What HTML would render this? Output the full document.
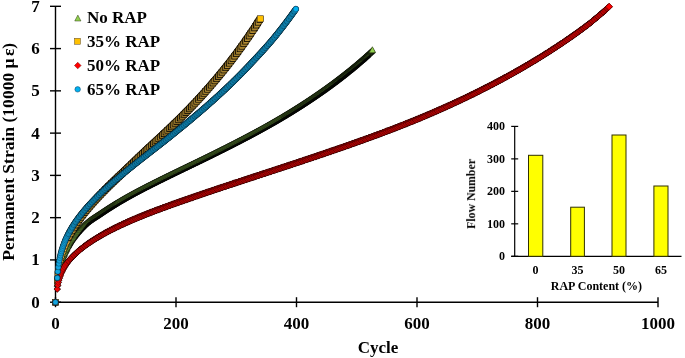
<!DOCTYPE html>
<html><head><meta charset="utf-8"><title>chart</title><style>
html,body{margin:0;padding:0;background:#fff;}
#c{position:relative;width:685px;height:358px;overflow:hidden;background:#fff;font-family:"Liberation Serif",serif;font-weight:bold;color:#000;}
.t{position:absolute;white-space:nowrap;line-height:1;}
#tx{position:absolute;left:0;top:0;width:685px;height:358px;will-change:opacity;opacity:0.999;}
.a{font-size:17px;}
.b{font-size:12px;}
</style></head><body><div id="c">
<svg width="685" height="358" viewBox="0 0 685 358" style="position:absolute;left:0;top:0">
<defs>
<polygon id="mt" points="-2.8,2.85 2.8,2.85 0,-2.0" fill="#92d050" stroke="#000" stroke-width="0.5"/>
<rect id="ms" x="-2.65" y="-2.65" width="5.3" height="5.3" fill="#e6b440" stroke="#000" stroke-width="0.22"/>
<polygon id="md" points="-3.1,0 0,-3.1 3.1,0 0,3.1" fill="#f00808" stroke="#000" stroke-width="0.3"/>
<circle id="mc" r="2.62" fill="#14a4de" stroke="#000" stroke-width="0.26"/>
<rect id="hs" x="-2.65" y="-2.65" width="5.3" height="5.3" fill="#e6b440" stroke="#000" stroke-width="0.85"/>
<polygon id="hd" points="-3.1,0 0,-3.1 3.1,0 0,3.1" fill="#f00808" stroke="#000" stroke-width="0.55"/>
<circle id="hc" r="2.62" fill="#14a4de" stroke="#000" stroke-width="0.45"/>
<polygon id="ht" points="-2.8,2.85 2.8,2.85 0,-2.0" fill="#92d050" stroke="#000" stroke-width="0.6"/>
<polygon id="ht2" points="-2.8,2.85 2.8,2.85 0,-2.0" fill="#92d050" stroke="#000" stroke-width="0.7"/>
<polygon id="ot" points="-3.0,3.0 3.0,3.0 0,-2.3" fill="#0c1404" stroke="#0c1404" stroke-width="0.5"/>
<rect id="os" x="-2.85" y="-2.85" width="5.7" height="5.7" fill="#2a1c00" stroke="#2a1c00" stroke-width="0.5"/>
<polygon id="od" points="-3.35,0 0,-3.35 3.35,0 0,3.35" fill="#3a0000" stroke="#3a0000" stroke-width="0.5"/>
<circle id="oc" r="2.85" fill="#04202e" stroke="#04202e" stroke-width="0.5"/>
<polygon id="et" points="-3.1,3.0 3.1,3.0 0,-2.9" fill="#92d050" stroke="#2c3c10" stroke-width="0.5"/>
<rect id="es" x="-3.0" y="-3.0" width="6.0" height="6.0" fill="#ffc000" stroke="#5a4a30" stroke-width="0.5"/>
<polygon id="ed" points="-3.3,0 0,-3.3 3.3,0 0,3.3" fill="#ff0000" stroke="#700000" stroke-width="0.5"/>
<circle id="ec" r="2.75" fill="#00b0f0" stroke="#104060" stroke-width="0.5"/>
</defs>
<g stroke="#000" stroke-width="1.4" fill="none">
<line x1="55.5" y1="6.3" x2="55.5" y2="302.2"/>
<line x1="55.5" y1="302.2" x2="658" y2="302.2"/>
<line x1="50" y1="302.20" x2="61" y2="302.20"/>
<line x1="50" y1="259.93" x2="61" y2="259.93"/>
<line x1="50" y1="217.66" x2="61" y2="217.66"/>
<line x1="50" y1="175.39" x2="61" y2="175.39"/>
<line x1="50" y1="133.12" x2="61" y2="133.12"/>
<line x1="50" y1="90.85" x2="61" y2="90.85"/>
<line x1="50" y1="48.58" x2="61" y2="48.58"/>
<line x1="50" y1="6.31" x2="61" y2="6.31"/>
<line x1="55.50" y1="297.2" x2="55.50" y2="307.2"/>
<line x1="176.00" y1="297.2" x2="176.00" y2="307.2"/>
<line x1="296.50" y1="297.2" x2="296.50" y2="307.2"/>
<line x1="417.00" y1="297.2" x2="417.00" y2="307.2"/>
<line x1="537.50" y1="297.2" x2="537.50" y2="307.2"/>
<line x1="658.00" y1="297.2" x2="658.00" y2="307.2"/>
</g>
<g stroke="#000" stroke-width="1.2" fill="none">
<line x1="514.7" y1="126.4" x2="514.7" y2="256.3"/>
<line x1="511.2" y1="256.3" x2="681.5" y2="256.3"/>
<line x1="511.2" y1="256.30" x2="518.2" y2="256.30"/>
<line x1="511.2" y1="223.83" x2="518.2" y2="223.83"/>
<line x1="511.2" y1="191.35" x2="518.2" y2="191.35"/>
<line x1="511.2" y1="158.88" x2="518.2" y2="158.88"/>
<line x1="511.2" y1="126.40" x2="518.2" y2="126.40"/>
</g>
<rect x="528.5" y="155.3" width="14.30" height="101.00" fill="#ffff00" stroke="#303000" stroke-width="1"/>
<rect x="570.7" y="207.2" width="13.70" height="49.10" fill="#ffff00" stroke="#303000" stroke-width="1"/>
<rect x="612.0" y="135.0" width="14.00" height="121.30" fill="#ffff00" stroke="#303000" stroke-width="1"/>
<rect x="653.9" y="186.0" width="14.10" height="70.30" fill="#ffff00" stroke="#303000" stroke-width="1"/>
<g id="s-green">
<use href="#ot" x="55.50" y="302.20"/>
<use href="#ot" x="57.28" y="283.51"/>
<use href="#ot" x="57.77" y="278.31"/>
<use href="#ot" x="58.27" y="274.59"/>
<use href="#ot" x="58.78" y="271.58"/>
<use href="#ot" x="59.30" y="269.01"/>
<use href="#ot" x="59.83" y="266.73"/>
<use href="#ot" x="60.36" y="264.66"/>
<use href="#ot" x="60.90" y="262.77"/>
<use href="#ot" x="61.45" y="261.01"/>
<use href="#ot" x="62.00" y="259.35"/>
<use href="#ot" x="62.56" y="257.79"/>
<use href="#ot" x="63.12" y="256.31"/>
<use href="#ot" x="63.69" y="254.89"/>
<use href="#ot" x="64.26" y="253.53"/>
<use href="#ot" x="64.83" y="252.20"/>
<use href="#ot" x="65.40" y="250.91"/>
<use href="#ot" x="65.98" y="249.65"/>
<use href="#ot" x="66.56" y="248.42"/>
<use href="#ot" x="67.14" y="247.22"/>
<use href="#ot" x="67.73" y="246.05"/>
<use href="#ot" x="68.31" y="244.92"/>
<use href="#ot" x="68.90" y="243.81"/>
<use href="#ot" x="69.49" y="242.74"/>
<use href="#ot" x="70.08" y="241.71"/>
<use href="#ot" x="70.67" y="240.71"/>
<use href="#ot" x="71.26" y="239.75"/>
<use href="#ot" x="71.85" y="238.84"/>
<use href="#ot" x="72.45" y="237.98"/>
<use href="#ot" x="73.04" y="237.14"/>
<use href="#ot" x="73.64" y="236.33"/>
<use href="#ot" x="74.24" y="235.54"/>
<use href="#ot" x="74.83" y="234.75"/>
<use href="#ot" x="75.43" y="233.99"/>
<use href="#ot" x="76.03" y="233.24"/>
<use href="#ot" x="76.63" y="232.50"/>
<use href="#ot" x="77.23" y="231.78"/>
<use href="#ot" x="77.82" y="231.08"/>
<use href="#ot" x="78.42" y="230.38"/>
<use href="#ot" x="79.02" y="229.70"/>
<use href="#ot" x="79.62" y="229.03"/>
<use href="#ot" x="80.22" y="228.37"/>
<use href="#ot" x="80.82" y="227.72"/>
<use href="#ot" x="81.43" y="227.09"/>
<use href="#ot" x="82.03" y="226.47"/>
<use href="#ot" x="82.63" y="225.86"/>
<use href="#ot" x="83.23" y="225.26"/>
<use href="#ot" x="83.83" y="224.67"/>
<use href="#ot" x="84.43" y="224.09"/>
<use href="#ot" x="85.03" y="223.52"/>
<use href="#ot" x="85.63" y="222.97"/>
<use href="#ot" x="86.24" y="222.44"/>
<use href="#ot" x="86.84" y="221.93"/>
<use href="#ot" x="87.44" y="221.44"/>
<use href="#ot" x="88.04" y="220.95"/>
<use href="#ot" x="88.64" y="220.49"/>
<use href="#ot" x="89.24" y="220.03"/>
<use href="#ot" x="89.85" y="219.59"/>
<use href="#ot" x="90.45" y="219.16"/>
<use href="#ot" x="91.05" y="218.73"/>
<use href="#ot" x="91.65" y="218.32"/>
<use href="#ot" x="92.26" y="217.91"/>
<use href="#ot" x="92.86" y="217.51"/>
<use href="#ot" x="93.46" y="217.11"/>
<use href="#ot" x="94.06" y="216.72"/>
<use href="#ot" x="94.66" y="216.33"/>
<use href="#ot" x="95.27" y="215.94"/>
<use href="#ot" x="95.87" y="215.55"/>
<use href="#ot" x="96.47" y="215.17"/>
<use href="#ot" x="97.07" y="214.78"/>
<use href="#ot" x="97.68" y="214.39"/>
<use href="#ot" x="98.28" y="214.00"/>
<use href="#ot" x="98.88" y="213.60"/>
<use href="#ot" x="99.48" y="213.20"/>
<use href="#ot" x="100.09" y="212.79"/>
<use href="#ot" x="100.69" y="212.38"/>
<use href="#ot" x="101.29" y="211.97"/>
<use href="#ot" x="101.89" y="211.57"/>
<use href="#ot" x="102.50" y="211.16"/>
<use href="#ot" x="103.10" y="210.76"/>
<use href="#ot" x="103.70" y="210.36"/>
<use href="#ot" x="104.30" y="209.97"/>
<use href="#ot" x="104.91" y="209.57"/>
<use href="#ot" x="105.51" y="209.18"/>
<use href="#ot" x="106.11" y="208.79"/>
<use href="#ot" x="106.71" y="208.40"/>
<use href="#ot" x="107.32" y="208.01"/>
<use href="#ot" x="107.92" y="207.63"/>
<use href="#ot" x="108.52" y="207.24"/>
<use href="#ot" x="109.12" y="206.86"/>
<use href="#ot" x="109.73" y="206.48"/>
<use href="#ot" x="110.33" y="206.10"/>
<use href="#ot" x="110.93" y="205.72"/>
<use href="#ot" x="111.53" y="205.35"/>
<use href="#ot" x="112.14" y="204.97"/>
<use href="#ot" x="112.74" y="204.60"/>
<use href="#ot" x="113.34" y="204.23"/>
<use href="#ot" x="113.94" y="203.86"/>
<use href="#ot" x="114.55" y="203.49"/>
<use href="#ot" x="115.15" y="203.13"/>
<use href="#ot" x="115.75" y="202.76"/>
<use href="#ot" x="116.35" y="202.40"/>
<use href="#ot" x="116.96" y="202.04"/>
<use href="#ot" x="117.56" y="201.68"/>
<use href="#ot" x="118.16" y="201.32"/>
<use href="#ot" x="118.76" y="200.96"/>
<use href="#ot" x="119.37" y="200.60"/>
<use href="#ot" x="119.97" y="200.25"/>
<use href="#ot" x="120.57" y="199.90"/>
<use href="#ot" x="121.17" y="199.55"/>
<use href="#ot" x="121.78" y="199.20"/>
<use href="#ot" x="122.38" y="198.85"/>
<use href="#ot" x="122.98" y="198.50"/>
<use href="#ot" x="123.58" y="198.15"/>
<use href="#ot" x="124.19" y="197.81"/>
<use href="#ot" x="124.79" y="197.46"/>
<use href="#ot" x="125.39" y="197.12"/>
<use href="#ot" x="125.99" y="196.78"/>
<use href="#ot" x="126.60" y="196.44"/>
<use href="#ot" x="127.20" y="196.10"/>
<use href="#ot" x="127.80" y="195.77"/>
<use href="#ot" x="128.40" y="195.43"/>
<use href="#ot" x="129.01" y="195.10"/>
<use href="#ot" x="129.61" y="194.77"/>
<use href="#ot" x="130.21" y="194.44"/>
<use href="#ot" x="130.81" y="194.11"/>
<use href="#ot" x="131.42" y="193.78"/>
<use href="#ot" x="132.02" y="193.45"/>
<use href="#ot" x="132.62" y="193.12"/>
<use href="#ot" x="133.22" y="192.80"/>
<use href="#ot" x="133.83" y="192.47"/>
<use href="#ot" x="134.43" y="192.15"/>
<use href="#ot" x="135.03" y="191.82"/>
<use href="#ot" x="135.63" y="191.50"/>
<use href="#ot" x="136.24" y="191.18"/>
<use href="#ot" x="136.84" y="190.86"/>
<use href="#ot" x="137.44" y="190.54"/>
<use href="#ot" x="138.04" y="190.22"/>
<use href="#ot" x="138.65" y="189.91"/>
<use href="#ot" x="139.25" y="189.59"/>
<use href="#ot" x="139.85" y="189.27"/>
<use href="#ot" x="140.45" y="188.96"/>
<use href="#ot" x="141.06" y="188.64"/>
<use href="#ot" x="141.66" y="188.33"/>
<use href="#ot" x="142.26" y="188.02"/>
<use href="#ot" x="142.86" y="187.70"/>
<use href="#ot" x="143.47" y="187.39"/>
<use href="#ot" x="144.07" y="187.08"/>
<use href="#ot" x="144.67" y="186.77"/>
<use href="#ot" x="145.27" y="186.46"/>
<use href="#ot" x="145.88" y="186.15"/>
<use href="#ot" x="146.48" y="185.85"/>
<use href="#ot" x="147.08" y="185.54"/>
<use href="#ot" x="147.68" y="185.23"/>
<use href="#ot" x="148.29" y="184.92"/>
<use href="#ot" x="148.89" y="184.62"/>
<use href="#ot" x="149.49" y="184.31"/>
<use href="#ot" x="150.09" y="184.01"/>
<use href="#ot" x="150.70" y="183.70"/>
<use href="#ot" x="151.30" y="183.40"/>
<use href="#ot" x="151.90" y="183.10"/>
<use href="#ot" x="152.50" y="182.79"/>
<use href="#ot" x="153.11" y="182.49"/>
<use href="#ot" x="153.71" y="182.19"/>
<use href="#ot" x="154.31" y="181.89"/>
<use href="#ot" x="154.91" y="181.58"/>
<use href="#ot" x="155.52" y="181.28"/>
<use href="#ot" x="156.12" y="180.98"/>
<use href="#ot" x="156.72" y="180.68"/>
<use href="#ot" x="157.32" y="180.38"/>
<use href="#ot" x="157.93" y="180.08"/>
<use href="#ot" x="158.53" y="179.79"/>
<use href="#ot" x="159.13" y="179.49"/>
<use href="#ot" x="159.73" y="179.19"/>
<use href="#ot" x="160.34" y="178.89"/>
<use href="#ot" x="160.94" y="178.59"/>
<use href="#ot" x="161.54" y="178.29"/>
<use href="#ot" x="162.14" y="178.00"/>
<use href="#ot" x="162.75" y="177.70"/>
<use href="#ot" x="163.35" y="177.40"/>
<use href="#ot" x="163.95" y="177.11"/>
<use href="#ot" x="164.55" y="176.81"/>
<use href="#ot" x="165.16" y="176.52"/>
<use href="#ot" x="165.76" y="176.22"/>
<use href="#ot" x="166.36" y="175.92"/>
<use href="#ot" x="166.96" y="175.63"/>
<use href="#ot" x="167.57" y="175.33"/>
<use href="#ot" x="168.17" y="175.04"/>
<use href="#ot" x="168.77" y="174.74"/>
<use href="#ot" x="169.37" y="174.45"/>
<use href="#ot" x="169.98" y="174.15"/>
<use href="#ot" x="170.58" y="173.86"/>
<use href="#ot" x="171.18" y="173.57"/>
<use href="#ot" x="171.78" y="173.27"/>
<use href="#ot" x="172.39" y="172.98"/>
<use href="#ot" x="172.99" y="172.68"/>
<use href="#ot" x="173.59" y="172.39"/>
<use href="#ot" x="174.19" y="172.10"/>
<use href="#ot" x="174.80" y="171.81"/>
<use href="#ot" x="175.40" y="171.51"/>
<use href="#ot" x="176.00" y="171.22"/>
<use href="#ot" x="176.60" y="170.93"/>
<use href="#ot" x="177.21" y="170.64"/>
<use href="#ot" x="177.81" y="170.35"/>
<use href="#ot" x="178.41" y="170.05"/>
<use href="#ot" x="179.01" y="169.76"/>
<use href="#ot" x="179.62" y="169.47"/>
<use href="#ot" x="180.22" y="169.18"/>
<use href="#ot" x="180.82" y="168.89"/>
<use href="#ot" x="181.42" y="168.60"/>
<use href="#ot" x="182.03" y="168.31"/>
<use href="#ot" x="182.63" y="168.02"/>
<use href="#ot" x="183.23" y="167.73"/>
<use href="#ot" x="183.83" y="167.44"/>
<use href="#ot" x="184.44" y="167.15"/>
<use href="#ot" x="185.04" y="166.86"/>
<use href="#ot" x="185.64" y="166.56"/>
<use href="#ot" x="186.24" y="166.27"/>
<use href="#ot" x="186.85" y="165.98"/>
<use href="#ot" x="187.45" y="165.69"/>
<use href="#ot" x="188.05" y="165.40"/>
<use href="#ot" x="188.65" y="165.11"/>
<use href="#ot" x="189.26" y="164.82"/>
<use href="#ot" x="189.86" y="164.53"/>
<use href="#ot" x="190.46" y="164.24"/>
<use href="#ot" x="191.06" y="163.95"/>
<use href="#ot" x="191.67" y="163.66"/>
<use href="#ot" x="192.27" y="163.37"/>
<use href="#ot" x="192.87" y="163.08"/>
<use href="#ot" x="193.47" y="162.79"/>
<use href="#ot" x="194.08" y="162.49"/>
<use href="#ot" x="194.68" y="162.20"/>
<use href="#ot" x="195.28" y="161.91"/>
<use href="#ot" x="195.88" y="161.62"/>
<use href="#ot" x="196.49" y="161.33"/>
<use href="#ot" x="197.09" y="161.04"/>
<use href="#ot" x="197.69" y="160.74"/>
<use href="#ot" x="198.29" y="160.45"/>
<use href="#ot" x="198.90" y="160.16"/>
<use href="#ot" x="199.50" y="159.87"/>
<use href="#ot" x="200.10" y="159.57"/>
<use href="#ot" x="200.70" y="159.28"/>
<use href="#ot" x="201.31" y="158.99"/>
<use href="#ot" x="201.91" y="158.69"/>
<use href="#ot" x="202.51" y="158.40"/>
<use href="#ot" x="203.11" y="158.10"/>
<use href="#ot" x="203.72" y="157.81"/>
<use href="#ot" x="204.32" y="157.51"/>
<use href="#ot" x="204.92" y="157.22"/>
<use href="#ot" x="205.52" y="156.92"/>
<use href="#ot" x="206.13" y="156.63"/>
<use href="#ot" x="206.73" y="156.33"/>
<use href="#ot" x="207.33" y="156.04"/>
<use href="#ot" x="207.93" y="155.74"/>
<use href="#ot" x="208.54" y="155.44"/>
<use href="#ot" x="209.14" y="155.14"/>
<use href="#ot" x="209.74" y="154.85"/>
<use href="#ot" x="210.34" y="154.55"/>
<use href="#ot" x="210.95" y="154.25"/>
<use href="#ot" x="211.55" y="153.95"/>
<use href="#ot" x="212.15" y="153.65"/>
<use href="#ot" x="212.75" y="153.35"/>
<use href="#ot" x="213.36" y="153.05"/>
<use href="#ot" x="213.96" y="152.75"/>
<use href="#ot" x="214.56" y="152.45"/>
<use href="#ot" x="215.16" y="152.16"/>
<use href="#ot" x="215.77" y="151.86"/>
<use href="#ot" x="216.37" y="151.56"/>
<use href="#ot" x="216.97" y="151.25"/>
<use href="#ot" x="217.57" y="150.95"/>
<use href="#ot" x="218.18" y="150.65"/>
<use href="#ot" x="218.78" y="150.35"/>
<use href="#ot" x="219.38" y="150.05"/>
<use href="#ot" x="219.98" y="149.75"/>
<use href="#ot" x="220.59" y="149.45"/>
<use href="#ot" x="221.19" y="149.15"/>
<use href="#ot" x="221.79" y="148.84"/>
<use href="#ot" x="222.39" y="148.54"/>
<use href="#ot" x="223.00" y="148.24"/>
<use href="#ot" x="223.60" y="147.94"/>
<use href="#ot" x="224.20" y="147.63"/>
<use href="#ot" x="224.80" y="147.33"/>
<use href="#ot" x="225.41" y="147.02"/>
<use href="#ot" x="226.01" y="146.72"/>
<use href="#ot" x="226.61" y="146.42"/>
<use href="#ot" x="227.21" y="146.11"/>
<use href="#ot" x="227.82" y="145.81"/>
<use href="#ot" x="228.42" y="145.50"/>
<use href="#ot" x="229.02" y="145.19"/>
<use href="#ot" x="229.62" y="144.89"/>
<use href="#ot" x="230.23" y="144.58"/>
<use href="#ot" x="230.83" y="144.28"/>
<use href="#ot" x="231.43" y="143.97"/>
<use href="#ot" x="232.03" y="143.66"/>
<use href="#ot" x="232.64" y="143.35"/>
<use href="#ot" x="233.24" y="143.04"/>
<use href="#ot" x="233.84" y="142.74"/>
<use href="#ot" x="234.44" y="142.43"/>
<use href="#ot" x="235.05" y="142.12"/>
<use href="#ot" x="235.65" y="141.81"/>
<use href="#ot" x="236.25" y="141.50"/>
<use href="#ot" x="236.85" y="141.19"/>
<use href="#ot" x="237.46" y="140.87"/>
<use href="#ot" x="238.06" y="140.56"/>
<use href="#ot" x="238.66" y="140.25"/>
<use href="#ot" x="239.26" y="139.94"/>
<use href="#ot" x="239.87" y="139.63"/>
<use href="#ot" x="240.47" y="139.31"/>
<use href="#ot" x="241.07" y="139.00"/>
<use href="#ot" x="241.67" y="138.68"/>
<use href="#ot" x="242.28" y="138.37"/>
<use href="#ot" x="242.88" y="138.05"/>
<use href="#ot" x="243.48" y="137.74"/>
<use href="#ot" x="244.08" y="137.42"/>
<use href="#ot" x="244.69" y="137.11"/>
<use href="#ot" x="245.29" y="136.79"/>
<use href="#ot" x="245.89" y="136.47"/>
<use href="#ot" x="246.49" y="136.15"/>
<use href="#ot" x="247.10" y="135.84"/>
<use href="#ot" x="247.70" y="135.52"/>
<use href="#ot" x="248.30" y="135.20"/>
<use href="#ot" x="248.90" y="134.88"/>
<use href="#ot" x="249.51" y="134.56"/>
<use href="#ot" x="250.11" y="134.23"/>
<use href="#ot" x="250.71" y="133.91"/>
<use href="#ot" x="251.31" y="133.59"/>
<use href="#ot" x="251.92" y="133.27"/>
<use href="#ot" x="252.52" y="132.94"/>
<use href="#ot" x="253.12" y="132.62"/>
<use href="#ot" x="253.72" y="132.30"/>
<use href="#ot" x="254.33" y="131.97"/>
<use href="#ot" x="254.93" y="131.64"/>
<use href="#ot" x="255.53" y="131.32"/>
<use href="#ot" x="256.13" y="130.99"/>
<use href="#ot" x="256.74" y="130.66"/>
<use href="#ot" x="257.34" y="130.34"/>
<use href="#ot" x="257.94" y="130.01"/>
<use href="#ot" x="258.54" y="129.68"/>
<use href="#ot" x="259.14" y="129.35"/>
<use href="#ot" x="259.75" y="129.02"/>
<use href="#ot" x="260.35" y="128.69"/>
<use href="#ot" x="260.95" y="128.35"/>
<use href="#ot" x="261.56" y="128.02"/>
<use href="#ot" x="262.16" y="127.69"/>
<use href="#ot" x="262.76" y="127.35"/>
<use href="#ot" x="263.36" y="127.02"/>
<use href="#ot" x="263.97" y="126.69"/>
<use href="#ot" x="264.57" y="126.35"/>
<use href="#ot" x="265.17" y="126.01"/>
<use href="#ot" x="265.77" y="125.68"/>
<use href="#ot" x="266.38" y="125.34"/>
<use href="#ot" x="266.98" y="125.00"/>
<use href="#ot" x="267.58" y="124.66"/>
<use href="#ot" x="268.18" y="124.32"/>
<use href="#ot" x="268.79" y="123.98"/>
<use href="#ot" x="269.39" y="123.64"/>
<use href="#ot" x="269.99" y="123.29"/>
<use href="#ot" x="270.59" y="122.95"/>
<use href="#ot" x="271.20" y="122.61"/>
<use href="#ot" x="271.80" y="122.26"/>
<use href="#ot" x="272.40" y="121.92"/>
<use href="#ot" x="273.00" y="121.57"/>
<use href="#ot" x="273.61" y="121.22"/>
<use href="#ot" x="274.21" y="120.88"/>
<use href="#ot" x="274.81" y="120.53"/>
<use href="#ot" x="275.41" y="120.18"/>
<use href="#ot" x="276.01" y="119.83"/>
<use href="#ot" x="276.62" y="119.48"/>
<use href="#ot" x="277.22" y="119.12"/>
<use href="#ot" x="277.82" y="118.77"/>
<use href="#ot" x="278.43" y="118.42"/>
<use href="#ot" x="279.03" y="118.06"/>
<use href="#ot" x="279.63" y="117.71"/>
<use href="#ot" x="280.23" y="117.35"/>
<use href="#ot" x="280.84" y="116.99"/>
<use href="#ot" x="281.44" y="116.64"/>
<use href="#ot" x="282.04" y="116.28"/>
<use href="#ot" x="282.64" y="115.92"/>
<use href="#ot" x="283.25" y="115.56"/>
<use href="#ot" x="283.85" y="115.19"/>
<use href="#ot" x="284.45" y="114.83"/>
<use href="#ot" x="285.05" y="114.47"/>
<use href="#ot" x="285.65" y="114.10"/>
<use href="#ot" x="286.26" y="113.74"/>
<use href="#ot" x="286.86" y="113.37"/>
<use href="#ot" x="287.46" y="113.01"/>
<use href="#ot" x="288.07" y="112.64"/>
<use href="#ot" x="288.67" y="112.27"/>
<use href="#ot" x="289.27" y="111.90"/>
<use href="#ot" x="289.87" y="111.53"/>
<use href="#ot" x="290.48" y="111.16"/>
<use href="#ot" x="291.08" y="110.79"/>
<use href="#ot" x="291.68" y="110.41"/>
<use href="#ot" x="292.28" y="110.04"/>
<use href="#ot" x="292.88" y="109.66"/>
<use href="#ot" x="293.49" y="109.29"/>
<use href="#ot" x="294.09" y="108.91"/>
<use href="#ot" x="294.69" y="108.53"/>
<use href="#ot" x="295.30" y="108.15"/>
<use href="#ot" x="295.90" y="107.77"/>
<use href="#ot" x="296.50" y="107.39"/>
<use href="#ot" x="297.10" y="107.01"/>
<use href="#ot" x="297.71" y="106.63"/>
<use href="#ot" x="298.31" y="106.24"/>
<use href="#ot" x="298.91" y="105.86"/>
<use href="#ot" x="299.51" y="105.47"/>
<use href="#ot" x="300.12" y="105.09"/>
<use href="#ot" x="300.72" y="104.70"/>
<use href="#ot" x="301.32" y="104.31"/>
<use href="#ot" x="301.92" y="103.92"/>
<use href="#ot" x="302.52" y="103.53"/>
<use href="#ot" x="303.13" y="103.14"/>
<use href="#ot" x="303.73" y="102.75"/>
<use href="#ot" x="304.33" y="102.35"/>
<use href="#ot" x="304.94" y="101.96"/>
<use href="#ot" x="305.54" y="101.56"/>
<use href="#ot" x="306.14" y="101.17"/>
<use href="#ot" x="306.74" y="100.77"/>
<use href="#ot" x="307.35" y="100.37"/>
<use href="#ot" x="307.95" y="99.97"/>
<use href="#ot" x="308.55" y="99.57"/>
<use href="#ot" x="309.15" y="99.17"/>
<use href="#ot" x="309.75" y="98.77"/>
<use href="#ot" x="310.36" y="98.36"/>
<use href="#ot" x="310.96" y="97.96"/>
<use href="#ot" x="311.56" y="97.55"/>
<use href="#ot" x="312.17" y="97.14"/>
<use href="#ot" x="312.77" y="96.74"/>
<use href="#ot" x="313.37" y="96.33"/>
<use href="#ot" x="313.97" y="95.92"/>
<use href="#ot" x="314.57" y="95.51"/>
<use href="#ot" x="315.18" y="95.09"/>
<use href="#ot" x="315.78" y="94.68"/>
<use href="#ot" x="316.38" y="94.27"/>
<use href="#ot" x="316.99" y="93.85"/>
<use href="#ot" x="317.59" y="93.43"/>
<use href="#ot" x="318.19" y="93.02"/>
<use href="#ot" x="318.79" y="92.60"/>
<use href="#ot" x="319.40" y="92.18"/>
<use href="#ot" x="320.00" y="91.76"/>
<use href="#ot" x="320.60" y="91.33"/>
<use href="#ot" x="321.20" y="90.91"/>
<use href="#ot" x="321.81" y="90.49"/>
<use href="#ot" x="322.41" y="90.06"/>
<use href="#ot" x="323.01" y="89.63"/>
<use href="#ot" x="323.61" y="89.20"/>
<use href="#ot" x="324.22" y="88.78"/>
<use href="#ot" x="324.82" y="88.34"/>
<use href="#ot" x="325.42" y="87.91"/>
<use href="#ot" x="326.02" y="87.48"/>
<use href="#ot" x="326.62" y="87.04"/>
<use href="#ot" x="327.23" y="86.61"/>
<use href="#ot" x="327.83" y="86.17"/>
<use href="#ot" x="328.43" y="85.73"/>
<use href="#ot" x="329.04" y="85.29"/>
<use href="#ot" x="329.64" y="84.85"/>
<use href="#ot" x="330.24" y="84.41"/>
<use href="#ot" x="330.84" y="83.97"/>
<use href="#ot" x="331.44" y="83.52"/>
<use href="#ot" x="332.05" y="83.07"/>
<use href="#ot" x="332.65" y="82.63"/>
<use href="#ot" x="333.25" y="82.18"/>
<use href="#ot" x="333.86" y="81.73"/>
<use href="#ot" x="334.46" y="81.28"/>
<use href="#ot" x="335.06" y="80.82"/>
<use href="#ot" x="335.66" y="80.37"/>
<use href="#ot" x="336.27" y="79.91"/>
<use href="#ot" x="336.87" y="79.45"/>
<use href="#ot" x="337.47" y="78.99"/>
<use href="#ot" x="338.07" y="78.53"/>
<use href="#ot" x="338.68" y="78.07"/>
<use href="#ot" x="339.28" y="77.61"/>
<use href="#ot" x="339.88" y="77.14"/>
<use href="#ot" x="340.48" y="76.68"/>
<use href="#ot" x="341.09" y="76.21"/>
<use href="#ot" x="341.69" y="75.74"/>
<use href="#ot" x="342.29" y="75.27"/>
<use href="#ot" x="342.89" y="74.80"/>
<use href="#ot" x="343.50" y="74.33"/>
<use href="#ot" x="344.10" y="73.85"/>
<use href="#ot" x="344.70" y="73.37"/>
<use href="#ot" x="345.30" y="72.90"/>
<use href="#ot" x="345.91" y="72.42"/>
<use href="#ot" x="346.51" y="71.93"/>
<use href="#ot" x="347.11" y="71.45"/>
<use href="#ot" x="347.71" y="70.97"/>
<use href="#ot" x="348.31" y="70.48"/>
<use href="#ot" x="348.92" y="69.99"/>
<use href="#ot" x="349.52" y="69.51"/>
<use href="#ot" x="350.12" y="69.01"/>
<use href="#ot" x="350.73" y="68.52"/>
<use href="#ot" x="351.33" y="68.03"/>
<use href="#ot" x="351.93" y="67.53"/>
<use href="#ot" x="352.53" y="67.03"/>
<use href="#ot" x="353.13" y="66.53"/>
<use href="#ot" x="353.74" y="66.03"/>
<use href="#ot" x="354.34" y="65.53"/>
<use href="#ot" x="354.94" y="65.03"/>
<use href="#ot" x="355.55" y="64.52"/>
<use href="#ot" x="356.15" y="64.01"/>
<use href="#ot" x="356.75" y="63.50"/>
<use href="#ot" x="357.35" y="62.99"/>
<use href="#ot" x="357.96" y="62.48"/>
<use href="#ot" x="358.56" y="61.96"/>
<use href="#ot" x="359.16" y="61.44"/>
<use href="#ot" x="359.76" y="60.92"/>
<use href="#ot" x="360.37" y="60.40"/>
<use href="#ot" x="360.97" y="59.88"/>
<use href="#ot" x="361.57" y="59.36"/>
<use href="#ot" x="362.17" y="58.83"/>
<use href="#ot" x="362.78" y="58.30"/>
<use href="#ot" x="363.38" y="57.77"/>
<use href="#ot" x="363.98" y="57.24"/>
<use href="#ot" x="364.58" y="56.71"/>
<use href="#ot" x="365.19" y="56.17"/>
<use href="#ot" x="365.79" y="55.64"/>
<use href="#ot" x="366.39" y="55.10"/>
<use href="#ot" x="366.99" y="54.56"/>
<use href="#ot" x="367.60" y="54.01"/>
<use href="#ot" x="368.20" y="53.47"/>
<use href="#ot" x="368.80" y="52.92"/>
<use href="#ot" x="369.40" y="52.37"/>
<use href="#ot" x="370.00" y="51.82"/>
<use href="#ot" x="370.61" y="51.27"/>
<use href="#ot" x="371.21" y="50.72"/>
<use href="#ot" x="371.81" y="50.16"/>
<use href="#ot" x="372.42" y="49.60"/>
<use href="#mt" x="55.50" y="302.20"/>
<use href="#mt" x="57.28" y="283.51"/>
<use href="#mt" x="57.77" y="278.31"/>
<use href="#mt" x="58.27" y="274.59"/>
<use href="#mt" x="58.78" y="271.58"/>
<use href="#mt" x="59.30" y="269.01"/>
<use href="#mt" x="59.83" y="266.73"/>
<use href="#mt" x="60.36" y="264.66"/>
<use href="#mt" x="60.90" y="262.77"/>
<use href="#mt" x="61.45" y="261.01"/>
<use href="#mt" x="62.00" y="259.35"/>
<use href="#mt" x="62.56" y="257.79"/>
<use href="#mt" x="63.12" y="256.31"/>
<use href="#mt" x="63.69" y="254.89"/>
<use href="#mt" x="64.26" y="253.53"/>
<use href="#mt" x="64.83" y="252.20"/>
<use href="#mt" x="65.40" y="250.91"/>
<use href="#mt" x="65.98" y="249.65"/>
<use href="#mt" x="66.56" y="248.42"/>
<use href="#mt" x="67.14" y="247.22"/>
<use href="#mt" x="67.73" y="246.05"/>
<use href="#mt" x="68.31" y="244.92"/>
<use href="#mt" x="68.90" y="243.81"/>
<use href="#mt" x="69.49" y="242.74"/>
<use href="#mt" x="70.08" y="241.71"/>
<use href="#mt" x="70.67" y="240.71"/>
<use href="#mt" x="71.26" y="239.75"/>
<use href="#mt" x="71.85" y="238.84"/>
<use href="#mt" x="72.45" y="237.98"/>
<use href="#mt" x="73.04" y="237.14"/>
<use href="#mt" x="73.64" y="236.33"/>
<use href="#mt" x="74.24" y="235.54"/>
<use href="#mt" x="74.83" y="234.75"/>
<use href="#mt" x="75.43" y="233.99"/>
<use href="#mt" x="76.03" y="233.24"/>
<use href="#mt" x="76.63" y="232.50"/>
<use href="#mt" x="77.23" y="231.78"/>
<use href="#mt" x="77.82" y="231.08"/>
<use href="#mt" x="78.42" y="230.38"/>
<use href="#mt" x="79.02" y="229.70"/>
<use href="#mt" x="79.62" y="229.03"/>
<use href="#mt" x="80.22" y="228.37"/>
<use href="#mt" x="80.82" y="227.72"/>
<use href="#mt" x="81.43" y="227.09"/>
<use href="#mt" x="82.03" y="226.47"/>
<use href="#mt" x="82.63" y="225.86"/>
<use href="#mt" x="83.23" y="225.26"/>
<use href="#mt" x="83.83" y="224.67"/>
<use href="#mt" x="84.43" y="224.09"/>
<use href="#mt" x="85.03" y="223.52"/>
<use href="#mt" x="85.63" y="222.97"/>
<use href="#mt" x="86.24" y="222.44"/>
<use href="#mt" x="86.84" y="221.93"/>
<use href="#mt" x="87.44" y="221.44"/>
<use href="#mt" x="88.04" y="220.95"/>
<use href="#mt" x="88.64" y="220.49"/>
<use href="#mt" x="89.24" y="220.03"/>
<use href="#mt" x="89.85" y="219.59"/>
<use href="#mt" x="90.45" y="219.16"/>
<use href="#mt" x="91.05" y="218.73"/>
<use href="#mt" x="91.65" y="218.32"/>
<use href="#ht" x="92.26" y="217.91"/>
<use href="#ht" x="92.86" y="217.51"/>
<use href="#ht" x="93.46" y="217.11"/>
<use href="#ht" x="94.06" y="216.72"/>
<use href="#ht" x="94.66" y="216.33"/>
<use href="#ht" x="95.27" y="215.94"/>
<use href="#ht" x="95.87" y="215.55"/>
<use href="#ht" x="96.47" y="215.17"/>
<use href="#ht" x="97.07" y="214.78"/>
<use href="#ht" x="97.68" y="214.39"/>
<use href="#ht" x="98.28" y="214.00"/>
<use href="#ht" x="98.88" y="213.60"/>
<use href="#ht" x="99.48" y="213.20"/>
<use href="#ht" x="100.09" y="212.79"/>
<use href="#ht" x="100.69" y="212.38"/>
<use href="#ht" x="101.29" y="211.97"/>
<use href="#ht" x="101.89" y="211.57"/>
<use href="#ht" x="102.50" y="211.16"/>
<use href="#ht" x="103.10" y="210.76"/>
<use href="#ht" x="103.70" y="210.36"/>
<use href="#ht" x="104.30" y="209.97"/>
<use href="#ht" x="104.91" y="209.57"/>
<use href="#ht" x="105.51" y="209.18"/>
<use href="#ht" x="106.11" y="208.79"/>
<use href="#ht" x="106.71" y="208.40"/>
<use href="#ht" x="107.32" y="208.01"/>
<use href="#ht" x="107.92" y="207.63"/>
<use href="#ht" x="108.52" y="207.24"/>
<use href="#ht" x="109.12" y="206.86"/>
<use href="#ht" x="109.73" y="206.48"/>
<use href="#ht" x="110.33" y="206.10"/>
<use href="#ht" x="110.93" y="205.72"/>
<use href="#ht" x="111.53" y="205.35"/>
<use href="#ht" x="112.14" y="204.97"/>
<use href="#ht" x="112.74" y="204.60"/>
<use href="#ht" x="113.34" y="204.23"/>
<use href="#ht" x="113.94" y="203.86"/>
<use href="#ht" x="114.55" y="203.49"/>
<use href="#ht" x="115.15" y="203.13"/>
<use href="#ht" x="115.75" y="202.76"/>
<use href="#ht" x="116.35" y="202.40"/>
<use href="#mt" x="116.96" y="202.04"/>
<use href="#mt" x="117.56" y="201.68"/>
<use href="#mt" x="118.16" y="201.32"/>
<use href="#mt" x="118.76" y="200.96"/>
<use href="#mt" x="119.37" y="200.60"/>
<use href="#mt" x="119.97" y="200.25"/>
<use href="#mt" x="120.57" y="199.90"/>
<use href="#mt" x="121.17" y="199.55"/>
<use href="#mt" x="121.78" y="199.20"/>
<use href="#mt" x="122.38" y="198.85"/>
<use href="#mt" x="122.98" y="198.50"/>
<use href="#mt" x="123.58" y="198.15"/>
<use href="#mt" x="124.19" y="197.81"/>
<use href="#mt" x="124.79" y="197.46"/>
<use href="#mt" x="125.39" y="197.12"/>
<use href="#mt" x="125.99" y="196.78"/>
<use href="#mt" x="126.60" y="196.44"/>
<use href="#mt" x="127.20" y="196.10"/>
<use href="#mt" x="127.80" y="195.77"/>
<use href="#mt" x="128.40" y="195.43"/>
<use href="#mt" x="129.01" y="195.10"/>
<use href="#mt" x="129.61" y="194.77"/>
<use href="#mt" x="130.21" y="194.44"/>
<use href="#mt" x="130.81" y="194.11"/>
<use href="#mt" x="131.42" y="193.78"/>
<use href="#mt" x="132.02" y="193.45"/>
<use href="#mt" x="132.62" y="193.12"/>
<use href="#mt" x="133.22" y="192.80"/>
<use href="#mt" x="133.83" y="192.47"/>
<use href="#mt" x="134.43" y="192.15"/>
<use href="#mt" x="135.03" y="191.82"/>
<use href="#mt" x="135.63" y="191.50"/>
<use href="#mt" x="136.24" y="191.18"/>
<use href="#mt" x="136.84" y="190.86"/>
<use href="#mt" x="137.44" y="190.54"/>
<use href="#mt" x="138.04" y="190.22"/>
<use href="#mt" x="138.65" y="189.91"/>
<use href="#mt" x="139.25" y="189.59"/>
<use href="#mt" x="139.85" y="189.27"/>
<use href="#mt" x="140.45" y="188.96"/>
<use href="#mt" x="141.06" y="188.64"/>
<use href="#mt" x="141.66" y="188.33"/>
<use href="#mt" x="142.26" y="188.02"/>
<use href="#mt" x="142.86" y="187.70"/>
<use href="#mt" x="143.47" y="187.39"/>
<use href="#mt" x="144.07" y="187.08"/>
<use href="#mt" x="144.67" y="186.77"/>
<use href="#mt" x="145.27" y="186.46"/>
<use href="#mt" x="145.88" y="186.15"/>
<use href="#mt" x="146.48" y="185.85"/>
<use href="#mt" x="147.08" y="185.54"/>
<use href="#mt" x="147.68" y="185.23"/>
<use href="#mt" x="148.29" y="184.92"/>
<use href="#mt" x="148.89" y="184.62"/>
<use href="#mt" x="149.49" y="184.31"/>
<use href="#mt" x="150.09" y="184.01"/>
<use href="#mt" x="150.70" y="183.70"/>
<use href="#mt" x="151.30" y="183.40"/>
<use href="#mt" x="151.90" y="183.10"/>
<use href="#mt" x="152.50" y="182.79"/>
<use href="#mt" x="153.11" y="182.49"/>
<use href="#mt" x="153.71" y="182.19"/>
<use href="#mt" x="154.31" y="181.89"/>
<use href="#mt" x="154.91" y="181.58"/>
<use href="#mt" x="155.52" y="181.28"/>
<use href="#mt" x="156.12" y="180.98"/>
<use href="#mt" x="156.72" y="180.68"/>
<use href="#mt" x="157.32" y="180.38"/>
<use href="#mt" x="157.93" y="180.08"/>
<use href="#mt" x="158.53" y="179.79"/>
<use href="#mt" x="159.13" y="179.49"/>
<use href="#mt" x="159.73" y="179.19"/>
<use href="#mt" x="160.34" y="178.89"/>
<use href="#mt" x="160.94" y="178.59"/>
<use href="#mt" x="161.54" y="178.29"/>
<use href="#mt" x="162.14" y="178.00"/>
<use href="#mt" x="162.75" y="177.70"/>
<use href="#mt" x="163.35" y="177.40"/>
<use href="#mt" x="163.95" y="177.11"/>
<use href="#mt" x="164.55" y="176.81"/>
<use href="#mt" x="165.16" y="176.52"/>
<use href="#mt" x="165.76" y="176.22"/>
<use href="#mt" x="166.36" y="175.92"/>
<use href="#mt" x="166.96" y="175.63"/>
<use href="#mt" x="167.57" y="175.33"/>
<use href="#mt" x="168.17" y="175.04"/>
<use href="#mt" x="168.77" y="174.74"/>
<use href="#mt" x="169.37" y="174.45"/>
<use href="#mt" x="169.98" y="174.15"/>
<use href="#mt" x="170.58" y="173.86"/>
<use href="#mt" x="171.18" y="173.57"/>
<use href="#mt" x="171.78" y="173.27"/>
<use href="#mt" x="172.39" y="172.98"/>
<use href="#mt" x="172.99" y="172.68"/>
<use href="#mt" x="173.59" y="172.39"/>
<use href="#mt" x="174.19" y="172.10"/>
<use href="#mt" x="174.80" y="171.81"/>
<use href="#mt" x="175.40" y="171.51"/>
<use href="#mt" x="176.00" y="171.22"/>
<use href="#mt" x="176.60" y="170.93"/>
<use href="#mt" x="177.21" y="170.64"/>
<use href="#mt" x="177.81" y="170.35"/>
<use href="#mt" x="178.41" y="170.05"/>
<use href="#mt" x="179.01" y="169.76"/>
<use href="#mt" x="179.62" y="169.47"/>
<use href="#mt" x="180.22" y="169.18"/>
<use href="#mt" x="180.82" y="168.89"/>
<use href="#mt" x="181.42" y="168.60"/>
<use href="#mt" x="182.03" y="168.31"/>
<use href="#mt" x="182.63" y="168.02"/>
<use href="#mt" x="183.23" y="167.73"/>
<use href="#mt" x="183.83" y="167.44"/>
<use href="#mt" x="184.44" y="167.15"/>
<use href="#mt" x="185.04" y="166.86"/>
<use href="#mt" x="185.64" y="166.56"/>
<use href="#mt" x="186.24" y="166.27"/>
<use href="#mt" x="186.85" y="165.98"/>
<use href="#mt" x="187.45" y="165.69"/>
<use href="#mt" x="188.05" y="165.40"/>
<use href="#mt" x="188.65" y="165.11"/>
<use href="#mt" x="189.26" y="164.82"/>
<use href="#mt" x="189.86" y="164.53"/>
<use href="#mt" x="190.46" y="164.24"/>
<use href="#mt" x="191.06" y="163.95"/>
<use href="#mt" x="191.67" y="163.66"/>
<use href="#mt" x="192.27" y="163.37"/>
<use href="#mt" x="192.87" y="163.08"/>
<use href="#mt" x="193.47" y="162.79"/>
<use href="#mt" x="194.08" y="162.49"/>
<use href="#mt" x="194.68" y="162.20"/>
<use href="#mt" x="195.28" y="161.91"/>
<use href="#mt" x="195.88" y="161.62"/>
<use href="#mt" x="196.49" y="161.33"/>
<use href="#mt" x="197.09" y="161.04"/>
<use href="#mt" x="197.69" y="160.74"/>
<use href="#mt" x="198.29" y="160.45"/>
<use href="#mt" x="198.90" y="160.16"/>
<use href="#mt" x="199.50" y="159.87"/>
<use href="#mt" x="200.10" y="159.57"/>
<use href="#mt" x="200.70" y="159.28"/>
<use href="#mt" x="201.31" y="158.99"/>
<use href="#mt" x="201.91" y="158.69"/>
<use href="#mt" x="202.51" y="158.40"/>
<use href="#mt" x="203.11" y="158.10"/>
<use href="#mt" x="203.72" y="157.81"/>
<use href="#mt" x="204.32" y="157.51"/>
<use href="#mt" x="204.92" y="157.22"/>
<use href="#mt" x="205.52" y="156.92"/>
<use href="#mt" x="206.13" y="156.63"/>
<use href="#mt" x="206.73" y="156.33"/>
<use href="#mt" x="207.33" y="156.04"/>
<use href="#mt" x="207.93" y="155.74"/>
<use href="#mt" x="208.54" y="155.44"/>
<use href="#mt" x="209.14" y="155.14"/>
<use href="#mt" x="209.74" y="154.85"/>
<use href="#mt" x="210.34" y="154.55"/>
<use href="#mt" x="210.95" y="154.25"/>
<use href="#mt" x="211.55" y="153.95"/>
<use href="#mt" x="212.15" y="153.65"/>
<use href="#mt" x="212.75" y="153.35"/>
<use href="#mt" x="213.36" y="153.05"/>
<use href="#mt" x="213.96" y="152.75"/>
<use href="#mt" x="214.56" y="152.45"/>
<use href="#mt" x="215.16" y="152.16"/>
<use href="#mt" x="215.77" y="151.86"/>
<use href="#mt" x="216.37" y="151.56"/>
<use href="#mt" x="216.97" y="151.25"/>
<use href="#mt" x="217.57" y="150.95"/>
<use href="#mt" x="218.18" y="150.65"/>
<use href="#mt" x="218.78" y="150.35"/>
<use href="#mt" x="219.38" y="150.05"/>
<use href="#mt" x="219.98" y="149.75"/>
<use href="#mt" x="220.59" y="149.45"/>
<use href="#mt" x="221.19" y="149.15"/>
<use href="#mt" x="221.79" y="148.84"/>
<use href="#mt" x="222.39" y="148.54"/>
<use href="#mt" x="223.00" y="148.24"/>
<use href="#mt" x="223.60" y="147.94"/>
<use href="#mt" x="224.20" y="147.63"/>
<use href="#mt" x="224.80" y="147.33"/>
<use href="#mt" x="225.41" y="147.02"/>
<use href="#mt" x="226.01" y="146.72"/>
<use href="#mt" x="226.61" y="146.42"/>
<use href="#mt" x="227.21" y="146.11"/>
<use href="#mt" x="227.82" y="145.81"/>
<use href="#mt" x="228.42" y="145.50"/>
<use href="#mt" x="229.02" y="145.19"/>
<use href="#mt" x="229.62" y="144.89"/>
<use href="#mt" x="230.23" y="144.58"/>
<use href="#mt" x="230.83" y="144.28"/>
<use href="#mt" x="231.43" y="143.97"/>
<use href="#mt" x="232.03" y="143.66"/>
<use href="#mt" x="232.64" y="143.35"/>
<use href="#mt" x="233.24" y="143.04"/>
<use href="#mt" x="233.84" y="142.74"/>
<use href="#mt" x="234.44" y="142.43"/>
<use href="#mt" x="235.05" y="142.12"/>
<use href="#mt" x="235.65" y="141.81"/>
<use href="#mt" x="236.25" y="141.50"/>
<use href="#mt" x="236.85" y="141.19"/>
<use href="#mt" x="237.46" y="140.87"/>
<use href="#mt" x="238.06" y="140.56"/>
<use href="#mt" x="238.66" y="140.25"/>
<use href="#mt" x="239.26" y="139.94"/>
<use href="#mt" x="239.87" y="139.63"/>
<use href="#mt" x="240.47" y="139.31"/>
<use href="#mt" x="241.07" y="139.00"/>
<use href="#mt" x="241.67" y="138.68"/>
<use href="#mt" x="242.28" y="138.37"/>
<use href="#mt" x="242.88" y="138.05"/>
<use href="#mt" x="243.48" y="137.74"/>
<use href="#mt" x="244.08" y="137.42"/>
<use href="#mt" x="244.69" y="137.11"/>
<use href="#mt" x="245.29" y="136.79"/>
<use href="#mt" x="245.89" y="136.47"/>
<use href="#mt" x="246.49" y="136.15"/>
<use href="#mt" x="247.10" y="135.84"/>
<use href="#mt" x="247.70" y="135.52"/>
<use href="#mt" x="248.30" y="135.20"/>
<use href="#mt" x="248.90" y="134.88"/>
<use href="#mt" x="249.51" y="134.56"/>
<use href="#mt" x="250.11" y="134.23"/>
<use href="#mt" x="250.71" y="133.91"/>
<use href="#mt" x="251.31" y="133.59"/>
<use href="#mt" x="251.92" y="133.27"/>
<use href="#mt" x="252.52" y="132.94"/>
<use href="#mt" x="253.12" y="132.62"/>
<use href="#mt" x="253.72" y="132.30"/>
<use href="#mt" x="254.33" y="131.97"/>
<use href="#mt" x="254.93" y="131.64"/>
<use href="#mt" x="255.53" y="131.32"/>
<use href="#mt" x="256.13" y="130.99"/>
<use href="#mt" x="256.74" y="130.66"/>
<use href="#mt" x="257.34" y="130.34"/>
<use href="#mt" x="257.94" y="130.01"/>
<use href="#mt" x="258.54" y="129.68"/>
<use href="#mt" x="259.14" y="129.35"/>
<use href="#mt" x="259.75" y="129.02"/>
<use href="#mt" x="260.35" y="128.69"/>
<use href="#mt" x="260.95" y="128.35"/>
<use href="#mt" x="261.56" y="128.02"/>
<use href="#mt" x="262.16" y="127.69"/>
<use href="#mt" x="262.76" y="127.35"/>
<use href="#mt" x="263.36" y="127.02"/>
<use href="#mt" x="263.97" y="126.69"/>
<use href="#mt" x="264.57" y="126.35"/>
<use href="#mt" x="265.17" y="126.01"/>
<use href="#mt" x="265.77" y="125.68"/>
<use href="#mt" x="266.38" y="125.34"/>
<use href="#mt" x="266.98" y="125.00"/>
<use href="#mt" x="267.58" y="124.66"/>
<use href="#mt" x="268.18" y="124.32"/>
<use href="#mt" x="268.79" y="123.98"/>
<use href="#mt" x="269.39" y="123.64"/>
<use href="#mt" x="269.99" y="123.29"/>
<use href="#mt" x="270.59" y="122.95"/>
<use href="#mt" x="271.20" y="122.61"/>
<use href="#mt" x="271.80" y="122.26"/>
<use href="#mt" x="272.40" y="121.92"/>
<use href="#mt" x="273.00" y="121.57"/>
<use href="#mt" x="273.61" y="121.22"/>
<use href="#mt" x="274.21" y="120.88"/>
<use href="#mt" x="274.81" y="120.53"/>
<use href="#mt" x="275.41" y="120.18"/>
<use href="#mt" x="276.01" y="119.83"/>
<use href="#mt" x="276.62" y="119.48"/>
<use href="#mt" x="277.22" y="119.12"/>
<use href="#mt" x="277.82" y="118.77"/>
<use href="#mt" x="278.43" y="118.42"/>
<use href="#mt" x="279.03" y="118.06"/>
<use href="#mt" x="279.63" y="117.71"/>
<use href="#mt" x="280.23" y="117.35"/>
<use href="#mt" x="280.84" y="116.99"/>
<use href="#mt" x="281.44" y="116.64"/>
<use href="#mt" x="282.04" y="116.28"/>
<use href="#mt" x="282.64" y="115.92"/>
<use href="#mt" x="283.25" y="115.56"/>
<use href="#ht" x="283.85" y="115.19"/>
<use href="#ht" x="284.45" y="114.83"/>
<use href="#ht" x="285.05" y="114.47"/>
<use href="#ht" x="285.65" y="114.10"/>
<use href="#ht" x="286.26" y="113.74"/>
<use href="#ht" x="286.86" y="113.37"/>
<use href="#ht" x="287.46" y="113.01"/>
<use href="#ht" x="288.07" y="112.64"/>
<use href="#ht" x="288.67" y="112.27"/>
<use href="#ht" x="289.27" y="111.90"/>
<use href="#ht" x="289.87" y="111.53"/>
<use href="#ht" x="290.48" y="111.16"/>
<use href="#ht" x="291.08" y="110.79"/>
<use href="#ht" x="291.68" y="110.41"/>
<use href="#ht" x="292.28" y="110.04"/>
<use href="#ht" x="292.88" y="109.66"/>
<use href="#ht" x="293.49" y="109.29"/>
<use href="#ht" x="294.09" y="108.91"/>
<use href="#ht" x="294.69" y="108.53"/>
<use href="#ht" x="295.30" y="108.15"/>
<use href="#ht" x="295.90" y="107.77"/>
<use href="#ht" x="296.50" y="107.39"/>
<use href="#ht" x="297.10" y="107.01"/>
<use href="#ht" x="297.71" y="106.63"/>
<use href="#ht" x="298.31" y="106.24"/>
<use href="#ht" x="298.91" y="105.86"/>
<use href="#ht" x="299.51" y="105.47"/>
<use href="#ht" x="300.12" y="105.09"/>
<use href="#ht" x="300.72" y="104.70"/>
<use href="#ht" x="301.32" y="104.31"/>
<use href="#ht" x="301.92" y="103.92"/>
<use href="#ht" x="302.52" y="103.53"/>
<use href="#ht" x="303.13" y="103.14"/>
<use href="#ht" x="303.73" y="102.75"/>
<use href="#ht" x="304.33" y="102.35"/>
<use href="#ht" x="304.94" y="101.96"/>
<use href="#ht" x="305.54" y="101.56"/>
<use href="#ht" x="306.14" y="101.17"/>
<use href="#ht" x="306.74" y="100.77"/>
<use href="#ht" x="307.35" y="100.37"/>
<use href="#ht" x="307.95" y="99.97"/>
<use href="#ht" x="308.55" y="99.57"/>
<use href="#ht" x="309.15" y="99.17"/>
<use href="#ht" x="309.75" y="98.77"/>
<use href="#ht" x="310.36" y="98.36"/>
<use href="#ht" x="310.96" y="97.96"/>
<use href="#ht" x="311.56" y="97.55"/>
<use href="#ht" x="312.17" y="97.14"/>
<use href="#ht" x="312.77" y="96.74"/>
<use href="#ht" x="313.37" y="96.33"/>
<use href="#ht" x="313.97" y="95.92"/>
<use href="#ht" x="314.57" y="95.51"/>
<use href="#ht" x="315.18" y="95.09"/>
<use href="#ht" x="315.78" y="94.68"/>
<use href="#ht" x="316.38" y="94.27"/>
<use href="#ht" x="316.99" y="93.85"/>
<use href="#ht" x="317.59" y="93.43"/>
<use href="#ht" x="318.19" y="93.02"/>
<use href="#ht" x="318.79" y="92.60"/>
<use href="#ht" x="319.40" y="92.18"/>
<use href="#ht" x="320.00" y="91.76"/>
<use href="#ht" x="320.60" y="91.33"/>
<use href="#ht" x="321.20" y="90.91"/>
<use href="#ht" x="321.81" y="90.49"/>
<use href="#ht" x="322.41" y="90.06"/>
<use href="#ht" x="323.01" y="89.63"/>
<use href="#ht" x="323.61" y="89.20"/>
<use href="#ht" x="324.22" y="88.78"/>
<use href="#ht" x="324.82" y="88.34"/>
<use href="#ht" x="325.42" y="87.91"/>
<use href="#ht" x="326.02" y="87.48"/>
<use href="#ht" x="326.62" y="87.04"/>
<use href="#ht" x="327.23" y="86.61"/>
<use href="#ht" x="327.83" y="86.17"/>
<use href="#ht" x="328.43" y="85.73"/>
<use href="#ht" x="329.04" y="85.29"/>
<use href="#ht" x="329.64" y="84.85"/>
<use href="#ht" x="330.24" y="84.41"/>
<use href="#ht" x="330.84" y="83.97"/>
<use href="#ht" x="331.44" y="83.52"/>
<use href="#ht" x="332.05" y="83.07"/>
<use href="#ht" x="332.65" y="82.63"/>
<use href="#ht" x="333.25" y="82.18"/>
<use href="#ht" x="333.86" y="81.73"/>
<use href="#ht2" x="334.46" y="81.28"/>
<use href="#ht2" x="335.06" y="80.82"/>
<use href="#ht2" x="335.66" y="80.37"/>
<use href="#ht2" x="336.27" y="79.91"/>
<use href="#ht2" x="336.87" y="79.45"/>
<use href="#ht2" x="337.47" y="78.99"/>
<use href="#ht2" x="338.07" y="78.53"/>
<use href="#ht2" x="338.68" y="78.07"/>
<use href="#ht2" x="339.28" y="77.61"/>
<use href="#ht2" x="339.88" y="77.14"/>
<use href="#ht2" x="340.48" y="76.68"/>
<use href="#ht2" x="341.09" y="76.21"/>
<use href="#ht2" x="341.69" y="75.74"/>
<use href="#ht2" x="342.29" y="75.27"/>
<use href="#ht2" x="342.89" y="74.80"/>
<use href="#ht2" x="343.50" y="74.33"/>
<use href="#ht2" x="344.10" y="73.85"/>
<use href="#ht2" x="344.70" y="73.37"/>
<use href="#ht2" x="345.30" y="72.90"/>
<use href="#ht2" x="345.91" y="72.42"/>
<use href="#ht2" x="346.51" y="71.93"/>
<use href="#ht2" x="347.11" y="71.45"/>
<use href="#ht2" x="347.71" y="70.97"/>
<use href="#ht2" x="348.31" y="70.48"/>
<use href="#ht2" x="348.92" y="69.99"/>
<use href="#ht2" x="349.52" y="69.51"/>
<use href="#ht2" x="350.12" y="69.01"/>
<use href="#ht2" x="350.73" y="68.52"/>
<use href="#ht2" x="351.33" y="68.03"/>
<use href="#ht2" x="351.93" y="67.53"/>
<use href="#ht2" x="352.53" y="67.03"/>
<use href="#ht2" x="353.13" y="66.53"/>
<use href="#ht2" x="353.74" y="66.03"/>
<use href="#ht2" x="354.34" y="65.53"/>
<use href="#ht2" x="354.94" y="65.03"/>
<use href="#ht2" x="355.55" y="64.52"/>
<use href="#ht2" x="356.15" y="64.01"/>
<use href="#ht2" x="356.75" y="63.50"/>
<use href="#ht2" x="357.35" y="62.99"/>
<use href="#ht2" x="357.96" y="62.48"/>
<use href="#ht2" x="358.56" y="61.96"/>
<use href="#ht2" x="359.16" y="61.44"/>
<use href="#ht2" x="359.76" y="60.92"/>
<use href="#ht2" x="360.37" y="60.40"/>
<use href="#ht2" x="360.97" y="59.88"/>
<use href="#ht2" x="361.57" y="59.36"/>
<use href="#ht2" x="362.17" y="58.83"/>
<use href="#ht2" x="362.78" y="58.30"/>
<use href="#ht2" x="363.38" y="57.77"/>
<use href="#ht2" x="363.98" y="57.24"/>
<use href="#ht2" x="364.58" y="56.71"/>
<use href="#ht2" x="365.19" y="56.17"/>
<use href="#ht2" x="365.79" y="55.64"/>
<use href="#ht2" x="366.39" y="55.10"/>
<use href="#ht2" x="366.99" y="54.56"/>
<use href="#ht2" x="367.60" y="54.01"/>
<use href="#ht2" x="368.20" y="53.47"/>
<use href="#ht2" x="368.80" y="52.92"/>
<use href="#ht2" x="369.40" y="52.37"/>
<use href="#ht2" x="370.00" y="51.82"/>
<use href="#ht2" x="370.61" y="51.27"/>
<use href="#ht2" x="371.21" y="50.72"/>
<use href="#ht2" x="371.81" y="50.16"/>
<polygon points="70.67,249.19 71.26,247.99 71.85,246.83 72.45,245.74 73.04,244.76 73.64,243.85 74.24,242.96 74.83,242.09 75.43,241.24 76.03,240.41 76.63,239.60 77.23,238.80 77.82,238.02 78.42,237.26 79.02,236.50 79.62,235.77 80.22,235.04 80.82,234.33 81.43,233.64 82.03,232.95 82.63,232.28 83.23,231.62 83.83,230.98 84.43,230.33 85.03,229.68 85.63,229.04 86.24,228.41 86.84,227.81 87.44,227.23 88.04,226.68 88.64,226.14 89.24,225.62 89.85,225.12 90.45,224.63 91.05,224.16 91.65,223.70 92.26,223.26 92.86,222.83 93.46,222.41 94.06,222.00 94.66,221.59 95.27,221.20 95.87,220.81 96.47,220.42 97.07,220.04 97.68,219.67 98.28,219.29 98.88,218.92 99.48,218.55 100.09,218.16 100.69,217.75 101.29,217.33 101.89,216.91 102.50,216.50 103.10,216.09 103.70,215.68 104.30,215.27 104.91,214.86 105.51,214.46 106.11,214.06 106.71,213.66 107.32,213.26 107.92,212.87 108.52,212.48 109.12,212.08 109.73,211.69 110.33,211.31 110.93,210.92 111.53,210.54 112.14,210.16 112.74,209.77 113.34,209.40 113.94,209.02 114.55,208.64 115.15,208.27 115.75,207.90 116.35,207.52 116.96,207.15 117.56,206.79 118.16,206.42 118.76,206.06 119.37,205.69 119.97,205.33 120.57,204.97 121.17,204.61 121.78,204.25 122.38,203.90 122.98,203.54 123.58,203.19 124.19,202.84 124.79,202.48 125.39,202.14 125.99,201.79 126.60,201.44 127.20,201.10 127.80,200.75 128.40,200.41 129.01,200.07 129.61,199.73 130.21,199.39 130.81,199.06 131.42,198.72 132.02,198.39 132.62,198.06 133.22,197.72 133.83,197.39 134.43,197.07 135.03,196.74 135.63,196.41 136.24,196.08 136.84,195.76 137.44,195.44 138.04,195.11 138.65,194.79 139.25,194.47 139.85,194.15 140.45,193.83 141.06,193.51 141.66,193.19 142.26,192.88 142.86,192.56 143.47,192.25 144.07,191.93 144.67,191.62 145.27,191.31 145.88,190.99 146.48,190.68 147.08,190.37 147.68,190.06 148.29,189.75 148.89,189.44 149.49,189.13 150.09,188.83 150.70,188.52 151.30,188.21 151.90,187.91 152.50,187.60 153.11,187.30 153.71,186.99 154.31,186.69 154.91,186.38 155.52,186.08 156.12,185.78 156.72,185.48 157.32,185.17 157.93,184.87 158.53,184.57 159.13,184.27 159.73,183.97 160.34,183.67 160.94,183.37 161.54,183.07 162.14,182.78 162.75,182.48 163.35,182.18 163.95,181.88 164.55,181.58 165.16,181.29 165.76,180.99 166.36,180.69 166.96,180.40 167.57,180.10 168.17,179.81 168.77,179.51 169.37,179.21 169.98,178.92 170.58,178.62 171.18,178.33 171.78,178.03 172.39,177.74 172.99,177.44 173.59,177.15 174.19,176.85 174.80,176.56 175.40,176.27 176.00,175.97 176.60,175.68 177.21,175.39 177.81,175.09 178.41,174.80 179.01,174.51 179.62,174.22 180.22,173.93 180.82,173.64 181.42,173.34 182.03,173.05 182.63,172.76 183.23,172.47 183.83,172.18 184.44,171.89 185.04,171.60 185.64,171.31 186.24,171.02 186.85,170.73 187.45,170.44 188.05,170.15 188.65,169.86 189.26,169.57 189.86,169.27 190.46,168.98 191.06,168.69 191.67,168.40 192.27,168.11 192.87,167.82 193.47,167.53 194.08,167.24 194.68,166.95 195.28,166.66 195.88,166.37 196.49,166.08 197.09,165.79 197.69,165.50 198.29,165.20 198.90,164.91 199.50,164.62 200.10,164.33 200.70,164.04 201.31,163.75 201.91,163.45 202.51,163.16 203.11,162.87 203.72,162.57 204.32,162.28 204.92,161.99 205.52,161.69 206.13,161.40 206.73,161.11 207.33,160.81 207.93,160.52 208.54,160.22 209.14,159.93 209.74,159.63 210.34,159.33 210.95,159.03 211.55,158.74 212.15,158.44 212.75,158.14 213.36,157.84 213.96,157.54 214.56,157.25 215.16,156.95 215.77,156.65 216.37,156.35 216.97,156.05 217.57,155.75 218.18,155.45 218.78,155.15 219.38,154.85 219.98,154.55 220.59,154.25 221.19,153.95 221.79,153.65 222.39,153.35 223.00,153.05 223.60,152.75 224.20,152.44 224.80,152.14 225.41,151.84 226.01,151.54 226.61,151.23 227.21,150.93 227.82,150.63 228.42,150.32 229.02,150.02 229.62,149.72 230.23,149.41 230.83,149.11 231.43,148.80 232.03,148.49 232.64,148.19 233.24,147.88 233.84,147.58 234.44,147.27 235.05,146.96 235.65,146.65 236.25,146.35 236.85,146.04 237.46,145.73 238.06,145.42 238.66,145.11 239.26,144.80 239.87,144.49 240.47,144.18 241.07,143.87 241.67,143.55 242.28,143.24 242.88,142.93 243.48,142.62 244.08,142.30 244.69,141.99 245.29,141.67 245.89,141.36 246.49,141.04 247.10,140.73 247.70,140.41 248.30,140.10 248.90,139.78 249.51,139.46 250.11,139.14 250.71,138.82 251.31,138.50 251.92,138.18 252.52,137.86 253.12,137.54 253.72,137.22 254.33,136.90 254.93,136.58 255.53,136.25 256.13,135.93 256.74,135.61 257.34,135.28 257.94,134.96 258.54,134.63 259.14,134.30 259.75,133.98 260.35,133.65 260.95,133.32 261.56,132.99 262.16,132.66 262.76,132.33 263.36,132.00 263.97,131.67 264.57,131.33 265.17,131.00 265.77,130.67 266.38,130.33 266.98,130.00 267.58,129.66 268.18,129.33 268.79,128.99 269.39,128.65 269.99,128.31 270.59,127.98 271.20,127.64 271.80,127.30 272.40,126.95 273.00,126.61 273.61,126.27 274.21,125.93 274.81,125.58 275.41,125.24 276.01,124.89 276.62,124.54 277.22,124.20 277.82,123.85 278.43,123.50 279.03,123.15 279.63,122.80 280.23,122.45 280.84,122.09 281.44,121.74 282.04,121.39 282.64,121.03 283.25,120.67 283.85,120.32 284.45,119.96 285.05,119.60 285.65,119.24 286.26,118.88 286.86,118.52 287.46,118.16 288.07,117.79 288.67,117.43 289.27,117.07 289.87,116.70 290.48,116.33 291.08,115.97 291.68,115.60 292.28,115.23 292.88,114.86 293.49,114.49 294.09,114.11 294.69,113.74 295.30,113.37 295.90,112.99 296.50,112.62 297.10,112.24 297.71,111.86 298.31,111.48 298.91,111.10 299.51,110.72 300.12,110.34 300.72,109.96 301.32,109.58 301.92,109.19 302.52,108.81 303.13,108.42 303.73,108.03 304.33,107.65 304.94,107.26 305.54,106.87 306.14,106.48 306.74,106.08 307.35,105.69 307.95,105.30 308.55,104.90 309.15,104.50 309.75,104.11 310.36,103.71 310.96,103.31 311.56,102.91 312.17,102.51 312.77,102.11 313.37,101.70 313.97,101.30 314.57,100.89 315.18,100.49 315.78,100.08 316.38,99.67 316.99,99.26 317.59,98.85 318.19,98.44 318.79,98.02 319.40,97.61 320.00,97.20 320.60,96.78 321.20,96.36 321.81,95.94 322.41,95.52 323.01,95.10 323.61,94.68 324.22,94.26 324.82,93.84 325.42,93.41 326.02,92.98 326.62,92.56 327.23,92.13 327.83,91.70 328.43,91.27 329.04,90.83 329.64,90.40 330.24,89.96 330.84,89.53 331.44,89.09 332.05,88.65 332.65,88.21 333.25,87.77 333.86,87.32 334.46,86.88 335.06,86.43 335.66,85.99 336.27,85.54 336.87,85.09 337.47,84.64 338.07,84.18 338.68,83.73 339.28,83.27 339.88,82.82 340.48,82.36 341.09,81.90 341.69,81.44 342.29,80.97 342.89,80.51 343.50,80.05 344.10,79.58 344.70,79.11 345.30,78.64 345.91,78.17 346.51,77.70 347.11,77.22 347.71,76.74 348.31,76.27 348.92,75.79 349.52,75.31 350.12,74.83 350.73,74.34 351.33,73.86 351.93,73.37 352.53,72.88 353.13,72.39 353.74,71.90 354.34,71.41 354.94,70.91 355.55,70.41 356.15,69.92 356.75,69.41 357.35,68.91 357.96,68.41 358.56,67.90 359.16,67.40 359.76,66.89 360.37,66.37 360.97,65.86 361.57,65.35 362.17,64.83 362.78,64.31 363.38,63.79 363.98,63.27 364.58,62.75 365.19,62.22 365.79,61.69 366.39,61.16 366.99,60.63 367.60,60.10 368.20,59.57 368.80,59.03 369.40,58.49 370.00,57.95 370.61,57.41 370.61,54.08 370.00,54.61 369.40,55.13 368.80,55.65 368.20,56.17 367.60,56.69 366.99,57.20 366.39,57.71 365.79,58.23 365.19,58.74 364.58,59.24 363.98,59.75 363.38,60.25 362.78,60.76 362.17,61.26 361.57,61.76 360.97,62.25 360.37,62.75 359.76,63.24 359.16,63.74 358.56,64.23 357.96,64.72 357.35,65.20 356.75,65.69 356.15,66.17 355.55,66.65 354.94,67.13 354.34,67.61 353.74,68.09 353.13,68.57 352.53,69.04 351.93,69.51 351.33,69.98 350.73,70.45 350.12,70.92 349.52,71.38 348.92,71.85 348.31,72.31 347.71,72.77 347.11,73.24 346.51,73.70 345.91,74.17 345.30,74.64 344.70,75.11 344.10,75.58 343.50,76.05 342.89,76.51 342.29,76.97 341.69,77.44 341.09,77.92 340.48,78.39 339.88,78.86 339.28,79.33 338.68,79.80 338.07,80.27 337.47,80.73 336.87,81.19 336.27,81.66 335.66,82.12 335.06,82.58 334.46,83.03 333.86,83.49 333.25,83.94 332.65,84.40 332.05,84.85 331.44,85.30 330.84,85.75 330.24,86.20 329.64,86.64 329.04,87.09 328.43,87.53 327.83,87.98 327.23,88.42 326.62,88.86 326.02,89.30 325.42,89.73 324.82,90.17 324.22,90.60 323.61,91.04 323.01,91.47 322.41,91.90 321.81,92.33 321.20,92.76 320.60,93.19 320.00,93.61 319.40,94.04 318.79,94.46 318.19,94.88 317.59,95.30 316.99,95.72 316.38,96.14 315.78,96.56 315.18,96.98 314.57,97.39 313.97,97.81 313.37,98.22 312.77,98.63 312.17,99.05 311.56,99.46 310.96,99.87 310.36,100.27 309.75,100.68 309.15,101.09 308.55,101.49 307.95,101.90 307.35,102.30 306.74,102.70 306.14,103.10 305.54,103.50 304.94,103.90 304.33,104.30 303.73,104.69 303.13,105.09 302.52,105.48 301.92,105.88 301.32,106.27 300.72,106.66 300.12,107.05 299.51,107.44 298.91,107.83 298.31,108.22 297.71,108.61 297.10,108.99 296.50,109.38 295.90,109.76 295.30,110.14 294.69,110.53 294.09,110.91 293.49,111.29 292.88,111.67 292.28,112.04 291.68,112.42 291.08,112.80 290.48,113.17 289.87,113.55 289.27,113.92 288.67,114.29 288.07,114.66 287.46,115.04 286.86,115.41 286.26,115.77 285.65,116.14 285.05,116.51 284.45,116.88 283.85,117.24 283.25,117.61 282.64,117.97 282.04,118.33 281.44,118.69 280.84,119.05 280.23,119.41 279.63,119.77 279.03,120.13 278.43,120.49 277.82,120.85 277.22,121.20 276.62,121.56 276.01,121.91 275.41,122.26 274.81,122.61 274.21,122.97 273.61,123.32 273.00,123.67 272.40,124.02 271.80,124.36 271.20,124.71 270.59,125.06 269.99,125.40 269.39,125.75 268.79,126.09 268.18,126.43 267.58,126.78 266.98,127.12 266.38,127.46 265.77,127.80 265.17,128.14 264.57,128.48 263.97,128.82 263.36,129.15 262.76,129.49 262.16,129.83 261.56,130.16 260.95,130.50 260.35,130.83 259.75,131.16 259.14,131.50 258.54,131.83 257.94,132.16 257.34,132.49 256.74,132.82 256.13,133.15 255.53,133.48 254.93,133.81 254.33,134.13 253.72,134.46 253.12,134.79 252.52,135.11 251.92,135.44 251.31,135.76 250.71,136.09 250.11,136.41 249.51,136.73 248.90,137.06 248.30,137.38 247.70,137.70 247.10,138.02 246.49,138.34 245.89,138.66 245.29,138.98 244.69,139.30 244.08,139.62 243.48,139.93 242.88,140.25 242.28,140.57 241.67,140.88 241.07,141.20 240.47,141.51 239.87,141.83 239.26,142.14 238.66,142.46 238.06,142.77 237.46,143.08 236.85,143.39 236.25,143.71 235.65,144.02 235.05,144.33 234.44,144.64 233.84,144.95 233.24,145.26 232.64,145.57 232.03,145.88 231.43,146.19 230.83,146.50 230.23,146.80 229.62,147.11 229.02,147.42 228.42,147.73 227.82,148.03 227.21,148.34 226.61,148.65 226.01,148.95 225.41,149.26 224.80,149.56 224.20,149.87 223.60,150.17 223.00,150.47 222.39,150.78 221.79,151.08 221.19,151.38 220.59,151.69 219.98,151.99 219.38,152.29 218.78,152.59 218.18,152.89 217.57,153.20 216.97,153.50 216.37,153.80 215.77,154.10 215.16,154.40 214.56,154.70 213.96,155.00 213.36,155.30 212.75,155.60 212.15,155.90 211.55,156.20 210.95,156.50 210.34,156.80 209.74,157.10 209.14,157.39 208.54,157.69 207.93,157.99 207.33,158.29 206.73,158.59 206.13,158.88 205.52,159.18 204.92,159.48 204.32,159.77 203.72,160.07 203.11,160.37 202.51,160.66 201.91,160.96 201.31,161.25 200.70,161.54 200.10,161.84 199.50,162.13 198.90,162.43 198.29,162.72 197.69,163.01 197.09,163.30 196.49,163.60 195.88,163.89 195.28,164.18 194.68,164.47 194.08,164.77 193.47,165.06 192.87,165.35 192.27,165.64 191.67,165.93 191.06,166.22 190.46,166.51 189.86,166.80 189.26,167.10 188.65,167.39 188.05,167.68 187.45,167.97 186.85,168.26 186.24,168.55 185.64,168.84 185.04,169.13 184.44,169.42 183.83,169.71 183.23,170.00 182.63,170.29 182.03,170.58 181.42,170.87 180.82,171.16 180.22,171.45 179.62,171.74 179.01,172.03 178.41,172.33 177.81,172.62 177.21,172.91 176.60,173.20 176.00,173.49 175.40,173.78 174.80,174.07 174.19,174.37 173.59,174.66 172.99,174.95 172.39,175.24 171.78,175.54 171.18,175.83 170.58,176.12 169.98,176.42 169.37,176.71 168.77,177.00 168.17,177.30 167.57,177.59 166.96,177.89 166.36,178.18 165.76,178.48 165.16,178.77 164.55,179.07 163.95,179.36 163.35,179.66 162.75,179.95 162.14,180.25 161.54,180.55 160.94,180.84 160.34,181.14 159.73,181.44 159.13,181.74 158.53,182.03 157.93,182.33 157.32,182.63 156.72,182.93 156.12,183.23 155.52,183.53 154.91,183.83 154.31,184.13 153.71,184.43 153.11,184.73 152.50,185.03 151.90,185.33 151.30,185.63 150.70,185.93 150.09,186.24 149.49,186.54 148.89,186.84 148.29,187.15 147.68,187.45 147.08,187.76 146.48,188.06 145.88,188.37 145.27,188.68 144.67,188.98 144.07,189.29 143.47,189.60 142.86,189.91 142.26,190.22 141.66,190.53 141.06,190.84 140.45,191.16 139.85,191.47 139.25,191.78 138.65,192.10 138.04,192.41 137.44,192.73 136.84,193.04 136.24,193.36 135.63,193.68 135.03,194.00 134.43,194.32 133.83,194.64 133.22,194.96 132.62,195.28 132.02,195.61 131.42,195.93 130.81,196.26 130.21,196.58 129.61,196.91 129.01,197.24 128.40,197.57 127.80,197.90 127.20,198.23 126.60,198.56 125.99,198.90 125.39,199.23 124.79,199.57 124.19,199.91 123.58,200.25 122.98,200.59 122.38,200.94 121.78,201.28 121.17,201.63 120.57,201.97 119.97,202.32 119.37,202.67 118.76,203.02 118.16,203.38 117.56,203.73 116.96,204.09 116.35,204.44 115.75,204.80 115.15,205.16 114.55,205.52 113.94,205.89 113.34,206.25 112.74,206.62 112.14,206.98 111.53,207.35 110.93,207.72 110.33,208.10 109.73,208.47 109.12,208.84 108.52,209.22 107.92,209.60 107.32,209.98 106.71,210.36 106.11,210.74 105.51,211.13 104.91,211.52 104.30,211.90 103.70,212.30 103.10,212.69 102.50,213.08 101.89,213.48 101.29,213.88 100.69,214.28 100.09,214.68 99.48,215.10 98.88,215.52 98.28,215.94 97.68,216.34 97.07,216.74 96.47,217.13 95.87,217.52 95.27,217.91 94.66,218.29 94.06,218.67 93.46,219.05 92.86,219.43 92.26,219.82 91.65,220.20 91.05,220.59 90.45,220.99 89.85,221.39 89.24,221.80 88.64,222.22 88.04,222.68 87.44,223.30 86.84,224.03 86.24,224.78 85.63,225.57 85.03,226.40 84.43,227.20 83.83,227.96 83.23,228.71 82.63,229.47 82.03,230.25 81.43,231.05 80.82,231.85 80.22,232.68 79.62,233.52 79.02,234.37 78.42,235.25 77.82,236.14 77.23,237.05 76.63,237.98 76.03,238.94 75.43,239.91 74.83,240.89 74.24,241.76 73.64,242.65 73.04,243.56 72.45,244.54 71.85,245.63 71.26,246.79 70.67,247.99" fill="#000" opacity="0.9"/>
<use href="#et" x="372.42" y="49.60"/>
</g>
<g id="s-orange">
<use href="#os" x="55.50" y="302.20"/>
<use href="#os" x="57.28" y="281.26"/>
<use href="#os" x="57.77" y="275.27"/>
<use href="#os" x="58.27" y="270.97"/>
<use href="#os" x="58.78" y="267.50"/>
<use href="#os" x="59.30" y="264.53"/>
<use href="#os" x="59.83" y="261.92"/>
<use href="#os" x="60.36" y="259.55"/>
<use href="#os" x="60.90" y="257.39"/>
<use href="#os" x="61.45" y="255.38"/>
<use href="#os" x="62.00" y="253.50"/>
<use href="#os" x="62.56" y="251.73"/>
<use href="#os" x="63.12" y="250.06"/>
<use href="#os" x="63.69" y="248.47"/>
<use href="#os" x="64.26" y="246.95"/>
<use href="#os" x="64.83" y="245.49"/>
<use href="#os" x="65.40" y="244.08"/>
<use href="#os" x="65.98" y="242.73"/>
<use href="#os" x="66.56" y="241.42"/>
<use href="#os" x="67.14" y="240.15"/>
<use href="#os" x="67.73" y="238.93"/>
<use href="#os" x="68.31" y="237.73"/>
<use href="#os" x="68.90" y="236.57"/>
<use href="#os" x="69.49" y="235.44"/>
<use href="#os" x="70.08" y="234.33"/>
<use href="#os" x="70.67" y="233.25"/>
<use href="#os" x="71.26" y="232.19"/>
<use href="#os" x="71.85" y="231.16"/>
<use href="#os" x="72.45" y="230.14"/>
<use href="#os" x="73.04" y="229.15"/>
<use href="#os" x="73.64" y="228.17"/>
<use href="#os" x="74.24" y="227.21"/>
<use href="#os" x="74.83" y="226.27"/>
<use href="#os" x="75.43" y="225.35"/>
<use href="#os" x="76.03" y="224.43"/>
<use href="#os" x="76.63" y="223.54"/>
<use href="#os" x="77.23" y="222.65"/>
<use href="#os" x="77.82" y="221.78"/>
<use href="#os" x="78.42" y="220.92"/>
<use href="#os" x="79.02" y="220.07"/>
<use href="#os" x="79.62" y="219.24"/>
<use href="#os" x="80.22" y="218.41"/>
<use href="#os" x="80.82" y="217.59"/>
<use href="#os" x="81.43" y="216.79"/>
<use href="#os" x="82.03" y="215.99"/>
<use href="#os" x="82.63" y="215.20"/>
<use href="#os" x="83.23" y="214.42"/>
<use href="#os" x="83.83" y="213.65"/>
<use href="#os" x="84.43" y="212.88"/>
<use href="#os" x="85.03" y="212.13"/>
<use href="#os" x="85.63" y="211.38"/>
<use href="#os" x="86.24" y="210.63"/>
<use href="#os" x="86.84" y="209.90"/>
<use href="#os" x="87.44" y="209.17"/>
<use href="#os" x="88.04" y="208.45"/>
<use href="#os" x="88.64" y="207.73"/>
<use href="#os" x="89.24" y="207.02"/>
<use href="#os" x="89.85" y="206.31"/>
<use href="#os" x="90.45" y="205.61"/>
<use href="#os" x="91.05" y="204.92"/>
<use href="#os" x="91.65" y="204.23"/>
<use href="#os" x="92.26" y="203.54"/>
<use href="#os" x="92.86" y="202.87"/>
<use href="#os" x="93.46" y="202.19"/>
<use href="#os" x="94.06" y="201.52"/>
<use href="#os" x="94.66" y="200.85"/>
<use href="#os" x="95.27" y="200.19"/>
<use href="#os" x="95.87" y="199.53"/>
<use href="#os" x="96.47" y="198.88"/>
<use href="#os" x="97.07" y="198.23"/>
<use href="#os" x="97.68" y="197.58"/>
<use href="#os" x="98.28" y="196.94"/>
<use href="#os" x="98.88" y="196.30"/>
<use href="#os" x="99.48" y="195.66"/>
<use href="#os" x="100.09" y="195.03"/>
<use href="#os" x="100.69" y="194.40"/>
<use href="#os" x="101.29" y="193.77"/>
<use href="#os" x="101.89" y="193.15"/>
<use href="#os" x="102.50" y="192.53"/>
<use href="#os" x="103.10" y="191.91"/>
<use href="#os" x="103.70" y="191.30"/>
<use href="#os" x="104.30" y="190.68"/>
<use href="#os" x="104.91" y="190.07"/>
<use href="#os" x="105.51" y="189.46"/>
<use href="#os" x="106.11" y="188.86"/>
<use href="#os" x="106.71" y="188.26"/>
<use href="#os" x="107.32" y="187.66"/>
<use href="#os" x="107.92" y="187.06"/>
<use href="#os" x="108.52" y="186.46"/>
<use href="#os" x="109.12" y="185.87"/>
<use href="#os" x="109.73" y="185.27"/>
<use href="#os" x="110.33" y="184.68"/>
<use href="#os" x="110.93" y="184.10"/>
<use href="#os" x="111.53" y="183.51"/>
<use href="#os" x="112.14" y="182.92"/>
<use href="#os" x="112.74" y="182.34"/>
<use href="#os" x="113.34" y="181.76"/>
<use href="#os" x="113.94" y="181.18"/>
<use href="#os" x="114.55" y="180.60"/>
<use href="#os" x="115.15" y="180.03"/>
<use href="#os" x="115.75" y="179.45"/>
<use href="#os" x="116.35" y="178.88"/>
<use href="#os" x="116.96" y="178.30"/>
<use href="#os" x="117.56" y="177.73"/>
<use href="#os" x="118.16" y="177.16"/>
<use href="#os" x="118.76" y="176.59"/>
<use href="#os" x="119.37" y="176.03"/>
<use href="#os" x="119.97" y="175.46"/>
<use href="#os" x="120.57" y="174.89"/>
<use href="#os" x="121.17" y="174.32"/>
<use href="#os" x="121.78" y="173.76"/>
<use href="#os" x="122.38" y="173.19"/>
<use href="#os" x="122.98" y="172.61"/>
<use href="#os" x="123.58" y="172.04"/>
<use href="#os" x="124.19" y="171.47"/>
<use href="#os" x="124.79" y="170.89"/>
<use href="#os" x="125.39" y="170.32"/>
<use href="#os" x="125.99" y="169.74"/>
<use href="#os" x="126.60" y="169.17"/>
<use href="#os" x="127.20" y="168.59"/>
<use href="#os" x="127.80" y="168.01"/>
<use href="#os" x="128.40" y="167.43"/>
<use href="#os" x="129.01" y="166.85"/>
<use href="#os" x="129.61" y="166.27"/>
<use href="#os" x="130.21" y="165.69"/>
<use href="#os" x="130.81" y="165.11"/>
<use href="#os" x="131.42" y="164.53"/>
<use href="#os" x="132.02" y="163.95"/>
<use href="#os" x="132.62" y="163.37"/>
<use href="#os" x="133.22" y="162.79"/>
<use href="#os" x="133.83" y="162.21"/>
<use href="#os" x="134.43" y="161.63"/>
<use href="#os" x="135.03" y="161.05"/>
<use href="#os" x="135.63" y="160.47"/>
<use href="#os" x="136.24" y="159.89"/>
<use href="#os" x="136.84" y="159.31"/>
<use href="#os" x="137.44" y="158.73"/>
<use href="#os" x="138.04" y="158.15"/>
<use href="#os" x="138.65" y="157.58"/>
<use href="#os" x="139.25" y="157.00"/>
<use href="#os" x="139.85" y="156.42"/>
<use href="#os" x="140.45" y="155.85"/>
<use href="#os" x="141.06" y="155.27"/>
<use href="#os" x="141.66" y="154.70"/>
<use href="#os" x="142.26" y="154.13"/>
<use href="#os" x="142.86" y="153.55"/>
<use href="#os" x="143.47" y="152.98"/>
<use href="#os" x="144.07" y="152.41"/>
<use href="#os" x="144.67" y="151.85"/>
<use href="#os" x="145.27" y="151.28"/>
<use href="#os" x="145.88" y="150.72"/>
<use href="#os" x="146.48" y="150.15"/>
<use href="#os" x="147.08" y="149.59"/>
<use href="#os" x="147.68" y="149.03"/>
<use href="#os" x="148.29" y="148.47"/>
<use href="#os" x="148.89" y="147.91"/>
<use href="#os" x="149.49" y="147.36"/>
<use href="#os" x="150.09" y="146.81"/>
<use href="#os" x="150.70" y="146.26"/>
<use href="#os" x="151.30" y="145.70"/>
<use href="#os" x="151.90" y="145.15"/>
<use href="#os" x="152.50" y="144.60"/>
<use href="#os" x="153.11" y="144.04"/>
<use href="#os" x="153.71" y="143.49"/>
<use href="#os" x="154.31" y="142.93"/>
<use href="#os" x="154.91" y="142.38"/>
<use href="#os" x="155.52" y="141.82"/>
<use href="#os" x="156.12" y="141.26"/>
<use href="#os" x="156.72" y="140.71"/>
<use href="#os" x="157.32" y="140.15"/>
<use href="#os" x="157.93" y="139.59"/>
<use href="#os" x="158.53" y="139.03"/>
<use href="#os" x="159.13" y="138.47"/>
<use href="#os" x="159.73" y="137.91"/>
<use href="#os" x="160.34" y="137.35"/>
<use href="#os" x="160.94" y="136.79"/>
<use href="#os" x="161.54" y="136.23"/>
<use href="#os" x="162.14" y="135.66"/>
<use href="#os" x="162.75" y="135.10"/>
<use href="#os" x="163.35" y="134.53"/>
<use href="#os" x="163.95" y="133.96"/>
<use href="#os" x="164.55" y="133.40"/>
<use href="#os" x="165.16" y="132.83"/>
<use href="#os" x="165.76" y="132.26"/>
<use href="#os" x="166.36" y="131.69"/>
<use href="#os" x="166.96" y="131.12"/>
<use href="#os" x="167.57" y="130.55"/>
<use href="#os" x="168.17" y="129.97"/>
<use href="#os" x="168.77" y="129.40"/>
<use href="#os" x="169.37" y="128.82"/>
<use href="#os" x="169.98" y="128.25"/>
<use href="#os" x="170.58" y="127.67"/>
<use href="#os" x="171.18" y="127.09"/>
<use href="#os" x="171.78" y="126.51"/>
<use href="#os" x="172.39" y="125.93"/>
<use href="#os" x="172.99" y="125.34"/>
<use href="#os" x="173.59" y="124.76"/>
<use href="#os" x="174.19" y="124.18"/>
<use href="#os" x="174.80" y="123.59"/>
<use href="#os" x="175.40" y="123.00"/>
<use href="#os" x="176.00" y="122.41"/>
<use href="#os" x="176.60" y="121.82"/>
<use href="#os" x="177.21" y="121.23"/>
<use href="#os" x="177.81" y="120.64"/>
<use href="#os" x="178.41" y="120.05"/>
<use href="#os" x="179.01" y="119.45"/>
<use href="#os" x="179.62" y="118.85"/>
<use href="#os" x="180.22" y="118.25"/>
<use href="#os" x="180.82" y="117.65"/>
<use href="#os" x="181.42" y="117.05"/>
<use href="#os" x="182.03" y="116.45"/>
<use href="#os" x="182.63" y="115.85"/>
<use href="#os" x="183.23" y="115.24"/>
<use href="#os" x="183.83" y="114.63"/>
<use href="#os" x="184.44" y="114.02"/>
<use href="#os" x="185.04" y="113.41"/>
<use href="#os" x="185.64" y="112.80"/>
<use href="#os" x="186.24" y="112.19"/>
<use href="#os" x="186.85" y="111.57"/>
<use href="#os" x="187.45" y="110.96"/>
<use href="#os" x="188.05" y="110.34"/>
<use href="#os" x="188.65" y="109.72"/>
<use href="#os" x="189.26" y="109.09"/>
<use href="#os" x="189.86" y="108.47"/>
<use href="#os" x="190.46" y="107.85"/>
<use href="#os" x="191.06" y="107.22"/>
<use href="#os" x="191.67" y="106.59"/>
<use href="#os" x="192.27" y="105.96"/>
<use href="#os" x="192.87" y="105.32"/>
<use href="#os" x="193.47" y="104.69"/>
<use href="#os" x="194.08" y="104.05"/>
<use href="#os" x="194.68" y="103.42"/>
<use href="#os" x="195.28" y="102.78"/>
<use href="#os" x="195.88" y="102.13"/>
<use href="#os" x="196.49" y="101.49"/>
<use href="#os" x="197.09" y="100.84"/>
<use href="#os" x="197.69" y="100.19"/>
<use href="#os" x="198.29" y="99.54"/>
<use href="#os" x="198.90" y="98.89"/>
<use href="#os" x="199.50" y="98.24"/>
<use href="#os" x="200.10" y="97.58"/>
<use href="#os" x="200.70" y="96.92"/>
<use href="#os" x="201.31" y="96.26"/>
<use href="#os" x="201.91" y="95.60"/>
<use href="#os" x="202.51" y="94.94"/>
<use href="#os" x="203.11" y="94.27"/>
<use href="#os" x="203.72" y="93.60"/>
<use href="#os" x="204.32" y="92.93"/>
<use href="#os" x="204.92" y="92.26"/>
<use href="#os" x="205.52" y="91.58"/>
<use href="#os" x="206.13" y="90.90"/>
<use href="#os" x="206.73" y="90.22"/>
<use href="#os" x="207.33" y="89.54"/>
<use href="#os" x="207.93" y="88.85"/>
<use href="#os" x="208.54" y="88.17"/>
<use href="#os" x="209.14" y="87.48"/>
<use href="#os" x="209.74" y="86.78"/>
<use href="#os" x="210.34" y="86.09"/>
<use href="#os" x="210.95" y="85.39"/>
<use href="#os" x="211.55" y="84.70"/>
<use href="#os" x="212.15" y="84.00"/>
<use href="#os" x="212.75" y="83.29"/>
<use href="#os" x="213.36" y="82.59"/>
<use href="#os" x="213.96" y="81.88"/>
<use href="#os" x="214.56" y="81.17"/>
<use href="#os" x="215.16" y="80.46"/>
<use href="#os" x="215.77" y="79.75"/>
<use href="#os" x="216.37" y="79.04"/>
<use href="#os" x="216.97" y="78.32"/>
<use href="#os" x="217.57" y="77.60"/>
<use href="#os" x="218.18" y="76.88"/>
<use href="#os" x="218.78" y="76.15"/>
<use href="#os" x="219.38" y="75.43"/>
<use href="#os" x="219.98" y="74.70"/>
<use href="#os" x="220.59" y="73.96"/>
<use href="#os" x="221.19" y="73.23"/>
<use href="#os" x="221.79" y="72.49"/>
<use href="#os" x="222.39" y="71.75"/>
<use href="#os" x="223.00" y="71.01"/>
<use href="#os" x="223.60" y="70.27"/>
<use href="#os" x="224.20" y="69.52"/>
<use href="#os" x="224.80" y="68.77"/>
<use href="#os" x="225.41" y="68.02"/>
<use href="#os" x="226.01" y="67.26"/>
<use href="#os" x="226.61" y="66.51"/>
<use href="#os" x="227.21" y="65.75"/>
<use href="#os" x="227.82" y="64.98"/>
<use href="#os" x="228.42" y="64.22"/>
<use href="#os" x="229.02" y="63.45"/>
<use href="#os" x="229.62" y="62.67"/>
<use href="#os" x="230.23" y="61.90"/>
<use href="#os" x="230.83" y="61.12"/>
<use href="#os" x="231.43" y="60.34"/>
<use href="#os" x="232.03" y="59.55"/>
<use href="#os" x="232.64" y="58.76"/>
<use href="#os" x="233.24" y="57.97"/>
<use href="#os" x="233.84" y="57.18"/>
<use href="#os" x="234.44" y="56.38"/>
<use href="#os" x="235.05" y="55.58"/>
<use href="#os" x="235.65" y="54.78"/>
<use href="#os" x="236.25" y="53.97"/>
<use href="#os" x="236.85" y="53.16"/>
<use href="#os" x="237.46" y="52.34"/>
<use href="#os" x="238.06" y="51.53"/>
<use href="#os" x="238.66" y="50.70"/>
<use href="#os" x="239.26" y="49.88"/>
<use href="#os" x="239.87" y="49.05"/>
<use href="#os" x="240.47" y="48.22"/>
<use href="#os" x="241.07" y="47.38"/>
<use href="#os" x="241.67" y="46.55"/>
<use href="#os" x="242.28" y="45.70"/>
<use href="#os" x="242.88" y="44.86"/>
<use href="#os" x="243.48" y="44.01"/>
<use href="#os" x="244.08" y="43.16"/>
<use href="#os" x="244.69" y="42.31"/>
<use href="#os" x="245.29" y="41.45"/>
<use href="#os" x="245.89" y="40.59"/>
<use href="#os" x="246.49" y="39.72"/>
<use href="#os" x="247.10" y="38.85"/>
<use href="#os" x="247.70" y="37.98"/>
<use href="#os" x="248.30" y="37.11"/>
<use href="#os" x="248.90" y="36.23"/>
<use href="#os" x="249.51" y="35.34"/>
<use href="#os" x="250.11" y="34.46"/>
<use href="#os" x="250.71" y="33.57"/>
<use href="#os" x="251.31" y="32.67"/>
<use href="#os" x="251.92" y="31.78"/>
<use href="#os" x="252.52" y="30.88"/>
<use href="#os" x="253.12" y="29.97"/>
<use href="#os" x="253.72" y="29.06"/>
<use href="#os" x="254.33" y="28.15"/>
<use href="#os" x="254.93" y="27.23"/>
<use href="#os" x="255.53" y="26.31"/>
<use href="#os" x="256.13" y="25.38"/>
<use href="#os" x="256.74" y="24.45"/>
<use href="#os" x="257.34" y="23.52"/>
<use href="#os" x="257.94" y="22.58"/>
<use href="#os" x="258.54" y="21.64"/>
<use href="#os" x="259.14" y="20.69"/>
<use href="#os" x="259.75" y="19.74"/>
<use href="#os" x="260.35" y="18.79"/>
<use href="#ms" x="55.50" y="302.20"/>
<use href="#ms" x="57.28" y="281.26"/>
<use href="#ms" x="57.77" y="275.27"/>
<use href="#ms" x="58.27" y="270.97"/>
<use href="#ms" x="58.78" y="267.50"/>
<use href="#ms" x="59.30" y="264.53"/>
<use href="#ms" x="59.83" y="261.92"/>
<use href="#ms" x="60.36" y="259.55"/>
<use href="#ms" x="60.90" y="257.39"/>
<use href="#ms" x="61.45" y="255.38"/>
<use href="#ms" x="62.00" y="253.50"/>
<use href="#ms" x="62.56" y="251.73"/>
<use href="#ms" x="63.12" y="250.06"/>
<use href="#ms" x="63.69" y="248.47"/>
<use href="#ms" x="64.26" y="246.95"/>
<use href="#ms" x="64.83" y="245.49"/>
<use href="#ms" x="65.40" y="244.08"/>
<use href="#ms" x="65.98" y="242.73"/>
<use href="#ms" x="66.56" y="241.42"/>
<use href="#ms" x="67.14" y="240.15"/>
<use href="#ms" x="67.73" y="238.93"/>
<use href="#hs" x="68.31" y="237.73"/>
<use href="#ms" x="68.90" y="236.57"/>
<use href="#ms" x="69.49" y="235.44"/>
<use href="#hs" x="70.08" y="234.33"/>
<use href="#ms" x="70.67" y="233.25"/>
<use href="#ms" x="71.26" y="232.19"/>
<use href="#hs" x="71.85" y="231.16"/>
<use href="#ms" x="72.45" y="230.14"/>
<use href="#ms" x="73.04" y="229.15"/>
<use href="#hs" x="73.64" y="228.17"/>
<use href="#ms" x="74.24" y="227.21"/>
<use href="#ms" x="74.83" y="226.27"/>
<use href="#hs" x="75.43" y="225.35"/>
<use href="#ms" x="76.03" y="224.43"/>
<use href="#ms" x="76.63" y="223.54"/>
<use href="#hs" x="77.23" y="222.65"/>
<use href="#ms" x="77.82" y="221.78"/>
<use href="#ms" x="78.42" y="220.92"/>
<use href="#hs" x="79.02" y="220.07"/>
<use href="#ms" x="79.62" y="219.24"/>
<use href="#ms" x="80.22" y="218.41"/>
<use href="#hs" x="80.82" y="217.59"/>
<use href="#ms" x="81.43" y="216.79"/>
<use href="#ms" x="82.03" y="215.99"/>
<use href="#hs" x="82.63" y="215.20"/>
<use href="#ms" x="83.23" y="214.42"/>
<use href="#ms" x="83.83" y="213.65"/>
<use href="#hs" x="84.43" y="212.88"/>
<use href="#ms" x="85.03" y="212.13"/>
<use href="#ms" x="85.63" y="211.38"/>
<use href="#hs" x="86.24" y="210.63"/>
<use href="#ms" x="86.84" y="209.90"/>
<use href="#ms" x="87.44" y="209.17"/>
<use href="#hs" x="88.04" y="208.45"/>
<use href="#ms" x="88.64" y="207.73"/>
<use href="#ms" x="89.24" y="207.02"/>
<use href="#hs" x="89.85" y="206.31"/>
<use href="#ms" x="90.45" y="205.61"/>
<use href="#ms" x="91.05" y="204.92"/>
<use href="#hs" x="91.65" y="204.23"/>
<use href="#ms" x="92.26" y="203.54"/>
<use href="#ms" x="92.86" y="202.87"/>
<use href="#hs" x="93.46" y="202.19"/>
<use href="#ms" x="94.06" y="201.52"/>
<use href="#ms" x="94.66" y="200.85"/>
<use href="#hs" x="95.27" y="200.19"/>
<use href="#ms" x="95.87" y="199.53"/>
<use href="#ms" x="96.47" y="198.88"/>
<use href="#hs" x="97.07" y="198.23"/>
<use href="#ms" x="97.68" y="197.58"/>
<use href="#ms" x="98.28" y="196.94"/>
<use href="#hs" x="98.88" y="196.30"/>
<use href="#ms" x="99.48" y="195.66"/>
<use href="#ms" x="100.09" y="195.03"/>
<use href="#hs" x="100.69" y="194.40"/>
<use href="#ms" x="101.29" y="193.77"/>
<use href="#ms" x="101.89" y="193.15"/>
<use href="#hs" x="102.50" y="192.53"/>
<use href="#ms" x="103.10" y="191.91"/>
<use href="#ms" x="103.70" y="191.30"/>
<use href="#hs" x="104.30" y="190.68"/>
<use href="#ms" x="104.91" y="190.07"/>
<use href="#ms" x="105.51" y="189.46"/>
<use href="#hs" x="106.11" y="188.86"/>
<use href="#ms" x="106.71" y="188.26"/>
<use href="#ms" x="107.32" y="187.66"/>
<use href="#hs" x="107.92" y="187.06"/>
<use href="#ms" x="108.52" y="186.46"/>
<use href="#ms" x="109.12" y="185.87"/>
<use href="#hs" x="109.73" y="185.27"/>
<use href="#ms" x="110.33" y="184.68"/>
<use href="#ms" x="110.93" y="184.10"/>
<use href="#hs" x="111.53" y="183.51"/>
<use href="#ms" x="112.14" y="182.92"/>
<use href="#ms" x="112.74" y="182.34"/>
<use href="#hs" x="113.34" y="181.76"/>
<use href="#ms" x="113.94" y="181.18"/>
<use href="#ms" x="114.55" y="180.60"/>
<use href="#hs" x="115.15" y="180.03"/>
<use href="#ms" x="115.75" y="179.45"/>
<use href="#ms" x="116.35" y="178.88"/>
<use href="#hs" x="116.96" y="178.30"/>
<use href="#ms" x="117.56" y="177.73"/>
<use href="#ms" x="118.16" y="177.16"/>
<use href="#hs" x="118.76" y="176.59"/>
<use href="#ms" x="119.37" y="176.03"/>
<use href="#ms" x="119.97" y="175.46"/>
<use href="#hs" x="120.57" y="174.89"/>
<use href="#ms" x="121.17" y="174.32"/>
<use href="#ms" x="121.78" y="173.76"/>
<use href="#hs" x="122.38" y="173.19"/>
<use href="#ms" x="122.98" y="172.61"/>
<use href="#ms" x="123.58" y="172.04"/>
<use href="#hs" x="124.19" y="171.47"/>
<use href="#ms" x="124.79" y="170.89"/>
<use href="#ms" x="125.39" y="170.32"/>
<use href="#hs" x="125.99" y="169.74"/>
<use href="#ms" x="126.60" y="169.17"/>
<use href="#ms" x="127.20" y="168.59"/>
<use href="#hs" x="127.80" y="168.01"/>
<use href="#ms" x="128.40" y="167.43"/>
<use href="#ms" x="129.01" y="166.85"/>
<use href="#hs" x="129.61" y="166.27"/>
<use href="#ms" x="130.21" y="165.69"/>
<use href="#ms" x="130.81" y="165.11"/>
<use href="#hs" x="131.42" y="164.53"/>
<use href="#ms" x="132.02" y="163.95"/>
<use href="#ms" x="132.62" y="163.37"/>
<use href="#hs" x="133.22" y="162.79"/>
<use href="#ms" x="133.83" y="162.21"/>
<use href="#ms" x="134.43" y="161.63"/>
<use href="#hs" x="135.03" y="161.05"/>
<use href="#ms" x="135.63" y="160.47"/>
<use href="#ms" x="136.24" y="159.89"/>
<use href="#hs" x="136.84" y="159.31"/>
<use href="#ms" x="137.44" y="158.73"/>
<use href="#ms" x="138.04" y="158.15"/>
<use href="#hs" x="138.65" y="157.58"/>
<use href="#ms" x="139.25" y="157.00"/>
<use href="#ms" x="139.85" y="156.42"/>
<use href="#hs" x="140.45" y="155.85"/>
<use href="#ms" x="141.06" y="155.27"/>
<use href="#ms" x="141.66" y="154.70"/>
<use href="#hs" x="142.26" y="154.13"/>
<use href="#ms" x="142.86" y="153.55"/>
<use href="#ms" x="143.47" y="152.98"/>
<use href="#hs" x="144.07" y="152.41"/>
<use href="#ms" x="144.67" y="151.85"/>
<use href="#ms" x="145.27" y="151.28"/>
<use href="#hs" x="145.88" y="150.72"/>
<use href="#ms" x="146.48" y="150.15"/>
<use href="#ms" x="147.08" y="149.59"/>
<use href="#hs" x="147.68" y="149.03"/>
<use href="#ms" x="148.29" y="148.47"/>
<use href="#ms" x="148.89" y="147.91"/>
<use href="#hs" x="149.49" y="147.36"/>
<use href="#ms" x="150.09" y="146.81"/>
<use href="#ms" x="150.70" y="146.26"/>
<use href="#hs" x="151.30" y="145.70"/>
<use href="#ms" x="151.90" y="145.15"/>
<use href="#ms" x="152.50" y="144.60"/>
<use href="#hs" x="153.11" y="144.04"/>
<use href="#ms" x="153.71" y="143.49"/>
<use href="#ms" x="154.31" y="142.93"/>
<use href="#hs" x="154.91" y="142.38"/>
<use href="#ms" x="155.52" y="141.82"/>
<use href="#ms" x="156.12" y="141.26"/>
<use href="#hs" x="156.72" y="140.71"/>
<use href="#ms" x="157.32" y="140.15"/>
<use href="#ms" x="157.93" y="139.59"/>
<use href="#hs" x="158.53" y="139.03"/>
<use href="#ms" x="159.13" y="138.47"/>
<use href="#ms" x="159.73" y="137.91"/>
<use href="#hs" x="160.34" y="137.35"/>
<use href="#ms" x="160.94" y="136.79"/>
<use href="#ms" x="161.54" y="136.23"/>
<use href="#hs" x="162.14" y="135.66"/>
<use href="#ms" x="162.75" y="135.10"/>
<use href="#ms" x="163.35" y="134.53"/>
<use href="#hs" x="163.95" y="133.96"/>
<use href="#ms" x="164.55" y="133.40"/>
<use href="#ms" x="165.16" y="132.83"/>
<use href="#hs" x="165.76" y="132.26"/>
<use href="#ms" x="166.36" y="131.69"/>
<use href="#ms" x="166.96" y="131.12"/>
<use href="#hs" x="167.57" y="130.55"/>
<use href="#ms" x="168.17" y="129.97"/>
<use href="#ms" x="168.77" y="129.40"/>
<use href="#hs" x="169.37" y="128.82"/>
<use href="#ms" x="169.98" y="128.25"/>
<use href="#ms" x="170.58" y="127.67"/>
<use href="#hs" x="171.18" y="127.09"/>
<use href="#ms" x="171.78" y="126.51"/>
<use href="#ms" x="172.39" y="125.93"/>
<use href="#hs" x="172.99" y="125.34"/>
<use href="#ms" x="173.59" y="124.76"/>
<use href="#ms" x="174.19" y="124.18"/>
<use href="#hs" x="174.80" y="123.59"/>
<use href="#ms" x="175.40" y="123.00"/>
<use href="#ms" x="176.00" y="122.41"/>
<use href="#hs" x="176.60" y="121.82"/>
<use href="#ms" x="177.21" y="121.23"/>
<use href="#ms" x="177.81" y="120.64"/>
<use href="#hs" x="178.41" y="120.05"/>
<use href="#ms" x="179.01" y="119.45"/>
<use href="#ms" x="179.62" y="118.85"/>
<use href="#hs" x="180.22" y="118.25"/>
<use href="#ms" x="180.82" y="117.65"/>
<use href="#ms" x="181.42" y="117.05"/>
<use href="#hs" x="182.03" y="116.45"/>
<use href="#ms" x="182.63" y="115.85"/>
<use href="#ms" x="183.23" y="115.24"/>
<use href="#hs" x="183.83" y="114.63"/>
<use href="#ms" x="184.44" y="114.02"/>
<use href="#ms" x="185.04" y="113.41"/>
<use href="#hs" x="185.64" y="112.80"/>
<use href="#ms" x="186.24" y="112.19"/>
<use href="#ms" x="186.85" y="111.57"/>
<use href="#hs" x="187.45" y="110.96"/>
<use href="#ms" x="188.05" y="110.34"/>
<use href="#ms" x="188.65" y="109.72"/>
<use href="#hs" x="189.26" y="109.09"/>
<use href="#ms" x="189.86" y="108.47"/>
<use href="#ms" x="190.46" y="107.85"/>
<use href="#hs" x="191.06" y="107.22"/>
<use href="#ms" x="191.67" y="106.59"/>
<use href="#ms" x="192.27" y="105.96"/>
<use href="#hs" x="192.87" y="105.32"/>
<use href="#ms" x="193.47" y="104.69"/>
<use href="#ms" x="194.08" y="104.05"/>
<use href="#hs" x="194.68" y="103.42"/>
<use href="#ms" x="195.28" y="102.78"/>
<use href="#ms" x="195.88" y="102.13"/>
<use href="#hs" x="196.49" y="101.49"/>
<use href="#ms" x="197.09" y="100.84"/>
<use href="#ms" x="197.69" y="100.19"/>
<use href="#hs" x="198.29" y="99.54"/>
<use href="#ms" x="198.90" y="98.89"/>
<use href="#ms" x="199.50" y="98.24"/>
<use href="#hs" x="200.10" y="97.58"/>
<use href="#ms" x="200.70" y="96.92"/>
<use href="#ms" x="201.31" y="96.26"/>
<use href="#hs" x="201.91" y="95.60"/>
<use href="#ms" x="202.51" y="94.94"/>
<use href="#ms" x="203.11" y="94.27"/>
<use href="#hs" x="203.72" y="93.60"/>
<use href="#ms" x="204.32" y="92.93"/>
<use href="#ms" x="204.92" y="92.26"/>
<use href="#hs" x="205.52" y="91.58"/>
<use href="#ms" x="206.13" y="90.90"/>
<use href="#ms" x="206.73" y="90.22"/>
<use href="#hs" x="207.33" y="89.54"/>
<use href="#ms" x="207.93" y="88.85"/>
<use href="#ms" x="208.54" y="88.17"/>
<use href="#hs" x="209.14" y="87.48"/>
<use href="#ms" x="209.74" y="86.78"/>
<use href="#ms" x="210.34" y="86.09"/>
<use href="#hs" x="210.95" y="85.39"/>
<use href="#ms" x="211.55" y="84.70"/>
<use href="#ms" x="212.15" y="84.00"/>
<use href="#hs" x="212.75" y="83.29"/>
<use href="#ms" x="213.36" y="82.59"/>
<use href="#ms" x="213.96" y="81.88"/>
<use href="#hs" x="214.56" y="81.17"/>
<use href="#ms" x="215.16" y="80.46"/>
<use href="#ms" x="215.77" y="79.75"/>
<use href="#hs" x="216.37" y="79.04"/>
<use href="#ms" x="216.97" y="78.32"/>
<use href="#ms" x="217.57" y="77.60"/>
<use href="#hs" x="218.18" y="76.88"/>
<use href="#ms" x="218.78" y="76.15"/>
<use href="#ms" x="219.38" y="75.43"/>
<use href="#hs" x="219.98" y="74.70"/>
<use href="#ms" x="220.59" y="73.96"/>
<use href="#ms" x="221.19" y="73.23"/>
<use href="#hs" x="221.79" y="72.49"/>
<use href="#ms" x="222.39" y="71.75"/>
<use href="#ms" x="223.00" y="71.01"/>
<use href="#hs" x="223.60" y="70.27"/>
<use href="#ms" x="224.20" y="69.52"/>
<use href="#ms" x="224.80" y="68.77"/>
<use href="#hs" x="225.41" y="68.02"/>
<use href="#ms" x="226.01" y="67.26"/>
<use href="#ms" x="226.61" y="66.51"/>
<use href="#hs" x="227.21" y="65.75"/>
<use href="#ms" x="227.82" y="64.98"/>
<use href="#ms" x="228.42" y="64.22"/>
<use href="#hs" x="229.02" y="63.45"/>
<use href="#ms" x="229.62" y="62.67"/>
<use href="#ms" x="230.23" y="61.90"/>
<use href="#hs" x="230.83" y="61.12"/>
<use href="#ms" x="231.43" y="60.34"/>
<use href="#ms" x="232.03" y="59.55"/>
<use href="#hs" x="232.64" y="58.76"/>
<use href="#ms" x="233.24" y="57.97"/>
<use href="#ms" x="233.84" y="57.18"/>
<use href="#hs" x="234.44" y="56.38"/>
<use href="#ms" x="235.05" y="55.58"/>
<use href="#ms" x="235.65" y="54.78"/>
<use href="#hs" x="236.25" y="53.97"/>
<use href="#ms" x="236.85" y="53.16"/>
<use href="#ms" x="237.46" y="52.34"/>
<use href="#hs" x="238.06" y="51.53"/>
<use href="#ms" x="238.66" y="50.70"/>
<use href="#ms" x="239.26" y="49.88"/>
<use href="#hs" x="239.87" y="49.05"/>
<use href="#ms" x="240.47" y="48.22"/>
<use href="#ms" x="241.07" y="47.38"/>
<use href="#hs" x="241.67" y="46.55"/>
<use href="#ms" x="242.28" y="45.70"/>
<use href="#ms" x="242.88" y="44.86"/>
<use href="#hs" x="243.48" y="44.01"/>
<use href="#ms" x="244.08" y="43.16"/>
<use href="#ms" x="244.69" y="42.31"/>
<use href="#hs" x="245.29" y="41.45"/>
<use href="#ms" x="245.89" y="40.59"/>
<use href="#ms" x="246.49" y="39.72"/>
<use href="#hs" x="247.10" y="38.85"/>
<use href="#ms" x="247.70" y="37.98"/>
<use href="#ms" x="248.30" y="37.11"/>
<use href="#hs" x="248.90" y="36.23"/>
<use href="#ms" x="249.51" y="35.34"/>
<use href="#ms" x="250.11" y="34.46"/>
<use href="#hs" x="250.71" y="33.57"/>
<use href="#ms" x="251.31" y="32.67"/>
<use href="#ms" x="251.92" y="31.78"/>
<use href="#hs" x="252.52" y="30.88"/>
<use href="#ms" x="253.12" y="29.97"/>
<use href="#ms" x="253.72" y="29.06"/>
<use href="#hs" x="254.33" y="28.15"/>
<use href="#ms" x="254.93" y="27.23"/>
<use href="#ms" x="255.53" y="26.31"/>
<use href="#hs" x="256.13" y="25.38"/>
<use href="#ms" x="256.74" y="24.45"/>
<use href="#ms" x="257.34" y="23.52"/>
<use href="#hs" x="257.94" y="22.58"/>
<use href="#ms" x="258.54" y="21.64"/>
<use href="#ms" x="259.14" y="20.69"/>
<use href="#hs" x="259.75" y="19.74"/>
<use href="#es" x="260.35" y="18.79"/>
</g>
<g id="s-red">
<use href="#od" x="55.50" y="302.20"/>
<use href="#od" x="57.28" y="289.03"/>
<use href="#od" x="57.77" y="285.20"/>
<use href="#od" x="58.27" y="282.45"/>
<use href="#od" x="58.78" y="280.22"/>
<use href="#od" x="59.30" y="278.33"/>
<use href="#od" x="59.83" y="276.66"/>
<use href="#od" x="60.36" y="275.15"/>
<use href="#od" x="60.90" y="273.77"/>
<use href="#od" x="61.45" y="272.49"/>
<use href="#od" x="62.00" y="271.30"/>
<use href="#od" x="62.56" y="270.18"/>
<use href="#od" x="63.12" y="269.12"/>
<use href="#od" x="63.69" y="268.11"/>
<use href="#od" x="64.26" y="267.15"/>
<use href="#od" x="64.83" y="266.24"/>
<use href="#od" x="65.40" y="265.35"/>
<use href="#od" x="65.98" y="264.50"/>
<use href="#od" x="66.56" y="263.68"/>
<use href="#od" x="67.14" y="262.89"/>
<use href="#od" x="67.73" y="262.12"/>
<use href="#od" x="68.31" y="261.38"/>
<use href="#od" x="68.90" y="260.66"/>
<use href="#od" x="69.49" y="259.95"/>
<use href="#od" x="70.08" y="259.27"/>
<use href="#od" x="70.67" y="258.60"/>
<use href="#od" x="71.26" y="257.94"/>
<use href="#od" x="71.85" y="257.31"/>
<use href="#od" x="72.45" y="256.68"/>
<use href="#od" x="73.04" y="256.07"/>
<use href="#od" x="73.64" y="255.47"/>
<use href="#od" x="74.24" y="254.88"/>
<use href="#od" x="74.83" y="254.31"/>
<use href="#od" x="75.43" y="253.74"/>
<use href="#od" x="76.03" y="253.19"/>
<use href="#od" x="76.63" y="252.64"/>
<use href="#od" x="77.23" y="252.11"/>
<use href="#od" x="77.82" y="251.58"/>
<use href="#od" x="78.42" y="251.06"/>
<use href="#od" x="79.02" y="250.55"/>
<use href="#od" x="79.62" y="250.04"/>
<use href="#od" x="80.22" y="249.55"/>
<use href="#od" x="80.82" y="249.06"/>
<use href="#od" x="81.43" y="248.57"/>
<use href="#od" x="82.03" y="248.10"/>
<use href="#od" x="82.63" y="247.63"/>
<use href="#od" x="83.23" y="247.16"/>
<use href="#od" x="83.83" y="246.70"/>
<use href="#od" x="84.43" y="246.25"/>
<use href="#od" x="85.03" y="245.80"/>
<use href="#od" x="85.63" y="245.36"/>
<use href="#od" x="86.24" y="244.92"/>
<use href="#od" x="86.84" y="244.49"/>
<use href="#od" x="87.44" y="244.06"/>
<use href="#od" x="88.04" y="243.64"/>
<use href="#od" x="88.64" y="243.22"/>
<use href="#od" x="89.24" y="242.81"/>
<use href="#od" x="89.85" y="242.40"/>
<use href="#od" x="90.45" y="241.99"/>
<use href="#od" x="91.05" y="241.59"/>
<use href="#od" x="91.65" y="241.19"/>
<use href="#od" x="92.26" y="240.80"/>
<use href="#od" x="92.86" y="240.41"/>
<use href="#od" x="93.46" y="240.02"/>
<use href="#od" x="94.06" y="239.64"/>
<use href="#od" x="94.66" y="239.25"/>
<use href="#od" x="95.27" y="238.88"/>
<use href="#od" x="95.87" y="238.50"/>
<use href="#od" x="96.47" y="238.13"/>
<use href="#od" x="97.07" y="237.76"/>
<use href="#od" x="97.68" y="237.40"/>
<use href="#od" x="98.28" y="237.04"/>
<use href="#od" x="98.88" y="236.68"/>
<use href="#od" x="99.48" y="236.32"/>
<use href="#od" x="100.09" y="235.96"/>
<use href="#od" x="100.69" y="235.61"/>
<use href="#od" x="101.29" y="235.26"/>
<use href="#od" x="101.89" y="234.92"/>
<use href="#od" x="102.50" y="234.58"/>
<use href="#od" x="103.10" y="234.23"/>
<use href="#od" x="103.70" y="233.90"/>
<use href="#od" x="104.30" y="233.56"/>
<use href="#od" x="104.91" y="233.23"/>
<use href="#od" x="105.51" y="232.90"/>
<use href="#od" x="106.11" y="232.57"/>
<use href="#od" x="106.71" y="232.24"/>
<use href="#od" x="107.32" y="231.92"/>
<use href="#od" x="107.92" y="231.59"/>
<use href="#od" x="108.52" y="231.27"/>
<use href="#od" x="109.12" y="230.95"/>
<use href="#od" x="109.73" y="230.64"/>
<use href="#od" x="110.33" y="230.33"/>
<use href="#od" x="110.93" y="230.01"/>
<use href="#od" x="111.53" y="229.70"/>
<use href="#od" x="112.14" y="229.39"/>
<use href="#od" x="112.74" y="229.09"/>
<use href="#od" x="113.34" y="228.78"/>
<use href="#od" x="113.94" y="228.48"/>
<use href="#od" x="114.55" y="228.18"/>
<use href="#od" x="115.15" y="227.88"/>
<use href="#od" x="115.75" y="227.58"/>
<use href="#od" x="116.35" y="227.29"/>
<use href="#od" x="116.96" y="226.99"/>
<use href="#od" x="117.56" y="226.70"/>
<use href="#od" x="118.16" y="226.41"/>
<use href="#od" x="118.76" y="226.12"/>
<use href="#od" x="119.37" y="225.83"/>
<use href="#od" x="119.97" y="225.55"/>
<use href="#od" x="120.57" y="225.26"/>
<use href="#od" x="121.17" y="224.98"/>
<use href="#od" x="121.78" y="224.70"/>
<use href="#od" x="122.38" y="224.42"/>
<use href="#od" x="122.98" y="224.14"/>
<use href="#od" x="123.58" y="223.86"/>
<use href="#od" x="124.19" y="223.58"/>
<use href="#od" x="124.79" y="223.31"/>
<use href="#od" x="125.39" y="223.04"/>
<use href="#od" x="125.99" y="222.76"/>
<use href="#od" x="126.60" y="222.49"/>
<use href="#od" x="127.20" y="222.22"/>
<use href="#od" x="127.80" y="221.95"/>
<use href="#od" x="128.40" y="221.69"/>
<use href="#od" x="129.01" y="221.42"/>
<use href="#od" x="129.61" y="221.15"/>
<use href="#od" x="130.21" y="220.89"/>
<use href="#od" x="130.81" y="220.63"/>
<use href="#od" x="131.42" y="220.37"/>
<use href="#od" x="132.02" y="220.11"/>
<use href="#od" x="132.62" y="219.85"/>
<use href="#od" x="133.22" y="219.59"/>
<use href="#od" x="133.83" y="219.33"/>
<use href="#od" x="134.43" y="219.07"/>
<use href="#od" x="135.03" y="218.82"/>
<use href="#od" x="135.63" y="218.56"/>
<use href="#od" x="136.24" y="218.31"/>
<use href="#od" x="136.84" y="218.06"/>
<use href="#od" x="137.44" y="217.81"/>
<use href="#od" x="138.04" y="217.56"/>
<use href="#od" x="138.65" y="217.31"/>
<use href="#od" x="139.25" y="217.06"/>
<use href="#od" x="139.85" y="216.81"/>
<use href="#od" x="140.45" y="216.56"/>
<use href="#od" x="141.06" y="216.32"/>
<use href="#od" x="141.66" y="216.07"/>
<use href="#od" x="142.26" y="215.83"/>
<use href="#od" x="142.86" y="215.58"/>
<use href="#od" x="143.47" y="215.34"/>
<use href="#od" x="144.07" y="215.10"/>
<use href="#od" x="144.67" y="214.86"/>
<use href="#od" x="145.27" y="214.62"/>
<use href="#od" x="145.88" y="214.38"/>
<use href="#od" x="146.48" y="214.14"/>
<use href="#od" x="147.08" y="213.90"/>
<use href="#od" x="147.68" y="213.66"/>
<use href="#od" x="148.29" y="213.42"/>
<use href="#od" x="148.89" y="213.19"/>
<use href="#od" x="149.49" y="212.95"/>
<use href="#od" x="150.09" y="212.72"/>
<use href="#od" x="150.70" y="212.48"/>
<use href="#od" x="151.30" y="212.25"/>
<use href="#od" x="151.90" y="212.02"/>
<use href="#od" x="152.50" y="211.79"/>
<use href="#od" x="153.11" y="211.56"/>
<use href="#od" x="153.71" y="211.32"/>
<use href="#od" x="154.31" y="211.09"/>
<use href="#od" x="154.91" y="210.87"/>
<use href="#od" x="155.52" y="210.64"/>
<use href="#od" x="156.12" y="210.41"/>
<use href="#od" x="156.72" y="210.18"/>
<use href="#od" x="157.32" y="209.95"/>
<use href="#od" x="157.93" y="209.73"/>
<use href="#od" x="158.53" y="209.50"/>
<use href="#od" x="159.13" y="209.27"/>
<use href="#od" x="159.73" y="209.05"/>
<use href="#od" x="160.34" y="208.83"/>
<use href="#od" x="160.94" y="208.60"/>
<use href="#od" x="161.54" y="208.38"/>
<use href="#od" x="162.14" y="208.15"/>
<use href="#od" x="162.75" y="207.93"/>
<use href="#od" x="163.35" y="207.71"/>
<use href="#od" x="163.95" y="207.49"/>
<use href="#od" x="164.55" y="207.27"/>
<use href="#od" x="165.16" y="207.05"/>
<use href="#od" x="165.76" y="206.83"/>
<use href="#od" x="166.36" y="206.61"/>
<use href="#od" x="166.96" y="206.39"/>
<use href="#od" x="167.57" y="206.17"/>
<use href="#od" x="168.17" y="205.95"/>
<use href="#od" x="168.77" y="205.73"/>
<use href="#od" x="169.37" y="205.51"/>
<use href="#od" x="169.98" y="205.30"/>
<use href="#od" x="170.58" y="205.08"/>
<use href="#od" x="171.18" y="204.86"/>
<use href="#od" x="171.78" y="204.65"/>
<use href="#od" x="172.39" y="204.43"/>
<use href="#od" x="172.99" y="204.21"/>
<use href="#od" x="173.59" y="204.00"/>
<use href="#od" x="174.19" y="203.78"/>
<use href="#od" x="174.80" y="203.57"/>
<use href="#od" x="175.40" y="203.36"/>
<use href="#od" x="176.00" y="203.14"/>
<use href="#od" x="176.60" y="202.93"/>
<use href="#od" x="177.21" y="202.72"/>
<use href="#od" x="177.81" y="202.50"/>
<use href="#od" x="178.41" y="202.29"/>
<use href="#od" x="179.01" y="202.08"/>
<use href="#od" x="179.62" y="201.87"/>
<use href="#od" x="180.22" y="201.65"/>
<use href="#od" x="180.82" y="201.44"/>
<use href="#od" x="181.42" y="201.23"/>
<use href="#od" x="182.03" y="201.02"/>
<use href="#od" x="182.63" y="200.81"/>
<use href="#od" x="183.23" y="200.60"/>
<use href="#od" x="183.83" y="200.39"/>
<use href="#od" x="184.44" y="200.18"/>
<use href="#od" x="185.04" y="199.97"/>
<use href="#od" x="185.64" y="199.76"/>
<use href="#od" x="186.24" y="199.55"/>
<use href="#od" x="186.85" y="199.34"/>
<use href="#od" x="187.45" y="199.13"/>
<use href="#od" x="188.05" y="198.92"/>
<use href="#od" x="188.65" y="198.71"/>
<use href="#od" x="189.26" y="198.50"/>
<use href="#od" x="189.86" y="198.29"/>
<use href="#od" x="190.46" y="198.09"/>
<use href="#od" x="191.06" y="197.88"/>
<use href="#od" x="191.67" y="197.67"/>
<use href="#od" x="192.27" y="197.46"/>
<use href="#od" x="192.87" y="197.25"/>
<use href="#od" x="193.47" y="197.05"/>
<use href="#od" x="194.08" y="196.84"/>
<use href="#od" x="194.68" y="196.63"/>
<use href="#od" x="195.28" y="196.43"/>
<use href="#od" x="195.88" y="196.22"/>
<use href="#od" x="196.49" y="196.01"/>
<use href="#od" x="197.09" y="195.80"/>
<use href="#od" x="197.69" y="195.60"/>
<use href="#od" x="198.29" y="195.39"/>
<use href="#od" x="198.90" y="195.18"/>
<use href="#od" x="199.50" y="194.98"/>
<use href="#od" x="200.10" y="194.77"/>
<use href="#od" x="200.70" y="194.57"/>
<use href="#od" x="201.31" y="194.36"/>
<use href="#od" x="201.91" y="194.15"/>
<use href="#od" x="202.51" y="193.95"/>
<use href="#od" x="203.11" y="193.74"/>
<use href="#od" x="203.72" y="193.54"/>
<use href="#od" x="204.32" y="193.33"/>
<use href="#od" x="204.92" y="193.13"/>
<use href="#od" x="205.52" y="192.92"/>
<use href="#od" x="206.13" y="192.72"/>
<use href="#od" x="206.73" y="192.51"/>
<use href="#od" x="207.33" y="192.31"/>
<use href="#od" x="207.93" y="192.10"/>
<use href="#od" x="208.54" y="191.90"/>
<use href="#od" x="209.14" y="191.70"/>
<use href="#od" x="209.74" y="191.49"/>
<use href="#od" x="210.34" y="191.29"/>
<use href="#od" x="210.95" y="191.09"/>
<use href="#od" x="211.55" y="190.88"/>
<use href="#od" x="212.15" y="190.68"/>
<use href="#od" x="212.75" y="190.48"/>
<use href="#od" x="213.36" y="190.27"/>
<use href="#od" x="213.96" y="190.07"/>
<use href="#od" x="214.56" y="189.87"/>
<use href="#od" x="215.16" y="189.67"/>
<use href="#od" x="215.77" y="189.47"/>
<use href="#od" x="216.37" y="189.26"/>
<use href="#od" x="216.97" y="189.06"/>
<use href="#od" x="217.57" y="188.86"/>
<use href="#od" x="218.18" y="188.66"/>
<use href="#od" x="218.78" y="188.46"/>
<use href="#od" x="219.38" y="188.26"/>
<use href="#od" x="219.98" y="188.05"/>
<use href="#od" x="220.59" y="187.85"/>
<use href="#od" x="221.19" y="187.65"/>
<use href="#od" x="221.79" y="187.45"/>
<use href="#od" x="222.39" y="187.25"/>
<use href="#od" x="223.00" y="187.05"/>
<use href="#od" x="223.60" y="186.85"/>
<use href="#od" x="224.20" y="186.65"/>
<use href="#od" x="224.80" y="186.45"/>
<use href="#od" x="225.41" y="186.25"/>
<use href="#od" x="226.01" y="186.05"/>
<use href="#od" x="226.61" y="185.85"/>
<use href="#od" x="227.21" y="185.65"/>
<use href="#od" x="227.82" y="185.45"/>
<use href="#od" x="228.42" y="185.25"/>
<use href="#od" x="229.02" y="185.05"/>
<use href="#od" x="229.62" y="184.85"/>
<use href="#od" x="230.23" y="184.65"/>
<use href="#od" x="230.83" y="184.45"/>
<use href="#od" x="231.43" y="184.25"/>
<use href="#od" x="232.03" y="184.05"/>
<use href="#od" x="232.64" y="183.85"/>
<use href="#od" x="233.24" y="183.65"/>
<use href="#od" x="233.84" y="183.46"/>
<use href="#od" x="234.44" y="183.26"/>
<use href="#od" x="235.05" y="183.06"/>
<use href="#od" x="235.65" y="182.86"/>
<use href="#od" x="236.25" y="182.66"/>
<use href="#od" x="236.85" y="182.46"/>
<use href="#od" x="237.46" y="182.26"/>
<use href="#od" x="238.06" y="182.06"/>
<use href="#od" x="238.66" y="181.87"/>
<use href="#od" x="239.26" y="181.67"/>
<use href="#od" x="239.87" y="181.47"/>
<use href="#od" x="240.47" y="181.27"/>
<use href="#od" x="241.07" y="181.07"/>
<use href="#od" x="241.67" y="180.87"/>
<use href="#od" x="242.28" y="180.68"/>
<use href="#od" x="242.88" y="180.48"/>
<use href="#od" x="243.48" y="180.28"/>
<use href="#od" x="244.08" y="180.08"/>
<use href="#od" x="244.69" y="179.88"/>
<use href="#od" x="245.29" y="179.69"/>
<use href="#od" x="245.89" y="179.49"/>
<use href="#od" x="246.49" y="179.29"/>
<use href="#od" x="247.10" y="179.09"/>
<use href="#od" x="247.70" y="178.89"/>
<use href="#od" x="248.30" y="178.70"/>
<use href="#od" x="248.90" y="178.50"/>
<use href="#od" x="249.51" y="178.30"/>
<use href="#od" x="250.11" y="178.10"/>
<use href="#od" x="250.71" y="177.90"/>
<use href="#od" x="251.31" y="177.71"/>
<use href="#od" x="251.92" y="177.51"/>
<use href="#od" x="252.52" y="177.31"/>
<use href="#od" x="253.12" y="177.11"/>
<use href="#od" x="253.72" y="176.92"/>
<use href="#od" x="254.33" y="176.72"/>
<use href="#od" x="254.93" y="176.52"/>
<use href="#od" x="255.53" y="176.32"/>
<use href="#od" x="256.13" y="176.13"/>
<use href="#od" x="256.74" y="175.93"/>
<use href="#od" x="257.34" y="175.73"/>
<use href="#od" x="257.94" y="175.53"/>
<use href="#od" x="258.54" y="175.34"/>
<use href="#od" x="259.14" y="175.14"/>
<use href="#od" x="259.75" y="174.94"/>
<use href="#od" x="260.35" y="174.74"/>
<use href="#od" x="260.95" y="174.55"/>
<use href="#od" x="261.56" y="174.35"/>
<use href="#od" x="262.16" y="174.15"/>
<use href="#od" x="262.76" y="173.95"/>
<use href="#od" x="263.36" y="173.76"/>
<use href="#od" x="263.97" y="173.56"/>
<use href="#od" x="264.57" y="173.36"/>
<use href="#od" x="265.17" y="173.16"/>
<use href="#od" x="265.77" y="172.97"/>
<use href="#od" x="266.38" y="172.77"/>
<use href="#od" x="266.98" y="172.57"/>
<use href="#od" x="267.58" y="172.37"/>
<use href="#od" x="268.18" y="172.17"/>
<use href="#od" x="268.79" y="171.98"/>
<use href="#od" x="269.39" y="171.78"/>
<use href="#od" x="269.99" y="171.58"/>
<use href="#od" x="270.59" y="171.38"/>
<use href="#od" x="271.20" y="171.19"/>
<use href="#od" x="271.80" y="170.99"/>
<use href="#od" x="272.40" y="170.79"/>
<use href="#od" x="273.00" y="170.59"/>
<use href="#od" x="273.61" y="170.39"/>
<use href="#od" x="274.21" y="170.20"/>
<use href="#od" x="274.81" y="170.00"/>
<use href="#od" x="275.41" y="169.80"/>
<use href="#od" x="276.01" y="169.60"/>
<use href="#od" x="276.62" y="169.40"/>
<use href="#od" x="277.22" y="169.21"/>
<use href="#od" x="277.82" y="169.01"/>
<use href="#od" x="278.43" y="168.81"/>
<use href="#od" x="279.03" y="168.61"/>
<use href="#od" x="279.63" y="168.41"/>
<use href="#od" x="280.23" y="168.21"/>
<use href="#od" x="280.84" y="168.02"/>
<use href="#od" x="281.44" y="167.82"/>
<use href="#od" x="282.04" y="167.62"/>
<use href="#od" x="282.64" y="167.42"/>
<use href="#od" x="283.25" y="167.22"/>
<use href="#od" x="283.85" y="167.02"/>
<use href="#od" x="284.45" y="166.82"/>
<use href="#od" x="285.05" y="166.63"/>
<use href="#od" x="285.65" y="166.43"/>
<use href="#od" x="286.26" y="166.23"/>
<use href="#od" x="286.86" y="166.03"/>
<use href="#od" x="287.46" y="165.83"/>
<use href="#od" x="288.07" y="165.63"/>
<use href="#od" x="288.67" y="165.43"/>
<use href="#od" x="289.27" y="165.23"/>
<use href="#od" x="289.87" y="165.03"/>
<use href="#od" x="290.48" y="164.83"/>
<use href="#od" x="291.08" y="164.63"/>
<use href="#od" x="291.68" y="164.43"/>
<use href="#od" x="292.28" y="164.24"/>
<use href="#od" x="292.88" y="164.04"/>
<use href="#od" x="293.49" y="163.84"/>
<use href="#od" x="294.09" y="163.64"/>
<use href="#od" x="294.69" y="163.44"/>
<use href="#od" x="295.30" y="163.24"/>
<use href="#od" x="295.90" y="163.04"/>
<use href="#od" x="296.50" y="162.84"/>
<use href="#od" x="297.10" y="162.64"/>
<use href="#od" x="297.71" y="162.44"/>
<use href="#od" x="298.31" y="162.23"/>
<use href="#od" x="298.91" y="162.03"/>
<use href="#od" x="299.51" y="161.83"/>
<use href="#od" x="300.12" y="161.63"/>
<use href="#od" x="300.72" y="161.43"/>
<use href="#od" x="301.32" y="161.23"/>
<use href="#od" x="301.92" y="161.03"/>
<use href="#od" x="302.52" y="160.83"/>
<use href="#od" x="303.13" y="160.63"/>
<use href="#od" x="303.73" y="160.43"/>
<use href="#od" x="304.33" y="160.23"/>
<use href="#od" x="304.94" y="160.02"/>
<use href="#od" x="305.54" y="159.82"/>
<use href="#od" x="306.14" y="159.62"/>
<use href="#od" x="306.74" y="159.42"/>
<use href="#od" x="307.35" y="159.22"/>
<use href="#od" x="307.95" y="159.02"/>
<use href="#od" x="308.55" y="158.81"/>
<use href="#od" x="309.15" y="158.61"/>
<use href="#od" x="309.75" y="158.41"/>
<use href="#od" x="310.36" y="158.21"/>
<use href="#od" x="310.96" y="158.00"/>
<use href="#od" x="311.56" y="157.80"/>
<use href="#od" x="312.17" y="157.60"/>
<use href="#od" x="312.77" y="157.40"/>
<use href="#od" x="313.37" y="157.19"/>
<use href="#od" x="313.97" y="156.99"/>
<use href="#od" x="314.57" y="156.79"/>
<use href="#od" x="315.18" y="156.58"/>
<use href="#od" x="315.78" y="156.38"/>
<use href="#od" x="316.38" y="156.18"/>
<use href="#od" x="316.99" y="155.97"/>
<use href="#od" x="317.59" y="155.77"/>
<use href="#od" x="318.19" y="155.57"/>
<use href="#od" x="318.79" y="155.36"/>
<use href="#od" x="319.40" y="155.16"/>
<use href="#od" x="320.00" y="154.95"/>
<use href="#od" x="320.60" y="154.75"/>
<use href="#od" x="321.20" y="154.54"/>
<use href="#od" x="321.81" y="154.34"/>
<use href="#od" x="322.41" y="154.13"/>
<use href="#od" x="323.01" y="153.93"/>
<use href="#od" x="323.61" y="153.72"/>
<use href="#od" x="324.22" y="153.52"/>
<use href="#od" x="324.82" y="153.31"/>
<use href="#od" x="325.42" y="153.11"/>
<use href="#od" x="326.02" y="152.90"/>
<use href="#od" x="326.62" y="152.70"/>
<use href="#od" x="327.23" y="152.49"/>
<use href="#od" x="327.83" y="152.29"/>
<use href="#od" x="328.43" y="152.08"/>
<use href="#od" x="329.04" y="151.88"/>
<use href="#od" x="329.64" y="151.67"/>
<use href="#od" x="330.24" y="151.46"/>
<use href="#od" x="330.84" y="151.26"/>
<use href="#od" x="331.44" y="151.05"/>
<use href="#od" x="332.05" y="150.84"/>
<use href="#od" x="332.65" y="150.64"/>
<use href="#od" x="333.25" y="150.43"/>
<use href="#od" x="333.86" y="150.22"/>
<use href="#od" x="334.46" y="150.02"/>
<use href="#od" x="335.06" y="149.81"/>
<use href="#od" x="335.66" y="149.60"/>
<use href="#od" x="336.27" y="149.39"/>
<use href="#od" x="336.87" y="149.19"/>
<use href="#od" x="337.47" y="148.98"/>
<use href="#od" x="338.07" y="148.77"/>
<use href="#od" x="338.68" y="148.56"/>
<use href="#od" x="339.28" y="148.35"/>
<use href="#od" x="339.88" y="148.15"/>
<use href="#od" x="340.48" y="147.94"/>
<use href="#od" x="341.09" y="147.73"/>
<use href="#od" x="341.69" y="147.52"/>
<use href="#od" x="342.29" y="147.31"/>
<use href="#od" x="342.89" y="147.10"/>
<use href="#od" x="343.50" y="146.89"/>
<use href="#od" x="344.10" y="146.68"/>
<use href="#od" x="344.70" y="146.47"/>
<use href="#od" x="345.30" y="146.26"/>
<use href="#od" x="345.91" y="146.05"/>
<use href="#od" x="346.51" y="145.84"/>
<use href="#od" x="347.11" y="145.63"/>
<use href="#od" x="347.71" y="145.42"/>
<use href="#od" x="348.31" y="145.21"/>
<use href="#od" x="348.92" y="145.00"/>
<use href="#od" x="349.52" y="144.79"/>
<use href="#od" x="350.12" y="144.57"/>
<use href="#od" x="350.73" y="144.36"/>
<use href="#od" x="351.33" y="144.15"/>
<use href="#od" x="351.93" y="143.94"/>
<use href="#od" x="352.53" y="143.73"/>
<use href="#od" x="353.13" y="143.51"/>
<use href="#od" x="353.74" y="143.30"/>
<use href="#od" x="354.34" y="143.09"/>
<use href="#od" x="354.94" y="142.87"/>
<use href="#od" x="355.55" y="142.66"/>
<use href="#od" x="356.15" y="142.45"/>
<use href="#od" x="356.75" y="142.23"/>
<use href="#od" x="357.35" y="142.02"/>
<use href="#od" x="357.96" y="141.80"/>
<use href="#od" x="358.56" y="141.59"/>
<use href="#od" x="359.16" y="141.37"/>
<use href="#od" x="359.76" y="141.16"/>
<use href="#od" x="360.37" y="140.94"/>
<use href="#od" x="360.97" y="140.73"/>
<use href="#od" x="361.57" y="140.51"/>
<use href="#od" x="362.17" y="140.30"/>
<use href="#od" x="362.78" y="140.08"/>
<use href="#od" x="363.38" y="139.86"/>
<use href="#od" x="363.98" y="139.65"/>
<use href="#od" x="364.58" y="139.43"/>
<use href="#od" x="365.19" y="139.21"/>
<use href="#od" x="365.79" y="138.99"/>
<use href="#od" x="366.39" y="138.78"/>
<use href="#od" x="366.99" y="138.56"/>
<use href="#od" x="367.60" y="138.34"/>
<use href="#od" x="368.20" y="138.12"/>
<use href="#od" x="368.80" y="137.90"/>
<use href="#od" x="369.40" y="137.68"/>
<use href="#od" x="370.00" y="137.46"/>
<use href="#od" x="370.61" y="137.24"/>
<use href="#od" x="371.21" y="137.02"/>
<use href="#od" x="371.81" y="136.80"/>
<use href="#od" x="372.42" y="136.58"/>
<use href="#od" x="373.02" y="136.36"/>
<use href="#od" x="373.62" y="136.14"/>
<use href="#od" x="374.22" y="135.92"/>
<use href="#od" x="374.83" y="135.70"/>
<use href="#od" x="375.43" y="135.47"/>
<use href="#od" x="376.03" y="135.25"/>
<use href="#od" x="376.63" y="135.03"/>
<use href="#od" x="377.24" y="134.81"/>
<use href="#od" x="377.84" y="134.58"/>
<use href="#od" x="378.44" y="134.36"/>
<use href="#od" x="379.04" y="134.14"/>
<use href="#od" x="379.65" y="133.91"/>
<use href="#od" x="380.25" y="133.69"/>
<use href="#od" x="380.85" y="133.46"/>
<use href="#od" x="381.45" y="133.24"/>
<use href="#od" x="382.06" y="133.01"/>
<use href="#od" x="382.66" y="132.79"/>
<use href="#od" x="383.26" y="132.56"/>
<use href="#od" x="383.86" y="132.33"/>
<use href="#od" x="384.47" y="132.11"/>
<use href="#od" x="385.07" y="131.88"/>
<use href="#od" x="385.67" y="131.65"/>
<use href="#od" x="386.27" y="131.42"/>
<use href="#od" x="386.88" y="131.20"/>
<use href="#od" x="387.48" y="130.97"/>
<use href="#od" x="388.08" y="130.74"/>
<use href="#od" x="388.68" y="130.51"/>
<use href="#od" x="389.29" y="130.28"/>
<use href="#od" x="389.89" y="130.05"/>
<use href="#od" x="390.49" y="129.82"/>
<use href="#od" x="391.09" y="129.59"/>
<use href="#od" x="391.69" y="129.36"/>
<use href="#od" x="392.30" y="129.13"/>
<use href="#od" x="392.90" y="128.90"/>
<use href="#od" x="393.50" y="128.66"/>
<use href="#od" x="394.11" y="128.43"/>
<use href="#od" x="394.71" y="128.20"/>
<use href="#od" x="395.31" y="127.97"/>
<use href="#od" x="395.91" y="127.73"/>
<use href="#od" x="396.52" y="127.50"/>
<use href="#od" x="397.12" y="127.26"/>
<use href="#od" x="397.72" y="127.03"/>
<use href="#od" x="398.32" y="126.80"/>
<use href="#od" x="398.93" y="126.56"/>
<use href="#od" x="399.53" y="126.32"/>
<use href="#od" x="400.13" y="126.09"/>
<use href="#od" x="400.73" y="125.85"/>
<use href="#od" x="401.34" y="125.62"/>
<use href="#od" x="401.94" y="125.38"/>
<use href="#od" x="402.54" y="125.14"/>
<use href="#od" x="403.14" y="124.90"/>
<use href="#od" x="403.75" y="124.66"/>
<use href="#od" x="404.35" y="124.43"/>
<use href="#od" x="404.95" y="124.19"/>
<use href="#od" x="405.55" y="123.95"/>
<use href="#od" x="406.16" y="123.71"/>
<use href="#od" x="406.76" y="123.47"/>
<use href="#od" x="407.36" y="123.22"/>
<use href="#od" x="407.96" y="122.98"/>
<use href="#od" x="408.56" y="122.74"/>
<use href="#od" x="409.17" y="122.50"/>
<use href="#od" x="409.77" y="122.26"/>
<use href="#od" x="410.37" y="122.01"/>
<use href="#od" x="410.98" y="121.77"/>
<use href="#od" x="411.58" y="121.53"/>
<use href="#od" x="412.18" y="121.28"/>
<use href="#od" x="412.78" y="121.04"/>
<use href="#od" x="413.39" y="120.79"/>
<use href="#od" x="413.99" y="120.55"/>
<use href="#od" x="414.59" y="120.30"/>
<use href="#od" x="415.19" y="120.06"/>
<use href="#od" x="415.80" y="119.81"/>
<use href="#od" x="416.40" y="119.56"/>
<use href="#od" x="417.00" y="119.31"/>
<use href="#od" x="417.60" y="119.06"/>
<use href="#od" x="418.21" y="118.82"/>
<use href="#od" x="418.81" y="118.57"/>
<use href="#od" x="419.41" y="118.32"/>
<use href="#od" x="420.01" y="118.07"/>
<use href="#od" x="420.62" y="117.82"/>
<use href="#od" x="421.22" y="117.57"/>
<use href="#od" x="421.82" y="117.31"/>
<use href="#od" x="422.42" y="117.06"/>
<use href="#od" x="423.03" y="116.81"/>
<use href="#od" x="423.63" y="116.56"/>
<use href="#od" x="424.23" y="116.30"/>
<use href="#od" x="424.83" y="116.05"/>
<use href="#od" x="425.44" y="115.80"/>
<use href="#od" x="426.04" y="115.54"/>
<use href="#od" x="426.64" y="115.29"/>
<use href="#od" x="427.24" y="115.03"/>
<use href="#od" x="427.85" y="114.77"/>
<use href="#od" x="428.45" y="114.52"/>
<use href="#od" x="429.05" y="114.26"/>
<use href="#od" x="429.65" y="114.00"/>
<use href="#od" x="430.25" y="113.74"/>
<use href="#od" x="430.86" y="113.48"/>
<use href="#od" x="431.46" y="113.22"/>
<use href="#od" x="432.06" y="112.96"/>
<use href="#od" x="432.67" y="112.70"/>
<use href="#od" x="433.27" y="112.44"/>
<use href="#od" x="433.87" y="112.18"/>
<use href="#od" x="434.47" y="111.92"/>
<use href="#od" x="435.08" y="111.66"/>
<use href="#od" x="435.68" y="111.40"/>
<use href="#od" x="436.28" y="111.13"/>
<use href="#od" x="436.88" y="110.87"/>
<use href="#od" x="437.49" y="110.60"/>
<use href="#od" x="438.09" y="110.34"/>
<use href="#od" x="438.69" y="110.07"/>
<use href="#od" x="439.29" y="109.81"/>
<use href="#od" x="439.90" y="109.54"/>
<use href="#od" x="440.50" y="109.27"/>
<use href="#od" x="441.10" y="109.00"/>
<use href="#od" x="441.70" y="108.74"/>
<use href="#od" x="442.31" y="108.47"/>
<use href="#od" x="442.91" y="108.20"/>
<use href="#od" x="443.51" y="107.93"/>
<use href="#od" x="444.11" y="107.66"/>
<use href="#od" x="444.72" y="107.39"/>
<use href="#od" x="445.32" y="107.12"/>
<use href="#od" x="445.92" y="106.85"/>
<use href="#od" x="446.52" y="106.57"/>
<use href="#od" x="447.12" y="106.30"/>
<use href="#od" x="447.73" y="106.03"/>
<use href="#od" x="448.33" y="105.76"/>
<use href="#od" x="448.93" y="105.48"/>
<use href="#od" x="449.54" y="105.21"/>
<use href="#od" x="450.14" y="104.93"/>
<use href="#od" x="450.74" y="104.66"/>
<use href="#od" x="451.34" y="104.38"/>
<use href="#od" x="451.95" y="104.10"/>
<use href="#od" x="452.55" y="103.83"/>
<use href="#od" x="453.15" y="103.55"/>
<use href="#od" x="453.75" y="103.27"/>
<use href="#od" x="454.36" y="102.99"/>
<use href="#od" x="454.96" y="102.72"/>
<use href="#od" x="455.56" y="102.44"/>
<use href="#od" x="456.16" y="102.16"/>
<use href="#od" x="456.77" y="101.88"/>
<use href="#od" x="457.37" y="101.60"/>
<use href="#od" x="457.97" y="101.31"/>
<use href="#od" x="458.57" y="101.03"/>
<use href="#od" x="459.18" y="100.75"/>
<use href="#od" x="459.78" y="100.47"/>
<use href="#od" x="460.38" y="100.18"/>
<use href="#od" x="460.98" y="99.90"/>
<use href="#od" x="461.59" y="99.61"/>
<use href="#od" x="462.19" y="99.33"/>
<use href="#od" x="462.79" y="99.04"/>
<use href="#od" x="463.39" y="98.76"/>
<use href="#od" x="464.00" y="98.47"/>
<use href="#od" x="464.60" y="98.18"/>
<use href="#od" x="465.20" y="97.90"/>
<use href="#od" x="465.80" y="97.61"/>
<use href="#od" x="466.41" y="97.32"/>
<use href="#od" x="467.01" y="97.03"/>
<use href="#od" x="467.61" y="96.74"/>
<use href="#od" x="468.21" y="96.45"/>
<use href="#od" x="468.81" y="96.16"/>
<use href="#od" x="469.42" y="95.87"/>
<use href="#od" x="470.02" y="95.58"/>
<use href="#od" x="470.62" y="95.28"/>
<use href="#od" x="471.23" y="94.99"/>
<use href="#od" x="471.83" y="94.70"/>
<use href="#od" x="472.43" y="94.40"/>
<use href="#od" x="473.03" y="94.11"/>
<use href="#od" x="473.64" y="93.81"/>
<use href="#od" x="474.24" y="93.52"/>
<use href="#od" x="474.84" y="93.22"/>
<use href="#od" x="475.44" y="92.92"/>
<use href="#od" x="476.05" y="92.62"/>
<use href="#od" x="476.65" y="92.33"/>
<use href="#od" x="477.25" y="92.03"/>
<use href="#od" x="477.85" y="91.73"/>
<use href="#od" x="478.46" y="91.43"/>
<use href="#od" x="479.06" y="91.13"/>
<use href="#od" x="479.66" y="90.83"/>
<use href="#od" x="480.26" y="90.52"/>
<use href="#od" x="480.87" y="90.22"/>
<use href="#od" x="481.47" y="89.92"/>
<use href="#od" x="482.07" y="89.61"/>
<use href="#od" x="482.67" y="89.31"/>
<use href="#od" x="483.28" y="89.01"/>
<use href="#od" x="483.88" y="88.70"/>
<use href="#od" x="484.48" y="88.39"/>
<use href="#od" x="485.08" y="88.09"/>
<use href="#od" x="485.69" y="87.78"/>
<use href="#od" x="486.29" y="87.47"/>
<use href="#od" x="486.89" y="87.17"/>
<use href="#od" x="487.49" y="86.86"/>
<use href="#od" x="488.10" y="86.55"/>
<use href="#od" x="488.70" y="86.24"/>
<use href="#od" x="489.30" y="85.93"/>
<use href="#od" x="489.90" y="85.61"/>
<use href="#od" x="490.51" y="85.30"/>
<use href="#od" x="491.11" y="84.99"/>
<use href="#od" x="491.71" y="84.68"/>
<use href="#od" x="492.31" y="84.36"/>
<use href="#od" x="492.92" y="84.05"/>
<use href="#od" x="493.52" y="83.73"/>
<use href="#od" x="494.12" y="83.42"/>
<use href="#od" x="494.72" y="83.10"/>
<use href="#od" x="495.33" y="82.78"/>
<use href="#od" x="495.93" y="82.47"/>
<use href="#od" x="496.53" y="82.15"/>
<use href="#od" x="497.13" y="81.83"/>
<use href="#od" x="497.74" y="81.51"/>
<use href="#od" x="498.34" y="81.19"/>
<use href="#od" x="498.94" y="80.87"/>
<use href="#od" x="499.54" y="80.55"/>
<use href="#od" x="500.15" y="80.22"/>
<use href="#od" x="500.75" y="79.90"/>
<use href="#od" x="501.35" y="79.58"/>
<use href="#od" x="501.95" y="79.25"/>
<use href="#od" x="502.56" y="78.93"/>
<use href="#od" x="503.16" y="78.60"/>
<use href="#od" x="503.76" y="78.28"/>
<use href="#od" x="504.36" y="77.95"/>
<use href="#od" x="504.97" y="77.62"/>
<use href="#od" x="505.57" y="77.29"/>
<use href="#od" x="506.17" y="76.96"/>
<use href="#od" x="506.77" y="76.64"/>
<use href="#od" x="507.38" y="76.30"/>
<use href="#od" x="507.98" y="75.97"/>
<use href="#od" x="508.58" y="75.64"/>
<use href="#od" x="509.18" y="75.31"/>
<use href="#od" x="509.79" y="74.98"/>
<use href="#od" x="510.39" y="74.64"/>
<use href="#od" x="510.99" y="74.31"/>
<use href="#od" x="511.59" y="73.97"/>
<use href="#od" x="512.20" y="73.64"/>
<use href="#od" x="512.80" y="73.30"/>
<use href="#od" x="513.40" y="72.96"/>
<use href="#od" x="514.00" y="72.63"/>
<use href="#od" x="514.61" y="72.29"/>
<use href="#od" x="515.21" y="71.95"/>
<use href="#od" x="515.81" y="71.61"/>
<use href="#od" x="516.41" y="71.27"/>
<use href="#od" x="517.02" y="70.93"/>
<use href="#od" x="517.62" y="70.58"/>
<use href="#od" x="518.22" y="70.24"/>
<use href="#od" x="518.82" y="69.90"/>
<use href="#od" x="519.42" y="69.55"/>
<use href="#od" x="520.03" y="69.21"/>
<use href="#od" x="520.63" y="68.86"/>
<use href="#od" x="521.23" y="68.51"/>
<use href="#od" x="521.84" y="68.17"/>
<use href="#od" x="522.44" y="67.82"/>
<use href="#od" x="523.04" y="67.47"/>
<use href="#od" x="523.64" y="67.12"/>
<use href="#od" x="524.25" y="66.77"/>
<use href="#od" x="524.85" y="66.42"/>
<use href="#od" x="525.45" y="66.07"/>
<use href="#od" x="526.05" y="65.71"/>
<use href="#od" x="526.65" y="65.36"/>
<use href="#od" x="527.26" y="65.01"/>
<use href="#od" x="527.86" y="64.65"/>
<use href="#od" x="528.46" y="64.30"/>
<use href="#od" x="529.07" y="63.94"/>
<use href="#od" x="529.67" y="63.58"/>
<use href="#od" x="530.27" y="63.23"/>
<use href="#od" x="530.87" y="62.87"/>
<use href="#od" x="531.48" y="62.51"/>
<use href="#od" x="532.08" y="62.15"/>
<use href="#od" x="532.68" y="61.79"/>
<use href="#od" x="533.28" y="61.42"/>
<use href="#od" x="533.88" y="61.06"/>
<use href="#od" x="534.49" y="60.70"/>
<use href="#od" x="535.09" y="60.33"/>
<use href="#od" x="535.69" y="59.97"/>
<use href="#od" x="536.30" y="59.60"/>
<use href="#od" x="536.90" y="59.24"/>
<use href="#od" x="537.50" y="58.87"/>
<use href="#od" x="538.10" y="58.50"/>
<use href="#od" x="538.71" y="58.13"/>
<use href="#od" x="539.31" y="57.76"/>
<use href="#od" x="539.91" y="57.39"/>
<use href="#od" x="540.51" y="57.02"/>
<use href="#od" x="541.12" y="56.65"/>
<use href="#od" x="541.72" y="56.27"/>
<use href="#od" x="542.32" y="55.90"/>
<use href="#od" x="542.92" y="55.52"/>
<use href="#od" x="543.53" y="55.15"/>
<use href="#od" x="544.13" y="54.77"/>
<use href="#od" x="544.73" y="54.39"/>
<use href="#od" x="545.33" y="54.01"/>
<use href="#od" x="545.93" y="53.64"/>
<use href="#od" x="546.54" y="53.25"/>
<use href="#od" x="547.14" y="52.87"/>
<use href="#od" x="547.74" y="52.49"/>
<use href="#od" x="548.35" y="52.11"/>
<use href="#od" x="548.95" y="51.72"/>
<use href="#od" x="549.55" y="51.34"/>
<use href="#od" x="550.15" y="50.95"/>
<use href="#od" x="550.76" y="50.57"/>
<use href="#od" x="551.36" y="50.18"/>
<use href="#od" x="551.96" y="49.79"/>
<use href="#od" x="552.56" y="49.40"/>
<use href="#od" x="553.16" y="49.01"/>
<use href="#od" x="553.77" y="48.62"/>
<use href="#od" x="554.37" y="48.23"/>
<use href="#od" x="554.97" y="47.83"/>
<use href="#od" x="555.58" y="47.44"/>
<use href="#od" x="556.18" y="47.04"/>
<use href="#od" x="556.78" y="46.65"/>
<use href="#od" x="557.38" y="46.25"/>
<use href="#od" x="557.99" y="45.85"/>
<use href="#od" x="558.59" y="45.45"/>
<use href="#od" x="559.19" y="45.05"/>
<use href="#od" x="559.79" y="44.65"/>
<use href="#od" x="560.39" y="44.25"/>
<use href="#od" x="561.00" y="43.84"/>
<use href="#od" x="561.60" y="43.44"/>
<use href="#od" x="562.20" y="43.03"/>
<use href="#od" x="562.81" y="42.63"/>
<use href="#od" x="563.41" y="42.22"/>
<use href="#od" x="564.01" y="41.81"/>
<use href="#od" x="564.61" y="41.40"/>
<use href="#od" x="565.22" y="40.99"/>
<use href="#od" x="565.82" y="40.58"/>
<use href="#od" x="566.42" y="40.17"/>
<use href="#od" x="567.02" y="39.76"/>
<use href="#od" x="567.62" y="39.34"/>
<use href="#od" x="568.23" y="38.93"/>
<use href="#od" x="568.83" y="38.51"/>
<use href="#od" x="569.43" y="38.09"/>
<use href="#od" x="570.04" y="37.68"/>
<use href="#od" x="570.64" y="37.26"/>
<use href="#od" x="571.24" y="36.84"/>
<use href="#od" x="571.84" y="36.41"/>
<use href="#od" x="572.45" y="35.99"/>
<use href="#od" x="573.05" y="35.57"/>
<use href="#od" x="573.65" y="35.14"/>
<use href="#od" x="574.25" y="34.72"/>
<use href="#od" x="574.86" y="34.29"/>
<use href="#od" x="575.46" y="33.86"/>
<use href="#od" x="576.06" y="33.43"/>
<use href="#od" x="576.66" y="33.00"/>
<use href="#od" x="577.26" y="32.57"/>
<use href="#od" x="577.87" y="32.14"/>
<use href="#od" x="578.47" y="31.71"/>
<use href="#od" x="579.07" y="31.27"/>
<use href="#od" x="579.68" y="30.84"/>
<use href="#od" x="580.28" y="30.40"/>
<use href="#od" x="580.88" y="29.96"/>
<use href="#od" x="581.48" y="29.52"/>
<use href="#od" x="582.09" y="29.08"/>
<use href="#od" x="582.69" y="28.64"/>
<use href="#od" x="583.29" y="28.20"/>
<use href="#od" x="583.89" y="27.76"/>
<use href="#od" x="584.50" y="27.31"/>
<use href="#od" x="585.10" y="26.87"/>
<use href="#od" x="585.70" y="26.42"/>
<use href="#od" x="586.30" y="25.97"/>
<use href="#od" x="586.91" y="25.51"/>
<use href="#od" x="587.51" y="25.04"/>
<use href="#od" x="588.11" y="24.57"/>
<use href="#od" x="588.71" y="24.10"/>
<use href="#od" x="589.32" y="23.63"/>
<use href="#od" x="589.92" y="23.15"/>
<use href="#od" x="590.52" y="22.66"/>
<use href="#od" x="591.12" y="22.18"/>
<use href="#od" x="591.73" y="21.69"/>
<use href="#od" x="592.33" y="21.20"/>
<use href="#od" x="592.93" y="20.70"/>
<use href="#od" x="593.53" y="20.20"/>
<use href="#od" x="594.13" y="19.70"/>
<use href="#od" x="594.74" y="19.20"/>
<use href="#od" x="595.34" y="18.70"/>
<use href="#od" x="595.94" y="18.19"/>
<use href="#od" x="596.55" y="17.68"/>
<use href="#od" x="597.15" y="17.18"/>
<use href="#od" x="597.75" y="16.67"/>
<use href="#od" x="598.35" y="16.16"/>
<use href="#od" x="598.96" y="15.64"/>
<use href="#od" x="599.56" y="15.13"/>
<use href="#od" x="600.16" y="14.62"/>
<use href="#od" x="600.76" y="14.11"/>
<use href="#od" x="601.37" y="13.59"/>
<use href="#od" x="601.97" y="13.07"/>
<use href="#od" x="602.57" y="12.55"/>
<use href="#od" x="603.17" y="12.02"/>
<use href="#od" x="603.77" y="11.49"/>
<use href="#od" x="604.38" y="10.96"/>
<use href="#od" x="604.98" y="10.42"/>
<use href="#od" x="605.58" y="9.89"/>
<use href="#od" x="606.19" y="9.35"/>
<use href="#od" x="606.79" y="8.81"/>
<use href="#od" x="607.39" y="8.26"/>
<use href="#od" x="607.99" y="7.72"/>
<use href="#od" x="608.60" y="7.17"/>
<use href="#od" x="609.20" y="6.62"/>
<use href="#md" x="55.50" y="302.20"/>
<use href="#md" x="57.28" y="289.03"/>
<use href="#md" x="57.77" y="285.20"/>
<use href="#md" x="58.27" y="282.45"/>
<use href="#md" x="58.78" y="280.22"/>
<use href="#md" x="59.30" y="278.33"/>
<use href="#md" x="59.83" y="276.66"/>
<use href="#md" x="60.36" y="275.15"/>
<use href="#md" x="60.90" y="273.77"/>
<use href="#md" x="61.45" y="272.49"/>
<use href="#md" x="62.00" y="271.30"/>
<use href="#md" x="62.56" y="270.18"/>
<use href="#md" x="63.12" y="269.12"/>
<use href="#md" x="63.69" y="268.11"/>
<use href="#md" x="64.26" y="267.15"/>
<use href="#md" x="64.83" y="266.24"/>
<use href="#md" x="65.40" y="265.35"/>
<use href="#md" x="65.98" y="264.50"/>
<use href="#md" x="66.56" y="263.68"/>
<use href="#md" x="67.14" y="262.89"/>
<use href="#md" x="67.73" y="262.12"/>
<use href="#hd" x="68.31" y="261.38"/>
<use href="#md" x="68.90" y="260.66"/>
<use href="#md" x="69.49" y="259.95"/>
<use href="#hd" x="70.08" y="259.27"/>
<use href="#md" x="70.67" y="258.60"/>
<use href="#md" x="71.26" y="257.94"/>
<use href="#hd" x="71.85" y="257.31"/>
<use href="#md" x="72.45" y="256.68"/>
<use href="#md" x="73.04" y="256.07"/>
<use href="#hd" x="73.64" y="255.47"/>
<use href="#md" x="74.24" y="254.88"/>
<use href="#md" x="74.83" y="254.31"/>
<use href="#hd" x="75.43" y="253.74"/>
<use href="#md" x="76.03" y="253.19"/>
<use href="#md" x="76.63" y="252.64"/>
<use href="#hd" x="77.23" y="252.11"/>
<use href="#md" x="77.82" y="251.58"/>
<use href="#md" x="78.42" y="251.06"/>
<use href="#hd" x="79.02" y="250.55"/>
<use href="#md" x="79.62" y="250.04"/>
<use href="#md" x="80.22" y="249.55"/>
<use href="#hd" x="80.82" y="249.06"/>
<use href="#md" x="81.43" y="248.57"/>
<use href="#md" x="82.03" y="248.10"/>
<use href="#hd" x="82.63" y="247.63"/>
<use href="#md" x="83.23" y="247.16"/>
<use href="#md" x="83.83" y="246.70"/>
<use href="#hd" x="84.43" y="246.25"/>
<use href="#md" x="85.03" y="245.80"/>
<use href="#md" x="85.63" y="245.36"/>
<use href="#hd" x="86.24" y="244.92"/>
<use href="#md" x="86.84" y="244.49"/>
<use href="#md" x="87.44" y="244.06"/>
<use href="#hd" x="88.04" y="243.64"/>
<use href="#md" x="88.64" y="243.22"/>
<use href="#md" x="89.24" y="242.81"/>
<use href="#hd" x="89.85" y="242.40"/>
<use href="#md" x="90.45" y="241.99"/>
<use href="#md" x="91.05" y="241.59"/>
<use href="#hd" x="91.65" y="241.19"/>
<use href="#md" x="92.26" y="240.80"/>
<use href="#md" x="92.86" y="240.41"/>
<use href="#hd" x="93.46" y="240.02"/>
<use href="#md" x="94.06" y="239.64"/>
<use href="#md" x="94.66" y="239.25"/>
<use href="#hd" x="95.27" y="238.88"/>
<use href="#md" x="95.87" y="238.50"/>
<use href="#md" x="96.47" y="238.13"/>
<use href="#hd" x="97.07" y="237.76"/>
<use href="#md" x="97.68" y="237.40"/>
<use href="#md" x="98.28" y="237.04"/>
<use href="#hd" x="98.88" y="236.68"/>
<use href="#md" x="99.48" y="236.32"/>
<use href="#md" x="100.09" y="235.96"/>
<use href="#hd" x="100.69" y="235.61"/>
<use href="#md" x="101.29" y="235.26"/>
<use href="#md" x="101.89" y="234.92"/>
<use href="#hd" x="102.50" y="234.58"/>
<use href="#md" x="103.10" y="234.23"/>
<use href="#md" x="103.70" y="233.90"/>
<use href="#hd" x="104.30" y="233.56"/>
<use href="#md" x="104.91" y="233.23"/>
<use href="#md" x="105.51" y="232.90"/>
<use href="#hd" x="106.11" y="232.57"/>
<use href="#md" x="106.71" y="232.24"/>
<use href="#md" x="107.32" y="231.92"/>
<use href="#hd" x="107.92" y="231.59"/>
<use href="#md" x="108.52" y="231.27"/>
<use href="#md" x="109.12" y="230.95"/>
<use href="#hd" x="109.73" y="230.64"/>
<use href="#md" x="110.33" y="230.33"/>
<use href="#md" x="110.93" y="230.01"/>
<use href="#hd" x="111.53" y="229.70"/>
<use href="#md" x="112.14" y="229.39"/>
<use href="#md" x="112.74" y="229.09"/>
<use href="#hd" x="113.34" y="228.78"/>
<use href="#md" x="113.94" y="228.48"/>
<use href="#md" x="114.55" y="228.18"/>
<use href="#hd" x="115.15" y="227.88"/>
<use href="#md" x="115.75" y="227.58"/>
<use href="#md" x="116.35" y="227.29"/>
<use href="#hd" x="116.96" y="226.99"/>
<use href="#md" x="117.56" y="226.70"/>
<use href="#md" x="118.16" y="226.41"/>
<use href="#hd" x="118.76" y="226.12"/>
<use href="#md" x="119.37" y="225.83"/>
<use href="#md" x="119.97" y="225.55"/>
<use href="#hd" x="120.57" y="225.26"/>
<use href="#md" x="121.17" y="224.98"/>
<use href="#md" x="121.78" y="224.70"/>
<use href="#hd" x="122.38" y="224.42"/>
<use href="#md" x="122.98" y="224.14"/>
<use href="#md" x="123.58" y="223.86"/>
<use href="#hd" x="124.19" y="223.58"/>
<use href="#md" x="124.79" y="223.31"/>
<use href="#md" x="125.39" y="223.04"/>
<use href="#hd" x="125.99" y="222.76"/>
<use href="#md" x="126.60" y="222.49"/>
<use href="#md" x="127.20" y="222.22"/>
<use href="#hd" x="127.80" y="221.95"/>
<use href="#md" x="128.40" y="221.69"/>
<use href="#md" x="129.01" y="221.42"/>
<use href="#hd" x="129.61" y="221.15"/>
<use href="#md" x="130.21" y="220.89"/>
<use href="#md" x="130.81" y="220.63"/>
<use href="#hd" x="131.42" y="220.37"/>
<use href="#md" x="132.02" y="220.11"/>
<use href="#md" x="132.62" y="219.85"/>
<use href="#hd" x="133.22" y="219.59"/>
<use href="#md" x="133.83" y="219.33"/>
<use href="#md" x="134.43" y="219.07"/>
<use href="#hd" x="135.03" y="218.82"/>
<use href="#md" x="135.63" y="218.56"/>
<use href="#md" x="136.24" y="218.31"/>
<use href="#hd" x="136.84" y="218.06"/>
<use href="#md" x="137.44" y="217.81"/>
<use href="#md" x="138.04" y="217.56"/>
<use href="#hd" x="138.65" y="217.31"/>
<use href="#md" x="139.25" y="217.06"/>
<use href="#md" x="139.85" y="216.81"/>
<use href="#hd" x="140.45" y="216.56"/>
<use href="#md" x="141.06" y="216.32"/>
<use href="#md" x="141.66" y="216.07"/>
<use href="#hd" x="142.26" y="215.83"/>
<use href="#md" x="142.86" y="215.58"/>
<use href="#md" x="143.47" y="215.34"/>
<use href="#hd" x="144.07" y="215.10"/>
<use href="#md" x="144.67" y="214.86"/>
<use href="#md" x="145.27" y="214.62"/>
<use href="#hd" x="145.88" y="214.38"/>
<use href="#md" x="146.48" y="214.14"/>
<use href="#md" x="147.08" y="213.90"/>
<use href="#hd" x="147.68" y="213.66"/>
<use href="#md" x="148.29" y="213.42"/>
<use href="#md" x="148.89" y="213.19"/>
<use href="#hd" x="149.49" y="212.95"/>
<use href="#md" x="150.09" y="212.72"/>
<use href="#md" x="150.70" y="212.48"/>
<use href="#hd" x="151.30" y="212.25"/>
<use href="#md" x="151.90" y="212.02"/>
<use href="#md" x="152.50" y="211.79"/>
<use href="#hd" x="153.11" y="211.56"/>
<use href="#md" x="153.71" y="211.32"/>
<use href="#md" x="154.31" y="211.09"/>
<use href="#hd" x="154.91" y="210.87"/>
<use href="#md" x="155.52" y="210.64"/>
<use href="#md" x="156.12" y="210.41"/>
<use href="#hd" x="156.72" y="210.18"/>
<use href="#md" x="157.32" y="209.95"/>
<use href="#md" x="157.93" y="209.73"/>
<use href="#hd" x="158.53" y="209.50"/>
<use href="#md" x="159.13" y="209.27"/>
<use href="#md" x="159.73" y="209.05"/>
<use href="#hd" x="160.34" y="208.83"/>
<use href="#md" x="160.94" y="208.60"/>
<use href="#md" x="161.54" y="208.38"/>
<use href="#hd" x="162.14" y="208.15"/>
<use href="#md" x="162.75" y="207.93"/>
<use href="#md" x="163.35" y="207.71"/>
<use href="#hd" x="163.95" y="207.49"/>
<use href="#md" x="164.55" y="207.27"/>
<use href="#md" x="165.16" y="207.05"/>
<use href="#hd" x="165.76" y="206.83"/>
<use href="#md" x="166.36" y="206.61"/>
<use href="#md" x="166.96" y="206.39"/>
<use href="#hd" x="167.57" y="206.17"/>
<use href="#md" x="168.17" y="205.95"/>
<use href="#md" x="168.77" y="205.73"/>
<use href="#hd" x="169.37" y="205.51"/>
<use href="#md" x="169.98" y="205.30"/>
<use href="#md" x="170.58" y="205.08"/>
<use href="#hd" x="171.18" y="204.86"/>
<use href="#md" x="171.78" y="204.65"/>
<use href="#md" x="172.39" y="204.43"/>
<use href="#hd" x="172.99" y="204.21"/>
<use href="#md" x="173.59" y="204.00"/>
<use href="#md" x="174.19" y="203.78"/>
<use href="#hd" x="174.80" y="203.57"/>
<use href="#md" x="175.40" y="203.36"/>
<use href="#md" x="176.00" y="203.14"/>
<use href="#hd" x="176.60" y="202.93"/>
<use href="#md" x="177.21" y="202.72"/>
<use href="#md" x="177.81" y="202.50"/>
<use href="#hd" x="178.41" y="202.29"/>
<use href="#md" x="179.01" y="202.08"/>
<use href="#md" x="179.62" y="201.87"/>
<use href="#hd" x="180.22" y="201.65"/>
<use href="#md" x="180.82" y="201.44"/>
<use href="#md" x="181.42" y="201.23"/>
<use href="#hd" x="182.03" y="201.02"/>
<use href="#md" x="182.63" y="200.81"/>
<use href="#md" x="183.23" y="200.60"/>
<use href="#hd" x="183.83" y="200.39"/>
<use href="#md" x="184.44" y="200.18"/>
<use href="#md" x="185.04" y="199.97"/>
<use href="#hd" x="185.64" y="199.76"/>
<use href="#md" x="186.24" y="199.55"/>
<use href="#md" x="186.85" y="199.34"/>
<use href="#hd" x="187.45" y="199.13"/>
<use href="#md" x="188.05" y="198.92"/>
<use href="#md" x="188.65" y="198.71"/>
<use href="#hd" x="189.26" y="198.50"/>
<use href="#md" x="189.86" y="198.29"/>
<use href="#md" x="190.46" y="198.09"/>
<use href="#hd" x="191.06" y="197.88"/>
<use href="#md" x="191.67" y="197.67"/>
<use href="#md" x="192.27" y="197.46"/>
<use href="#hd" x="192.87" y="197.25"/>
<use href="#md" x="193.47" y="197.05"/>
<use href="#md" x="194.08" y="196.84"/>
<use href="#hd" x="194.68" y="196.63"/>
<use href="#md" x="195.28" y="196.43"/>
<use href="#md" x="195.88" y="196.22"/>
<use href="#hd" x="196.49" y="196.01"/>
<use href="#md" x="197.09" y="195.80"/>
<use href="#md" x="197.69" y="195.60"/>
<use href="#hd" x="198.29" y="195.39"/>
<use href="#md" x="198.90" y="195.18"/>
<use href="#md" x="199.50" y="194.98"/>
<use href="#hd" x="200.10" y="194.77"/>
<use href="#md" x="200.70" y="194.57"/>
<use href="#md" x="201.31" y="194.36"/>
<use href="#hd" x="201.91" y="194.15"/>
<use href="#md" x="202.51" y="193.95"/>
<use href="#md" x="203.11" y="193.74"/>
<use href="#hd" x="203.72" y="193.54"/>
<use href="#md" x="204.32" y="193.33"/>
<use href="#md" x="204.92" y="193.13"/>
<use href="#hd" x="205.52" y="192.92"/>
<use href="#md" x="206.13" y="192.72"/>
<use href="#md" x="206.73" y="192.51"/>
<use href="#hd" x="207.33" y="192.31"/>
<use href="#md" x="207.93" y="192.10"/>
<use href="#md" x="208.54" y="191.90"/>
<use href="#hd" x="209.14" y="191.70"/>
<use href="#md" x="209.74" y="191.49"/>
<use href="#md" x="210.34" y="191.29"/>
<use href="#hd" x="210.95" y="191.09"/>
<use href="#md" x="211.55" y="190.88"/>
<use href="#md" x="212.15" y="190.68"/>
<use href="#hd" x="212.75" y="190.48"/>
<use href="#md" x="213.36" y="190.27"/>
<use href="#md" x="213.96" y="190.07"/>
<use href="#hd" x="214.56" y="189.87"/>
<use href="#md" x="215.16" y="189.67"/>
<use href="#md" x="215.77" y="189.47"/>
<use href="#hd" x="216.37" y="189.26"/>
<use href="#md" x="216.97" y="189.06"/>
<use href="#md" x="217.57" y="188.86"/>
<use href="#hd" x="218.18" y="188.66"/>
<use href="#md" x="218.78" y="188.46"/>
<use href="#md" x="219.38" y="188.26"/>
<use href="#hd" x="219.98" y="188.05"/>
<use href="#md" x="220.59" y="187.85"/>
<use href="#md" x="221.19" y="187.65"/>
<use href="#hd" x="221.79" y="187.45"/>
<use href="#md" x="222.39" y="187.25"/>
<use href="#md" x="223.00" y="187.05"/>
<use href="#hd" x="223.60" y="186.85"/>
<use href="#md" x="224.20" y="186.65"/>
<use href="#md" x="224.80" y="186.45"/>
<use href="#hd" x="225.41" y="186.25"/>
<use href="#md" x="226.01" y="186.05"/>
<use href="#md" x="226.61" y="185.85"/>
<use href="#hd" x="227.21" y="185.65"/>
<use href="#md" x="227.82" y="185.45"/>
<use href="#md" x="228.42" y="185.25"/>
<use href="#hd" x="229.02" y="185.05"/>
<use href="#md" x="229.62" y="184.85"/>
<use href="#md" x="230.23" y="184.65"/>
<use href="#hd" x="230.83" y="184.45"/>
<use href="#md" x="231.43" y="184.25"/>
<use href="#md" x="232.03" y="184.05"/>
<use href="#hd" x="232.64" y="183.85"/>
<use href="#md" x="233.24" y="183.65"/>
<use href="#md" x="233.84" y="183.46"/>
<use href="#hd" x="234.44" y="183.26"/>
<use href="#md" x="235.05" y="183.06"/>
<use href="#md" x="235.65" y="182.86"/>
<use href="#hd" x="236.25" y="182.66"/>
<use href="#md" x="236.85" y="182.46"/>
<use href="#md" x="237.46" y="182.26"/>
<use href="#hd" x="238.06" y="182.06"/>
<use href="#md" x="238.66" y="181.87"/>
<use href="#md" x="239.26" y="181.67"/>
<use href="#hd" x="239.87" y="181.47"/>
<use href="#md" x="240.47" y="181.27"/>
<use href="#md" x="241.07" y="181.07"/>
<use href="#hd" x="241.67" y="180.87"/>
<use href="#md" x="242.28" y="180.68"/>
<use href="#md" x="242.88" y="180.48"/>
<use href="#hd" x="243.48" y="180.28"/>
<use href="#md" x="244.08" y="180.08"/>
<use href="#md" x="244.69" y="179.88"/>
<use href="#hd" x="245.29" y="179.69"/>
<use href="#md" x="245.89" y="179.49"/>
<use href="#md" x="246.49" y="179.29"/>
<use href="#hd" x="247.10" y="179.09"/>
<use href="#md" x="247.70" y="178.89"/>
<use href="#md" x="248.30" y="178.70"/>
<use href="#hd" x="248.90" y="178.50"/>
<use href="#md" x="249.51" y="178.30"/>
<use href="#md" x="250.11" y="178.10"/>
<use href="#hd" x="250.71" y="177.90"/>
<use href="#md" x="251.31" y="177.71"/>
<use href="#md" x="251.92" y="177.51"/>
<use href="#hd" x="252.52" y="177.31"/>
<use href="#md" x="253.12" y="177.11"/>
<use href="#md" x="253.72" y="176.92"/>
<use href="#hd" x="254.33" y="176.72"/>
<use href="#md" x="254.93" y="176.52"/>
<use href="#md" x="255.53" y="176.32"/>
<use href="#hd" x="256.13" y="176.13"/>
<use href="#md" x="256.74" y="175.93"/>
<use href="#md" x="257.34" y="175.73"/>
<use href="#hd" x="257.94" y="175.53"/>
<use href="#md" x="258.54" y="175.34"/>
<use href="#md" x="259.14" y="175.14"/>
<use href="#hd" x="259.75" y="174.94"/>
<use href="#md" x="260.35" y="174.74"/>
<use href="#md" x="260.95" y="174.55"/>
<use href="#hd" x="261.56" y="174.35"/>
<use href="#md" x="262.16" y="174.15"/>
<use href="#md" x="262.76" y="173.95"/>
<use href="#hd" x="263.36" y="173.76"/>
<use href="#md" x="263.97" y="173.56"/>
<use href="#md" x="264.57" y="173.36"/>
<use href="#hd" x="265.17" y="173.16"/>
<use href="#md" x="265.77" y="172.97"/>
<use href="#md" x="266.38" y="172.77"/>
<use href="#hd" x="266.98" y="172.57"/>
<use href="#md" x="267.58" y="172.37"/>
<use href="#md" x="268.18" y="172.17"/>
<use href="#hd" x="268.79" y="171.98"/>
<use href="#md" x="269.39" y="171.78"/>
<use href="#md" x="269.99" y="171.58"/>
<use href="#hd" x="270.59" y="171.38"/>
<use href="#md" x="271.20" y="171.19"/>
<use href="#md" x="271.80" y="170.99"/>
<use href="#hd" x="272.40" y="170.79"/>
<use href="#md" x="273.00" y="170.59"/>
<use href="#md" x="273.61" y="170.39"/>
<use href="#hd" x="274.21" y="170.20"/>
<use href="#md" x="274.81" y="170.00"/>
<use href="#md" x="275.41" y="169.80"/>
<use href="#hd" x="276.01" y="169.60"/>
<use href="#md" x="276.62" y="169.40"/>
<use href="#md" x="277.22" y="169.21"/>
<use href="#hd" x="277.82" y="169.01"/>
<use href="#md" x="278.43" y="168.81"/>
<use href="#md" x="279.03" y="168.61"/>
<use href="#hd" x="279.63" y="168.41"/>
<use href="#md" x="280.23" y="168.21"/>
<use href="#md" x="280.84" y="168.02"/>
<use href="#hd" x="281.44" y="167.82"/>
<use href="#md" x="282.04" y="167.62"/>
<use href="#md" x="282.64" y="167.42"/>
<use href="#hd" x="283.25" y="167.22"/>
<use href="#md" x="283.85" y="167.02"/>
<use href="#md" x="284.45" y="166.82"/>
<use href="#hd" x="285.05" y="166.63"/>
<use href="#md" x="285.65" y="166.43"/>
<use href="#md" x="286.26" y="166.23"/>
<use href="#hd" x="286.86" y="166.03"/>
<use href="#md" x="287.46" y="165.83"/>
<use href="#md" x="288.07" y="165.63"/>
<use href="#hd" x="288.67" y="165.43"/>
<use href="#md" x="289.27" y="165.23"/>
<use href="#md" x="289.87" y="165.03"/>
<use href="#hd" x="290.48" y="164.83"/>
<use href="#md" x="291.08" y="164.63"/>
<use href="#md" x="291.68" y="164.43"/>
<use href="#hd" x="292.28" y="164.24"/>
<use href="#md" x="292.88" y="164.04"/>
<use href="#md" x="293.49" y="163.84"/>
<use href="#hd" x="294.09" y="163.64"/>
<use href="#md" x="294.69" y="163.44"/>
<use href="#md" x="295.30" y="163.24"/>
<use href="#hd" x="295.90" y="163.04"/>
<use href="#md" x="296.50" y="162.84"/>
<use href="#md" x="297.10" y="162.64"/>
<use href="#hd" x="297.71" y="162.44"/>
<use href="#md" x="298.31" y="162.23"/>
<use href="#md" x="298.91" y="162.03"/>
<use href="#hd" x="299.51" y="161.83"/>
<use href="#md" x="300.12" y="161.63"/>
<use href="#md" x="300.72" y="161.43"/>
<use href="#hd" x="301.32" y="161.23"/>
<use href="#md" x="301.92" y="161.03"/>
<use href="#md" x="302.52" y="160.83"/>
<use href="#hd" x="303.13" y="160.63"/>
<use href="#md" x="303.73" y="160.43"/>
<use href="#md" x="304.33" y="160.23"/>
<use href="#hd" x="304.94" y="160.02"/>
<use href="#md" x="305.54" y="159.82"/>
<use href="#md" x="306.14" y="159.62"/>
<use href="#hd" x="306.74" y="159.42"/>
<use href="#md" x="307.35" y="159.22"/>
<use href="#md" x="307.95" y="159.02"/>
<use href="#hd" x="308.55" y="158.81"/>
<use href="#md" x="309.15" y="158.61"/>
<use href="#md" x="309.75" y="158.41"/>
<use href="#hd" x="310.36" y="158.21"/>
<use href="#md" x="310.96" y="158.00"/>
<use href="#md" x="311.56" y="157.80"/>
<use href="#hd" x="312.17" y="157.60"/>
<use href="#md" x="312.77" y="157.40"/>
<use href="#md" x="313.37" y="157.19"/>
<use href="#hd" x="313.97" y="156.99"/>
<use href="#md" x="314.57" y="156.79"/>
<use href="#md" x="315.18" y="156.58"/>
<use href="#hd" x="315.78" y="156.38"/>
<use href="#md" x="316.38" y="156.18"/>
<use href="#md" x="316.99" y="155.97"/>
<use href="#hd" x="317.59" y="155.77"/>
<use href="#md" x="318.19" y="155.57"/>
<use href="#md" x="318.79" y="155.36"/>
<use href="#hd" x="319.40" y="155.16"/>
<use href="#md" x="320.00" y="154.95"/>
<use href="#md" x="320.60" y="154.75"/>
<use href="#hd" x="321.20" y="154.54"/>
<use href="#md" x="321.81" y="154.34"/>
<use href="#md" x="322.41" y="154.13"/>
<use href="#hd" x="323.01" y="153.93"/>
<use href="#md" x="323.61" y="153.72"/>
<use href="#md" x="324.22" y="153.52"/>
<use href="#hd" x="324.82" y="153.31"/>
<use href="#md" x="325.42" y="153.11"/>
<use href="#md" x="326.02" y="152.90"/>
<use href="#hd" x="326.62" y="152.70"/>
<use href="#md" x="327.23" y="152.49"/>
<use href="#md" x="327.83" y="152.29"/>
<use href="#hd" x="328.43" y="152.08"/>
<use href="#md" x="329.04" y="151.88"/>
<use href="#md" x="329.64" y="151.67"/>
<use href="#hd" x="330.24" y="151.46"/>
<use href="#md" x="330.84" y="151.26"/>
<use href="#md" x="331.44" y="151.05"/>
<use href="#hd" x="332.05" y="150.84"/>
<use href="#md" x="332.65" y="150.64"/>
<use href="#md" x="333.25" y="150.43"/>
<use href="#hd" x="333.86" y="150.22"/>
<use href="#md" x="334.46" y="150.02"/>
<use href="#md" x="335.06" y="149.81"/>
<use href="#hd" x="335.66" y="149.60"/>
<use href="#md" x="336.27" y="149.39"/>
<use href="#md" x="336.87" y="149.19"/>
<use href="#hd" x="337.47" y="148.98"/>
<use href="#md" x="338.07" y="148.77"/>
<use href="#md" x="338.68" y="148.56"/>
<use href="#hd" x="339.28" y="148.35"/>
<use href="#md" x="339.88" y="148.15"/>
<use href="#md" x="340.48" y="147.94"/>
<use href="#hd" x="341.09" y="147.73"/>
<use href="#md" x="341.69" y="147.52"/>
<use href="#md" x="342.29" y="147.31"/>
<use href="#hd" x="342.89" y="147.10"/>
<use href="#md" x="343.50" y="146.89"/>
<use href="#md" x="344.10" y="146.68"/>
<use href="#hd" x="344.70" y="146.47"/>
<use href="#md" x="345.30" y="146.26"/>
<use href="#md" x="345.91" y="146.05"/>
<use href="#hd" x="346.51" y="145.84"/>
<use href="#md" x="347.11" y="145.63"/>
<use href="#md" x="347.71" y="145.42"/>
<use href="#hd" x="348.31" y="145.21"/>
<use href="#md" x="348.92" y="145.00"/>
<use href="#md" x="349.52" y="144.79"/>
<use href="#hd" x="350.12" y="144.57"/>
<use href="#md" x="350.73" y="144.36"/>
<use href="#md" x="351.33" y="144.15"/>
<use href="#hd" x="351.93" y="143.94"/>
<use href="#md" x="352.53" y="143.73"/>
<use href="#md" x="353.13" y="143.51"/>
<use href="#hd" x="353.74" y="143.30"/>
<use href="#md" x="354.34" y="143.09"/>
<use href="#md" x="354.94" y="142.87"/>
<use href="#hd" x="355.55" y="142.66"/>
<use href="#md" x="356.15" y="142.45"/>
<use href="#md" x="356.75" y="142.23"/>
<use href="#hd" x="357.35" y="142.02"/>
<use href="#md" x="357.96" y="141.80"/>
<use href="#md" x="358.56" y="141.59"/>
<use href="#hd" x="359.16" y="141.37"/>
<use href="#md" x="359.76" y="141.16"/>
<use href="#md" x="360.37" y="140.94"/>
<use href="#hd" x="360.97" y="140.73"/>
<use href="#md" x="361.57" y="140.51"/>
<use href="#md" x="362.17" y="140.30"/>
<use href="#hd" x="362.78" y="140.08"/>
<use href="#md" x="363.38" y="139.86"/>
<use href="#md" x="363.98" y="139.65"/>
<use href="#hd" x="364.58" y="139.43"/>
<use href="#md" x="365.19" y="139.21"/>
<use href="#md" x="365.79" y="138.99"/>
<use href="#hd" x="366.39" y="138.78"/>
<use href="#md" x="366.99" y="138.56"/>
<use href="#md" x="367.60" y="138.34"/>
<use href="#hd" x="368.20" y="138.12"/>
<use href="#md" x="368.80" y="137.90"/>
<use href="#md" x="369.40" y="137.68"/>
<use href="#hd" x="370.00" y="137.46"/>
<use href="#md" x="370.61" y="137.24"/>
<use href="#md" x="371.21" y="137.02"/>
<use href="#hd" x="371.81" y="136.80"/>
<use href="#md" x="372.42" y="136.58"/>
<use href="#md" x="373.02" y="136.36"/>
<use href="#hd" x="373.62" y="136.14"/>
<use href="#md" x="374.22" y="135.92"/>
<use href="#md" x="374.83" y="135.70"/>
<use href="#hd" x="375.43" y="135.47"/>
<use href="#md" x="376.03" y="135.25"/>
<use href="#md" x="376.63" y="135.03"/>
<use href="#hd" x="377.24" y="134.81"/>
<use href="#md" x="377.84" y="134.58"/>
<use href="#md" x="378.44" y="134.36"/>
<use href="#hd" x="379.04" y="134.14"/>
<use href="#md" x="379.65" y="133.91"/>
<use href="#md" x="380.25" y="133.69"/>
<use href="#hd" x="380.85" y="133.46"/>
<use href="#md" x="381.45" y="133.24"/>
<use href="#md" x="382.06" y="133.01"/>
<use href="#hd" x="382.66" y="132.79"/>
<use href="#md" x="383.26" y="132.56"/>
<use href="#md" x="383.86" y="132.33"/>
<use href="#hd" x="384.47" y="132.11"/>
<use href="#md" x="385.07" y="131.88"/>
<use href="#md" x="385.67" y="131.65"/>
<use href="#hd" x="386.27" y="131.42"/>
<use href="#md" x="386.88" y="131.20"/>
<use href="#md" x="387.48" y="130.97"/>
<use href="#hd" x="388.08" y="130.74"/>
<use href="#md" x="388.68" y="130.51"/>
<use href="#md" x="389.29" y="130.28"/>
<use href="#hd" x="389.89" y="130.05"/>
<use href="#md" x="390.49" y="129.82"/>
<use href="#md" x="391.09" y="129.59"/>
<use href="#hd" x="391.69" y="129.36"/>
<use href="#md" x="392.30" y="129.13"/>
<use href="#md" x="392.90" y="128.90"/>
<use href="#hd" x="393.50" y="128.66"/>
<use href="#md" x="394.11" y="128.43"/>
<use href="#md" x="394.71" y="128.20"/>
<use href="#hd" x="395.31" y="127.97"/>
<use href="#md" x="395.91" y="127.73"/>
<use href="#md" x="396.52" y="127.50"/>
<use href="#hd" x="397.12" y="127.26"/>
<use href="#md" x="397.72" y="127.03"/>
<use href="#md" x="398.32" y="126.80"/>
<use href="#hd" x="398.93" y="126.56"/>
<use href="#md" x="399.53" y="126.32"/>
<use href="#md" x="400.13" y="126.09"/>
<use href="#hd" x="400.73" y="125.85"/>
<use href="#md" x="401.34" y="125.62"/>
<use href="#md" x="401.94" y="125.38"/>
<use href="#hd" x="402.54" y="125.14"/>
<use href="#md" x="403.14" y="124.90"/>
<use href="#md" x="403.75" y="124.66"/>
<use href="#hd" x="404.35" y="124.43"/>
<use href="#md" x="404.95" y="124.19"/>
<use href="#md" x="405.55" y="123.95"/>
<use href="#hd" x="406.16" y="123.71"/>
<use href="#md" x="406.76" y="123.47"/>
<use href="#md" x="407.36" y="123.22"/>
<use href="#hd" x="407.96" y="122.98"/>
<use href="#md" x="408.56" y="122.74"/>
<use href="#md" x="409.17" y="122.50"/>
<use href="#hd" x="409.77" y="122.26"/>
<use href="#md" x="410.37" y="122.01"/>
<use href="#md" x="410.98" y="121.77"/>
<use href="#hd" x="411.58" y="121.53"/>
<use href="#md" x="412.18" y="121.28"/>
<use href="#md" x="412.78" y="121.04"/>
<use href="#hd" x="413.39" y="120.79"/>
<use href="#md" x="413.99" y="120.55"/>
<use href="#md" x="414.59" y="120.30"/>
<use href="#hd" x="415.19" y="120.06"/>
<use href="#md" x="415.80" y="119.81"/>
<use href="#md" x="416.40" y="119.56"/>
<use href="#hd" x="417.00" y="119.31"/>
<use href="#md" x="417.60" y="119.06"/>
<use href="#md" x="418.21" y="118.82"/>
<use href="#hd" x="418.81" y="118.57"/>
<use href="#md" x="419.41" y="118.32"/>
<use href="#md" x="420.01" y="118.07"/>
<use href="#hd" x="420.62" y="117.82"/>
<use href="#md" x="421.22" y="117.57"/>
<use href="#md" x="421.82" y="117.31"/>
<use href="#hd" x="422.42" y="117.06"/>
<use href="#md" x="423.03" y="116.81"/>
<use href="#md" x="423.63" y="116.56"/>
<use href="#hd" x="424.23" y="116.30"/>
<use href="#md" x="424.83" y="116.05"/>
<use href="#md" x="425.44" y="115.80"/>
<use href="#hd" x="426.04" y="115.54"/>
<use href="#md" x="426.64" y="115.29"/>
<use href="#md" x="427.24" y="115.03"/>
<use href="#hd" x="427.85" y="114.77"/>
<use href="#md" x="428.45" y="114.52"/>
<use href="#md" x="429.05" y="114.26"/>
<use href="#hd" x="429.65" y="114.00"/>
<use href="#md" x="430.25" y="113.74"/>
<use href="#md" x="430.86" y="113.48"/>
<use href="#hd" x="431.46" y="113.22"/>
<use href="#md" x="432.06" y="112.96"/>
<use href="#md" x="432.67" y="112.70"/>
<use href="#hd" x="433.27" y="112.44"/>
<use href="#md" x="433.87" y="112.18"/>
<use href="#md" x="434.47" y="111.92"/>
<use href="#hd" x="435.08" y="111.66"/>
<use href="#md" x="435.68" y="111.40"/>
<use href="#md" x="436.28" y="111.13"/>
<use href="#hd" x="436.88" y="110.87"/>
<use href="#md" x="437.49" y="110.60"/>
<use href="#md" x="438.09" y="110.34"/>
<use href="#hd" x="438.69" y="110.07"/>
<use href="#md" x="439.29" y="109.81"/>
<use href="#md" x="439.90" y="109.54"/>
<use href="#hd" x="440.50" y="109.27"/>
<use href="#md" x="441.10" y="109.00"/>
<use href="#md" x="441.70" y="108.74"/>
<use href="#hd" x="442.31" y="108.47"/>
<use href="#md" x="442.91" y="108.20"/>
<use href="#md" x="443.51" y="107.93"/>
<use href="#hd" x="444.11" y="107.66"/>
<use href="#md" x="444.72" y="107.39"/>
<use href="#md" x="445.32" y="107.12"/>
<use href="#hd" x="445.92" y="106.85"/>
<use href="#md" x="446.52" y="106.57"/>
<use href="#md" x="447.12" y="106.30"/>
<use href="#hd" x="447.73" y="106.03"/>
<use href="#md" x="448.33" y="105.76"/>
<use href="#md" x="448.93" y="105.48"/>
<use href="#hd" x="449.54" y="105.21"/>
<use href="#md" x="450.14" y="104.93"/>
<use href="#md" x="450.74" y="104.66"/>
<use href="#hd" x="451.34" y="104.38"/>
<use href="#md" x="451.95" y="104.10"/>
<use href="#md" x="452.55" y="103.83"/>
<use href="#hd" x="453.15" y="103.55"/>
<use href="#md" x="453.75" y="103.27"/>
<use href="#md" x="454.36" y="102.99"/>
<use href="#hd" x="454.96" y="102.72"/>
<use href="#md" x="455.56" y="102.44"/>
<use href="#md" x="456.16" y="102.16"/>
<use href="#hd" x="456.77" y="101.88"/>
<use href="#md" x="457.37" y="101.60"/>
<use href="#md" x="457.97" y="101.31"/>
<use href="#hd" x="458.57" y="101.03"/>
<use href="#md" x="459.18" y="100.75"/>
<use href="#md" x="459.78" y="100.47"/>
<use href="#hd" x="460.38" y="100.18"/>
<use href="#md" x="460.98" y="99.90"/>
<use href="#md" x="461.59" y="99.61"/>
<use href="#hd" x="462.19" y="99.33"/>
<use href="#md" x="462.79" y="99.04"/>
<use href="#md" x="463.39" y="98.76"/>
<use href="#hd" x="464.00" y="98.47"/>
<use href="#md" x="464.60" y="98.18"/>
<use href="#md" x="465.20" y="97.90"/>
<use href="#hd" x="465.80" y="97.61"/>
<use href="#md" x="466.41" y="97.32"/>
<use href="#md" x="467.01" y="97.03"/>
<use href="#hd" x="467.61" y="96.74"/>
<use href="#md" x="468.21" y="96.45"/>
<use href="#md" x="468.81" y="96.16"/>
<use href="#hd" x="469.42" y="95.87"/>
<use href="#md" x="470.02" y="95.58"/>
<use href="#md" x="470.62" y="95.28"/>
<use href="#hd" x="471.23" y="94.99"/>
<use href="#md" x="471.83" y="94.70"/>
<use href="#md" x="472.43" y="94.40"/>
<use href="#hd" x="473.03" y="94.11"/>
<use href="#md" x="473.64" y="93.81"/>
<use href="#md" x="474.24" y="93.52"/>
<use href="#hd" x="474.84" y="93.22"/>
<use href="#md" x="475.44" y="92.92"/>
<use href="#md" x="476.05" y="92.62"/>
<use href="#hd" x="476.65" y="92.33"/>
<use href="#md" x="477.25" y="92.03"/>
<use href="#md" x="477.85" y="91.73"/>
<use href="#hd" x="478.46" y="91.43"/>
<use href="#md" x="479.06" y="91.13"/>
<use href="#md" x="479.66" y="90.83"/>
<use href="#hd" x="480.26" y="90.52"/>
<use href="#md" x="480.87" y="90.22"/>
<use href="#md" x="481.47" y="89.92"/>
<use href="#hd" x="482.07" y="89.61"/>
<use href="#md" x="482.67" y="89.31"/>
<use href="#md" x="483.28" y="89.01"/>
<use href="#hd" x="483.88" y="88.70"/>
<use href="#md" x="484.48" y="88.39"/>
<use href="#md" x="485.08" y="88.09"/>
<use href="#hd" x="485.69" y="87.78"/>
<use href="#md" x="486.29" y="87.47"/>
<use href="#md" x="486.89" y="87.17"/>
<use href="#hd" x="487.49" y="86.86"/>
<use href="#md" x="488.10" y="86.55"/>
<use href="#md" x="488.70" y="86.24"/>
<use href="#hd" x="489.30" y="85.93"/>
<use href="#md" x="489.90" y="85.61"/>
<use href="#md" x="490.51" y="85.30"/>
<use href="#hd" x="491.11" y="84.99"/>
<use href="#md" x="491.71" y="84.68"/>
<use href="#md" x="492.31" y="84.36"/>
<use href="#hd" x="492.92" y="84.05"/>
<use href="#md" x="493.52" y="83.73"/>
<use href="#md" x="494.12" y="83.42"/>
<use href="#hd" x="494.72" y="83.10"/>
<use href="#md" x="495.33" y="82.78"/>
<use href="#md" x="495.93" y="82.47"/>
<use href="#hd" x="496.53" y="82.15"/>
<use href="#md" x="497.13" y="81.83"/>
<use href="#md" x="497.74" y="81.51"/>
<use href="#hd" x="498.34" y="81.19"/>
<use href="#md" x="498.94" y="80.87"/>
<use href="#md" x="499.54" y="80.55"/>
<use href="#hd" x="500.15" y="80.22"/>
<use href="#md" x="500.75" y="79.90"/>
<use href="#md" x="501.35" y="79.58"/>
<use href="#hd" x="501.95" y="79.25"/>
<use href="#md" x="502.56" y="78.93"/>
<use href="#md" x="503.16" y="78.60"/>
<use href="#hd" x="503.76" y="78.28"/>
<use href="#md" x="504.36" y="77.95"/>
<use href="#md" x="504.97" y="77.62"/>
<use href="#hd" x="505.57" y="77.29"/>
<use href="#md" x="506.17" y="76.96"/>
<use href="#md" x="506.77" y="76.64"/>
<use href="#hd" x="507.38" y="76.30"/>
<use href="#md" x="507.98" y="75.97"/>
<use href="#md" x="508.58" y="75.64"/>
<use href="#hd" x="509.18" y="75.31"/>
<use href="#md" x="509.79" y="74.98"/>
<use href="#md" x="510.39" y="74.64"/>
<use href="#hd" x="510.99" y="74.31"/>
<use href="#md" x="511.59" y="73.97"/>
<use href="#md" x="512.20" y="73.64"/>
<use href="#hd" x="512.80" y="73.30"/>
<use href="#md" x="513.40" y="72.96"/>
<use href="#md" x="514.00" y="72.63"/>
<use href="#hd" x="514.61" y="72.29"/>
<use href="#md" x="515.21" y="71.95"/>
<use href="#md" x="515.81" y="71.61"/>
<use href="#hd" x="516.41" y="71.27"/>
<use href="#md" x="517.02" y="70.93"/>
<use href="#md" x="517.62" y="70.58"/>
<use href="#hd" x="518.22" y="70.24"/>
<use href="#md" x="518.82" y="69.90"/>
<use href="#md" x="519.42" y="69.55"/>
<use href="#hd" x="520.03" y="69.21"/>
<use href="#md" x="520.63" y="68.86"/>
<use href="#md" x="521.23" y="68.51"/>
<use href="#hd" x="521.84" y="68.17"/>
<use href="#md" x="522.44" y="67.82"/>
<use href="#md" x="523.04" y="67.47"/>
<use href="#hd" x="523.64" y="67.12"/>
<use href="#md" x="524.25" y="66.77"/>
<use href="#md" x="524.85" y="66.42"/>
<use href="#hd" x="525.45" y="66.07"/>
<use href="#md" x="526.05" y="65.71"/>
<use href="#md" x="526.65" y="65.36"/>
<use href="#hd" x="527.26" y="65.01"/>
<use href="#md" x="527.86" y="64.65"/>
<use href="#md" x="528.46" y="64.30"/>
<use href="#hd" x="529.07" y="63.94"/>
<use href="#md" x="529.67" y="63.58"/>
<use href="#md" x="530.27" y="63.23"/>
<use href="#hd" x="530.87" y="62.87"/>
<use href="#md" x="531.48" y="62.51"/>
<use href="#md" x="532.08" y="62.15"/>
<use href="#hd" x="532.68" y="61.79"/>
<use href="#md" x="533.28" y="61.42"/>
<use href="#md" x="533.88" y="61.06"/>
<use href="#hd" x="534.49" y="60.70"/>
<use href="#md" x="535.09" y="60.33"/>
<use href="#md" x="535.69" y="59.97"/>
<use href="#hd" x="536.30" y="59.60"/>
<use href="#md" x="536.90" y="59.24"/>
<use href="#md" x="537.50" y="58.87"/>
<use href="#hd" x="538.10" y="58.50"/>
<use href="#md" x="538.71" y="58.13"/>
<use href="#md" x="539.31" y="57.76"/>
<use href="#hd" x="539.91" y="57.39"/>
<use href="#md" x="540.51" y="57.02"/>
<use href="#md" x="541.12" y="56.65"/>
<use href="#hd" x="541.72" y="56.27"/>
<use href="#md" x="542.32" y="55.90"/>
<use href="#md" x="542.92" y="55.52"/>
<use href="#hd" x="543.53" y="55.15"/>
<use href="#md" x="544.13" y="54.77"/>
<use href="#md" x="544.73" y="54.39"/>
<use href="#hd" x="545.33" y="54.01"/>
<use href="#md" x="545.93" y="53.64"/>
<use href="#md" x="546.54" y="53.25"/>
<use href="#hd" x="547.14" y="52.87"/>
<use href="#md" x="547.74" y="52.49"/>
<use href="#md" x="548.35" y="52.11"/>
<use href="#hd" x="548.95" y="51.72"/>
<use href="#md" x="549.55" y="51.34"/>
<use href="#md" x="550.15" y="50.95"/>
<use href="#hd" x="550.76" y="50.57"/>
<use href="#md" x="551.36" y="50.18"/>
<use href="#md" x="551.96" y="49.79"/>
<use href="#hd" x="552.56" y="49.40"/>
<use href="#md" x="553.16" y="49.01"/>
<use href="#md" x="553.77" y="48.62"/>
<use href="#hd" x="554.37" y="48.23"/>
<use href="#md" x="554.97" y="47.83"/>
<use href="#md" x="555.58" y="47.44"/>
<use href="#hd" x="556.18" y="47.04"/>
<use href="#md" x="556.78" y="46.65"/>
<use href="#md" x="557.38" y="46.25"/>
<use href="#hd" x="557.99" y="45.85"/>
<use href="#md" x="558.59" y="45.45"/>
<use href="#md" x="559.19" y="45.05"/>
<use href="#hd" x="559.79" y="44.65"/>
<use href="#md" x="560.39" y="44.25"/>
<use href="#md" x="561.00" y="43.84"/>
<use href="#hd" x="561.60" y="43.44"/>
<use href="#md" x="562.20" y="43.03"/>
<use href="#md" x="562.81" y="42.63"/>
<use href="#hd" x="563.41" y="42.22"/>
<use href="#md" x="564.01" y="41.81"/>
<use href="#md" x="564.61" y="41.40"/>
<use href="#hd" x="565.22" y="40.99"/>
<use href="#md" x="565.82" y="40.58"/>
<use href="#md" x="566.42" y="40.17"/>
<use href="#hd" x="567.02" y="39.76"/>
<use href="#md" x="567.62" y="39.34"/>
<use href="#md" x="568.23" y="38.93"/>
<use href="#hd" x="568.83" y="38.51"/>
<use href="#md" x="569.43" y="38.09"/>
<use href="#md" x="570.04" y="37.68"/>
<use href="#hd" x="570.64" y="37.26"/>
<use href="#md" x="571.24" y="36.84"/>
<use href="#md" x="571.84" y="36.41"/>
<use href="#hd" x="572.45" y="35.99"/>
<use href="#md" x="573.05" y="35.57"/>
<use href="#md" x="573.65" y="35.14"/>
<use href="#hd" x="574.25" y="34.72"/>
<use href="#md" x="574.86" y="34.29"/>
<use href="#md" x="575.46" y="33.86"/>
<use href="#hd" x="576.06" y="33.43"/>
<use href="#md" x="576.66" y="33.00"/>
<use href="#md" x="577.26" y="32.57"/>
<use href="#hd" x="577.87" y="32.14"/>
<use href="#md" x="578.47" y="31.71"/>
<use href="#md" x="579.07" y="31.27"/>
<use href="#hd" x="579.68" y="30.84"/>
<use href="#md" x="580.28" y="30.40"/>
<use href="#md" x="580.88" y="29.96"/>
<use href="#hd" x="581.48" y="29.52"/>
<use href="#md" x="582.09" y="29.08"/>
<use href="#md" x="582.69" y="28.64"/>
<use href="#hd" x="583.29" y="28.20"/>
<use href="#md" x="583.89" y="27.76"/>
<use href="#md" x="584.50" y="27.31"/>
<use href="#hd" x="585.10" y="26.87"/>
<use href="#md" x="585.70" y="26.42"/>
<use href="#md" x="586.30" y="25.97"/>
<use href="#hd" x="586.91" y="25.51"/>
<use href="#md" x="587.51" y="25.04"/>
<use href="#md" x="588.11" y="24.57"/>
<use href="#hd" x="588.71" y="24.10"/>
<use href="#md" x="589.32" y="23.63"/>
<use href="#md" x="589.92" y="23.15"/>
<use href="#hd" x="590.52" y="22.66"/>
<use href="#md" x="591.12" y="22.18"/>
<use href="#md" x="591.73" y="21.69"/>
<use href="#hd" x="592.33" y="21.20"/>
<use href="#md" x="592.93" y="20.70"/>
<use href="#md" x="593.53" y="20.20"/>
<use href="#hd" x="594.13" y="19.70"/>
<use href="#md" x="594.74" y="19.20"/>
<use href="#md" x="595.34" y="18.70"/>
<use href="#hd" x="595.94" y="18.19"/>
<use href="#md" x="596.55" y="17.68"/>
<use href="#md" x="597.15" y="17.18"/>
<use href="#hd" x="597.75" y="16.67"/>
<use href="#md" x="598.35" y="16.16"/>
<use href="#md" x="598.96" y="15.64"/>
<use href="#hd" x="599.56" y="15.13"/>
<use href="#md" x="600.16" y="14.62"/>
<use href="#md" x="600.76" y="14.11"/>
<use href="#hd" x="601.37" y="13.59"/>
<use href="#md" x="601.97" y="13.07"/>
<use href="#md" x="602.57" y="12.55"/>
<use href="#hd" x="603.17" y="12.02"/>
<use href="#md" x="603.77" y="11.49"/>
<use href="#md" x="604.38" y="10.96"/>
<use href="#hd" x="604.98" y="10.42"/>
<use href="#md" x="605.58" y="9.89"/>
<use href="#md" x="606.19" y="9.35"/>
<use href="#hd" x="606.79" y="8.81"/>
<use href="#md" x="607.39" y="8.26"/>
<use href="#md" x="607.99" y="7.72"/>
<use href="#hd" x="608.60" y="7.17"/>
<use href="#ed" x="609.20" y="6.62"/>
</g>
<g id="s-blue">
<use href="#oc" x="55.50" y="302.20"/>
<use href="#oc" x="57.28" y="277.91"/>
<use href="#oc" x="57.77" y="271.59"/>
<use href="#oc" x="58.27" y="267.13"/>
<use href="#oc" x="58.78" y="263.57"/>
<use href="#oc" x="59.30" y="260.54"/>
<use href="#oc" x="59.83" y="257.89"/>
<use href="#oc" x="60.36" y="255.51"/>
<use href="#oc" x="60.90" y="253.34"/>
<use href="#oc" x="61.45" y="251.34"/>
<use href="#oc" x="62.00" y="249.47"/>
<use href="#oc" x="62.56" y="247.72"/>
<use href="#oc" x="63.12" y="246.06"/>
<use href="#oc" x="63.69" y="244.49"/>
<use href="#oc" x="64.26" y="243.00"/>
<use href="#oc" x="64.83" y="241.57"/>
<use href="#oc" x="65.40" y="240.19"/>
<use href="#oc" x="65.98" y="238.87"/>
<use href="#oc" x="66.56" y="237.60"/>
<use href="#oc" x="67.14" y="236.37"/>
<use href="#oc" x="67.73" y="235.17"/>
<use href="#oc" x="68.31" y="234.02"/>
<use href="#oc" x="68.90" y="232.89"/>
<use href="#oc" x="69.49" y="231.80"/>
<use href="#oc" x="70.08" y="230.73"/>
<use href="#oc" x="70.67" y="229.69"/>
<use href="#oc" x="71.26" y="228.68"/>
<use href="#oc" x="71.85" y="227.69"/>
<use href="#oc" x="72.45" y="226.72"/>
<use href="#oc" x="73.04" y="225.76"/>
<use href="#oc" x="73.64" y="224.83"/>
<use href="#oc" x="74.24" y="223.92"/>
<use href="#oc" x="74.83" y="223.02"/>
<use href="#oc" x="75.43" y="222.14"/>
<use href="#oc" x="76.03" y="221.27"/>
<use href="#oc" x="76.63" y="220.42"/>
<use href="#oc" x="77.23" y="219.58"/>
<use href="#oc" x="77.82" y="218.76"/>
<use href="#oc" x="78.42" y="217.94"/>
<use href="#oc" x="79.02" y="217.14"/>
<use href="#oc" x="79.62" y="216.35"/>
<use href="#oc" x="80.22" y="215.57"/>
<use href="#oc" x="80.82" y="214.80"/>
<use href="#oc" x="81.43" y="214.05"/>
<use href="#oc" x="82.03" y="213.30"/>
<use href="#oc" x="82.63" y="212.56"/>
<use href="#oc" x="83.23" y="211.82"/>
<use href="#oc" x="83.83" y="211.10"/>
<use href="#oc" x="84.43" y="210.39"/>
<use href="#oc" x="85.03" y="209.68"/>
<use href="#oc" x="85.63" y="208.98"/>
<use href="#oc" x="86.24" y="208.29"/>
<use href="#oc" x="86.84" y="207.60"/>
<use href="#oc" x="87.44" y="206.92"/>
<use href="#oc" x="88.04" y="206.25"/>
<use href="#oc" x="88.64" y="205.58"/>
<use href="#oc" x="89.24" y="204.92"/>
<use href="#oc" x="89.85" y="204.27"/>
<use href="#oc" x="90.45" y="203.62"/>
<use href="#oc" x="91.05" y="202.98"/>
<use href="#oc" x="91.65" y="202.34"/>
<use href="#oc" x="92.26" y="201.71"/>
<use href="#oc" x="92.86" y="201.08"/>
<use href="#oc" x="93.46" y="200.46"/>
<use href="#oc" x="94.06" y="199.84"/>
<use href="#oc" x="94.66" y="199.23"/>
<use href="#oc" x="95.27" y="198.62"/>
<use href="#oc" x="95.87" y="198.01"/>
<use href="#oc" x="96.47" y="197.41"/>
<use href="#oc" x="97.07" y="196.81"/>
<use href="#oc" x="97.68" y="196.22"/>
<use href="#oc" x="98.28" y="195.63"/>
<use href="#oc" x="98.88" y="195.05"/>
<use href="#oc" x="99.48" y="194.47"/>
<use href="#oc" x="100.09" y="193.89"/>
<use href="#oc" x="100.69" y="193.31"/>
<use href="#oc" x="101.29" y="192.74"/>
<use href="#oc" x="101.89" y="192.17"/>
<use href="#oc" x="102.50" y="191.61"/>
<use href="#oc" x="103.10" y="191.05"/>
<use href="#oc" x="103.70" y="190.49"/>
<use href="#oc" x="104.30" y="189.93"/>
<use href="#oc" x="104.91" y="189.38"/>
<use href="#oc" x="105.51" y="188.83"/>
<use href="#oc" x="106.11" y="188.28"/>
<use href="#oc" x="106.71" y="187.73"/>
<use href="#oc" x="107.32" y="187.19"/>
<use href="#oc" x="107.92" y="186.65"/>
<use href="#oc" x="108.52" y="186.11"/>
<use href="#oc" x="109.12" y="185.58"/>
<use href="#oc" x="109.73" y="185.04"/>
<use href="#oc" x="110.33" y="184.51"/>
<use href="#oc" x="110.93" y="183.98"/>
<use href="#oc" x="111.53" y="183.45"/>
<use href="#oc" x="112.14" y="182.93"/>
<use href="#oc" x="112.74" y="182.41"/>
<use href="#oc" x="113.34" y="181.88"/>
<use href="#oc" x="113.94" y="181.37"/>
<use href="#oc" x="114.55" y="180.85"/>
<use href="#oc" x="115.15" y="180.33"/>
<use href="#oc" x="115.75" y="179.82"/>
<use href="#oc" x="116.35" y="179.31"/>
<use href="#oc" x="116.96" y="178.80"/>
<use href="#oc" x="117.56" y="178.29"/>
<use href="#oc" x="118.16" y="177.78"/>
<use href="#oc" x="118.76" y="177.27"/>
<use href="#oc" x="119.37" y="176.77"/>
<use href="#oc" x="119.97" y="176.27"/>
<use href="#oc" x="120.57" y="175.76"/>
<use href="#oc" x="121.17" y="175.26"/>
<use href="#oc" x="121.78" y="174.76"/>
<use href="#oc" x="122.38" y="174.27"/>
<use href="#oc" x="122.98" y="173.77"/>
<use href="#oc" x="123.58" y="173.27"/>
<use href="#oc" x="124.19" y="172.78"/>
<use href="#oc" x="124.79" y="172.29"/>
<use href="#oc" x="125.39" y="171.80"/>
<use href="#oc" x="125.99" y="171.31"/>
<use href="#oc" x="126.60" y="170.82"/>
<use href="#oc" x="127.20" y="170.33"/>
<use href="#oc" x="127.80" y="169.84"/>
<use href="#oc" x="128.40" y="169.35"/>
<use href="#oc" x="129.01" y="168.87"/>
<use href="#oc" x="129.61" y="168.38"/>
<use href="#oc" x="130.21" y="167.90"/>
<use href="#oc" x="130.81" y="167.41"/>
<use href="#oc" x="131.42" y="166.93"/>
<use href="#oc" x="132.02" y="166.45"/>
<use href="#oc" x="132.62" y="165.97"/>
<use href="#oc" x="133.22" y="165.49"/>
<use href="#oc" x="133.83" y="165.01"/>
<use href="#oc" x="134.43" y="164.53"/>
<use href="#oc" x="135.03" y="164.05"/>
<use href="#oc" x="135.63" y="163.58"/>
<use href="#oc" x="136.24" y="163.10"/>
<use href="#oc" x="136.84" y="162.62"/>
<use href="#oc" x="137.44" y="162.15"/>
<use href="#oc" x="138.04" y="161.67"/>
<use href="#oc" x="138.65" y="161.20"/>
<use href="#oc" x="139.25" y="160.72"/>
<use href="#oc" x="139.85" y="160.25"/>
<use href="#oc" x="140.45" y="159.78"/>
<use href="#oc" x="141.06" y="159.30"/>
<use href="#oc" x="141.66" y="158.83"/>
<use href="#oc" x="142.26" y="158.36"/>
<use href="#oc" x="142.86" y="157.89"/>
<use href="#oc" x="143.47" y="157.42"/>
<use href="#oc" x="144.07" y="156.95"/>
<use href="#oc" x="144.67" y="156.47"/>
<use href="#oc" x="145.27" y="156.00"/>
<use href="#oc" x="145.88" y="155.53"/>
<use href="#oc" x="146.48" y="155.06"/>
<use href="#oc" x="147.08" y="154.59"/>
<use href="#oc" x="147.68" y="154.13"/>
<use href="#oc" x="148.29" y="153.66"/>
<use href="#oc" x="148.89" y="153.19"/>
<use href="#oc" x="149.49" y="152.72"/>
<use href="#oc" x="150.09" y="152.25"/>
<use href="#oc" x="150.70" y="151.78"/>
<use href="#oc" x="151.30" y="151.31"/>
<use href="#oc" x="151.90" y="150.84"/>
<use href="#oc" x="152.50" y="150.37"/>
<use href="#oc" x="153.11" y="149.91"/>
<use href="#oc" x="153.71" y="149.44"/>
<use href="#oc" x="154.31" y="148.97"/>
<use href="#oc" x="154.91" y="148.50"/>
<use href="#oc" x="155.52" y="148.03"/>
<use href="#oc" x="156.12" y="147.56"/>
<use href="#oc" x="156.72" y="147.10"/>
<use href="#oc" x="157.32" y="146.63"/>
<use href="#oc" x="157.93" y="146.16"/>
<use href="#oc" x="158.53" y="145.69"/>
<use href="#oc" x="159.13" y="145.22"/>
<use href="#oc" x="159.73" y="144.75"/>
<use href="#oc" x="160.34" y="144.28"/>
<use href="#oc" x="160.94" y="143.81"/>
<use href="#oc" x="161.54" y="143.34"/>
<use href="#oc" x="162.14" y="142.87"/>
<use href="#oc" x="162.75" y="142.40"/>
<use href="#oc" x="163.35" y="141.92"/>
<use href="#oc" x="163.95" y="141.45"/>
<use href="#oc" x="164.55" y="140.97"/>
<use href="#oc" x="165.16" y="140.50"/>
<use href="#oc" x="165.76" y="140.02"/>
<use href="#oc" x="166.36" y="139.54"/>
<use href="#oc" x="166.96" y="139.07"/>
<use href="#oc" x="167.57" y="138.59"/>
<use href="#oc" x="168.17" y="138.11"/>
<use href="#oc" x="168.77" y="137.63"/>
<use href="#oc" x="169.37" y="137.15"/>
<use href="#oc" x="169.98" y="136.66"/>
<use href="#oc" x="170.58" y="136.18"/>
<use href="#oc" x="171.18" y="135.70"/>
<use href="#oc" x="171.78" y="135.21"/>
<use href="#oc" x="172.39" y="134.73"/>
<use href="#oc" x="172.99" y="134.24"/>
<use href="#oc" x="173.59" y="133.76"/>
<use href="#oc" x="174.19" y="133.27"/>
<use href="#oc" x="174.80" y="132.78"/>
<use href="#oc" x="175.40" y="132.30"/>
<use href="#oc" x="176.00" y="131.81"/>
<use href="#oc" x="176.60" y="131.32"/>
<use href="#oc" x="177.21" y="130.83"/>
<use href="#oc" x="177.81" y="130.34"/>
<use href="#oc" x="178.41" y="129.85"/>
<use href="#oc" x="179.01" y="129.35"/>
<use href="#oc" x="179.62" y="128.86"/>
<use href="#oc" x="180.22" y="128.37"/>
<use href="#oc" x="180.82" y="127.87"/>
<use href="#oc" x="181.42" y="127.38"/>
<use href="#oc" x="182.03" y="126.89"/>
<use href="#oc" x="182.63" y="126.39"/>
<use href="#oc" x="183.23" y="125.89"/>
<use href="#oc" x="183.83" y="125.40"/>
<use href="#oc" x="184.44" y="124.90"/>
<use href="#oc" x="185.04" y="124.40"/>
<use href="#oc" x="185.64" y="123.91"/>
<use href="#oc" x="186.24" y="123.41"/>
<use href="#oc" x="186.85" y="122.91"/>
<use href="#oc" x="187.45" y="122.41"/>
<use href="#oc" x="188.05" y="121.91"/>
<use href="#oc" x="188.65" y="121.41"/>
<use href="#oc" x="189.26" y="120.91"/>
<use href="#oc" x="189.86" y="120.41"/>
<use href="#oc" x="190.46" y="119.91"/>
<use href="#oc" x="191.06" y="119.41"/>
<use href="#oc" x="191.67" y="118.90"/>
<use href="#oc" x="192.27" y="118.40"/>
<use href="#oc" x="192.87" y="117.89"/>
<use href="#oc" x="193.47" y="117.39"/>
<use href="#oc" x="194.08" y="116.88"/>
<use href="#oc" x="194.68" y="116.37"/>
<use href="#oc" x="195.28" y="115.87"/>
<use href="#oc" x="195.88" y="115.36"/>
<use href="#oc" x="196.49" y="114.85"/>
<use href="#oc" x="197.09" y="114.33"/>
<use href="#oc" x="197.69" y="113.82"/>
<use href="#oc" x="198.29" y="113.31"/>
<use href="#oc" x="198.90" y="112.79"/>
<use href="#oc" x="199.50" y="112.28"/>
<use href="#oc" x="200.10" y="111.76"/>
<use href="#oc" x="200.70" y="111.25"/>
<use href="#oc" x="201.31" y="110.73"/>
<use href="#oc" x="201.91" y="110.21"/>
<use href="#oc" x="202.51" y="109.69"/>
<use href="#oc" x="203.11" y="109.17"/>
<use href="#oc" x="203.72" y="108.64"/>
<use href="#oc" x="204.32" y="108.12"/>
<use href="#oc" x="204.92" y="107.59"/>
<use href="#oc" x="205.52" y="107.07"/>
<use href="#oc" x="206.13" y="106.54"/>
<use href="#oc" x="206.73" y="106.01"/>
<use href="#oc" x="207.33" y="105.49"/>
<use href="#oc" x="207.93" y="104.96"/>
<use href="#oc" x="208.54" y="104.43"/>
<use href="#oc" x="209.14" y="103.89"/>
<use href="#oc" x="209.74" y="103.36"/>
<use href="#oc" x="210.34" y="102.83"/>
<use href="#oc" x="210.95" y="102.29"/>
<use href="#oc" x="211.55" y="101.75"/>
<use href="#oc" x="212.15" y="101.22"/>
<use href="#oc" x="212.75" y="100.68"/>
<use href="#oc" x="213.36" y="100.14"/>
<use href="#oc" x="213.96" y="99.60"/>
<use href="#oc" x="214.56" y="99.05"/>
<use href="#oc" x="215.16" y="98.51"/>
<use href="#oc" x="215.77" y="97.96"/>
<use href="#oc" x="216.37" y="97.42"/>
<use href="#oc" x="216.97" y="96.87"/>
<use href="#oc" x="217.57" y="96.32"/>
<use href="#oc" x="218.18" y="95.77"/>
<use href="#oc" x="218.78" y="95.22"/>
<use href="#oc" x="219.38" y="94.67"/>
<use href="#oc" x="219.98" y="94.12"/>
<use href="#oc" x="220.59" y="93.56"/>
<use href="#oc" x="221.19" y="93.01"/>
<use href="#oc" x="221.79" y="92.45"/>
<use href="#oc" x="222.39" y="91.89"/>
<use href="#oc" x="223.00" y="91.33"/>
<use href="#oc" x="223.60" y="90.77"/>
<use href="#oc" x="224.20" y="90.20"/>
<use href="#oc" x="224.80" y="89.64"/>
<use href="#oc" x="225.41" y="89.07"/>
<use href="#oc" x="226.01" y="88.50"/>
<use href="#oc" x="226.61" y="87.93"/>
<use href="#oc" x="227.21" y="87.36"/>
<use href="#oc" x="227.82" y="86.79"/>
<use href="#oc" x="228.42" y="86.22"/>
<use href="#oc" x="229.02" y="85.64"/>
<use href="#oc" x="229.62" y="85.06"/>
<use href="#oc" x="230.23" y="84.48"/>
<use href="#oc" x="230.83" y="83.90"/>
<use href="#oc" x="231.43" y="83.32"/>
<use href="#oc" x="232.03" y="82.73"/>
<use href="#oc" x="232.64" y="82.15"/>
<use href="#oc" x="233.24" y="81.56"/>
<use href="#oc" x="233.84" y="80.97"/>
<use href="#oc" x="234.44" y="80.38"/>
<use href="#oc" x="235.05" y="79.79"/>
<use href="#oc" x="235.65" y="79.19"/>
<use href="#oc" x="236.25" y="78.60"/>
<use href="#oc" x="236.85" y="78.00"/>
<use href="#oc" x="237.46" y="77.40"/>
<use href="#oc" x="238.06" y="76.80"/>
<use href="#oc" x="238.66" y="76.19"/>
<use href="#oc" x="239.26" y="75.59"/>
<use href="#oc" x="239.87" y="74.98"/>
<use href="#oc" x="240.47" y="74.37"/>
<use href="#oc" x="241.07" y="73.76"/>
<use href="#oc" x="241.67" y="73.15"/>
<use href="#oc" x="242.28" y="72.53"/>
<use href="#oc" x="242.88" y="71.92"/>
<use href="#oc" x="243.48" y="71.30"/>
<use href="#oc" x="244.08" y="70.68"/>
<use href="#oc" x="244.69" y="70.06"/>
<use href="#oc" x="245.29" y="69.43"/>
<use href="#oc" x="245.89" y="68.81"/>
<use href="#oc" x="246.49" y="68.18"/>
<use href="#oc" x="247.10" y="67.55"/>
<use href="#oc" x="247.70" y="66.92"/>
<use href="#oc" x="248.30" y="66.28"/>
<use href="#oc" x="248.90" y="65.65"/>
<use href="#oc" x="249.51" y="65.01"/>
<use href="#oc" x="250.11" y="64.37"/>
<use href="#oc" x="250.71" y="63.73"/>
<use href="#oc" x="251.31" y="63.09"/>
<use href="#oc" x="251.92" y="62.45"/>
<use href="#oc" x="252.52" y="61.81"/>
<use href="#oc" x="253.12" y="61.17"/>
<use href="#oc" x="253.72" y="60.53"/>
<use href="#oc" x="254.33" y="59.88"/>
<use href="#oc" x="254.93" y="59.24"/>
<use href="#oc" x="255.53" y="58.60"/>
<use href="#oc" x="256.13" y="57.95"/>
<use href="#oc" x="256.74" y="57.31"/>
<use href="#oc" x="257.34" y="56.66"/>
<use href="#oc" x="257.94" y="56.01"/>
<use href="#oc" x="258.54" y="55.36"/>
<use href="#oc" x="259.14" y="54.71"/>
<use href="#oc" x="259.75" y="54.06"/>
<use href="#oc" x="260.35" y="53.40"/>
<use href="#oc" x="260.95" y="52.74"/>
<use href="#oc" x="261.56" y="52.09"/>
<use href="#oc" x="262.16" y="51.42"/>
<use href="#oc" x="262.76" y="50.76"/>
<use href="#oc" x="263.36" y="50.10"/>
<use href="#oc" x="263.97" y="49.43"/>
<use href="#oc" x="264.57" y="48.76"/>
<use href="#oc" x="265.17" y="48.09"/>
<use href="#oc" x="265.77" y="47.41"/>
<use href="#oc" x="266.38" y="46.73"/>
<use href="#oc" x="266.98" y="46.05"/>
<use href="#oc" x="267.58" y="45.37"/>
<use href="#oc" x="268.18" y="44.68"/>
<use href="#oc" x="268.79" y="43.99"/>
<use href="#oc" x="269.39" y="43.30"/>
<use href="#oc" x="269.99" y="42.60"/>
<use href="#oc" x="270.59" y="41.90"/>
<use href="#oc" x="271.20" y="41.19"/>
<use href="#oc" x="271.80" y="40.48"/>
<use href="#oc" x="272.40" y="39.77"/>
<use href="#oc" x="273.00" y="39.05"/>
<use href="#oc" x="273.61" y="38.33"/>
<use href="#oc" x="274.21" y="37.61"/>
<use href="#oc" x="274.81" y="36.88"/>
<use href="#oc" x="275.41" y="36.14"/>
<use href="#oc" x="276.01" y="35.40"/>
<use href="#oc" x="276.62" y="34.66"/>
<use href="#oc" x="277.22" y="33.91"/>
<use href="#oc" x="277.82" y="33.15"/>
<use href="#oc" x="278.43" y="32.40"/>
<use href="#oc" x="279.03" y="31.63"/>
<use href="#oc" x="279.63" y="30.87"/>
<use href="#oc" x="280.23" y="30.10"/>
<use href="#oc" x="280.84" y="29.33"/>
<use href="#oc" x="281.44" y="28.56"/>
<use href="#oc" x="282.04" y="27.78"/>
<use href="#oc" x="282.64" y="27.00"/>
<use href="#oc" x="283.25" y="26.22"/>
<use href="#oc" x="283.85" y="25.43"/>
<use href="#oc" x="284.45" y="24.65"/>
<use href="#oc" x="285.05" y="23.85"/>
<use href="#oc" x="285.65" y="23.06"/>
<use href="#oc" x="286.26" y="22.26"/>
<use href="#oc" x="286.86" y="21.46"/>
<use href="#oc" x="287.46" y="20.65"/>
<use href="#oc" x="288.07" y="19.85"/>
<use href="#oc" x="288.67" y="19.03"/>
<use href="#oc" x="289.27" y="18.22"/>
<use href="#oc" x="289.87" y="17.40"/>
<use href="#oc" x="290.48" y="16.58"/>
<use href="#oc" x="291.08" y="15.76"/>
<use href="#oc" x="291.68" y="14.93"/>
<use href="#oc" x="292.28" y="14.10"/>
<use href="#oc" x="292.88" y="13.26"/>
<use href="#oc" x="293.49" y="12.43"/>
<use href="#oc" x="294.09" y="11.58"/>
<use href="#oc" x="294.69" y="10.74"/>
<use href="#oc" x="295.30" y="9.89"/>
<use href="#oc" x="295.90" y="9.04"/>
<use href="#mc" x="55.50" y="302.20"/>
<use href="#mc" x="57.28" y="277.91"/>
<use href="#mc" x="57.77" y="271.59"/>
<use href="#mc" x="58.27" y="267.13"/>
<use href="#mc" x="58.78" y="263.57"/>
<use href="#mc" x="59.30" y="260.54"/>
<use href="#mc" x="59.83" y="257.89"/>
<use href="#mc" x="60.36" y="255.51"/>
<use href="#mc" x="60.90" y="253.34"/>
<use href="#mc" x="61.45" y="251.34"/>
<use href="#mc" x="62.00" y="249.47"/>
<use href="#mc" x="62.56" y="247.72"/>
<use href="#mc" x="63.12" y="246.06"/>
<use href="#mc" x="63.69" y="244.49"/>
<use href="#mc" x="64.26" y="243.00"/>
<use href="#mc" x="64.83" y="241.57"/>
<use href="#mc" x="65.40" y="240.19"/>
<use href="#mc" x="65.98" y="238.87"/>
<use href="#mc" x="66.56" y="237.60"/>
<use href="#mc" x="67.14" y="236.37"/>
<use href="#mc" x="67.73" y="235.17"/>
<use href="#hc" x="68.31" y="234.02"/>
<use href="#mc" x="68.90" y="232.89"/>
<use href="#mc" x="69.49" y="231.80"/>
<use href="#hc" x="70.08" y="230.73"/>
<use href="#mc" x="70.67" y="229.69"/>
<use href="#mc" x="71.26" y="228.68"/>
<use href="#hc" x="71.85" y="227.69"/>
<use href="#mc" x="72.45" y="226.72"/>
<use href="#mc" x="73.04" y="225.76"/>
<use href="#hc" x="73.64" y="224.83"/>
<use href="#mc" x="74.24" y="223.92"/>
<use href="#mc" x="74.83" y="223.02"/>
<use href="#hc" x="75.43" y="222.14"/>
<use href="#mc" x="76.03" y="221.27"/>
<use href="#mc" x="76.63" y="220.42"/>
<use href="#hc" x="77.23" y="219.58"/>
<use href="#mc" x="77.82" y="218.76"/>
<use href="#mc" x="78.42" y="217.94"/>
<use href="#hc" x="79.02" y="217.14"/>
<use href="#mc" x="79.62" y="216.35"/>
<use href="#mc" x="80.22" y="215.57"/>
<use href="#hc" x="80.82" y="214.80"/>
<use href="#mc" x="81.43" y="214.05"/>
<use href="#mc" x="82.03" y="213.30"/>
<use href="#hc" x="82.63" y="212.56"/>
<use href="#mc" x="83.23" y="211.82"/>
<use href="#mc" x="83.83" y="211.10"/>
<use href="#hc" x="84.43" y="210.39"/>
<use href="#mc" x="85.03" y="209.68"/>
<use href="#mc" x="85.63" y="208.98"/>
<use href="#hc" x="86.24" y="208.29"/>
<use href="#mc" x="86.84" y="207.60"/>
<use href="#mc" x="87.44" y="206.92"/>
<use href="#hc" x="88.04" y="206.25"/>
<use href="#mc" x="88.64" y="205.58"/>
<use href="#mc" x="89.24" y="204.92"/>
<use href="#hc" x="89.85" y="204.27"/>
<use href="#mc" x="90.45" y="203.62"/>
<use href="#mc" x="91.05" y="202.98"/>
<use href="#hc" x="91.65" y="202.34"/>
<use href="#mc" x="92.26" y="201.71"/>
<use href="#mc" x="92.86" y="201.08"/>
<use href="#hc" x="93.46" y="200.46"/>
<use href="#mc" x="94.06" y="199.84"/>
<use href="#mc" x="94.66" y="199.23"/>
<use href="#hc" x="95.27" y="198.62"/>
<use href="#mc" x="95.87" y="198.01"/>
<use href="#mc" x="96.47" y="197.41"/>
<use href="#hc" x="97.07" y="196.81"/>
<use href="#mc" x="97.68" y="196.22"/>
<use href="#mc" x="98.28" y="195.63"/>
<use href="#hc" x="98.88" y="195.05"/>
<use href="#mc" x="99.48" y="194.47"/>
<use href="#mc" x="100.09" y="193.89"/>
<use href="#hc" x="100.69" y="193.31"/>
<use href="#mc" x="101.29" y="192.74"/>
<use href="#mc" x="101.89" y="192.17"/>
<use href="#hc" x="102.50" y="191.61"/>
<use href="#mc" x="103.10" y="191.05"/>
<use href="#mc" x="103.70" y="190.49"/>
<use href="#hc" x="104.30" y="189.93"/>
<use href="#mc" x="104.91" y="189.38"/>
<use href="#mc" x="105.51" y="188.83"/>
<use href="#hc" x="106.11" y="188.28"/>
<use href="#mc" x="106.71" y="187.73"/>
<use href="#mc" x="107.32" y="187.19"/>
<use href="#hc" x="107.92" y="186.65"/>
<use href="#mc" x="108.52" y="186.11"/>
<use href="#mc" x="109.12" y="185.58"/>
<use href="#hc" x="109.73" y="185.04"/>
<use href="#mc" x="110.33" y="184.51"/>
<use href="#mc" x="110.93" y="183.98"/>
<use href="#hc" x="111.53" y="183.45"/>
<use href="#mc" x="112.14" y="182.93"/>
<use href="#mc" x="112.74" y="182.41"/>
<use href="#hc" x="113.34" y="181.88"/>
<use href="#mc" x="113.94" y="181.37"/>
<use href="#mc" x="114.55" y="180.85"/>
<use href="#hc" x="115.15" y="180.33"/>
<use href="#mc" x="115.75" y="179.82"/>
<use href="#mc" x="116.35" y="179.31"/>
<use href="#hc" x="116.96" y="178.80"/>
<use href="#mc" x="117.56" y="178.29"/>
<use href="#mc" x="118.16" y="177.78"/>
<use href="#hc" x="118.76" y="177.27"/>
<use href="#mc" x="119.37" y="176.77"/>
<use href="#mc" x="119.97" y="176.27"/>
<use href="#hc" x="120.57" y="175.76"/>
<use href="#mc" x="121.17" y="175.26"/>
<use href="#mc" x="121.78" y="174.76"/>
<use href="#hc" x="122.38" y="174.27"/>
<use href="#mc" x="122.98" y="173.77"/>
<use href="#mc" x="123.58" y="173.27"/>
<use href="#hc" x="124.19" y="172.78"/>
<use href="#mc" x="124.79" y="172.29"/>
<use href="#mc" x="125.39" y="171.80"/>
<use href="#hc" x="125.99" y="171.31"/>
<use href="#mc" x="126.60" y="170.82"/>
<use href="#mc" x="127.20" y="170.33"/>
<use href="#hc" x="127.80" y="169.84"/>
<use href="#mc" x="128.40" y="169.35"/>
<use href="#mc" x="129.01" y="168.87"/>
<use href="#hc" x="129.61" y="168.38"/>
<use href="#mc" x="130.21" y="167.90"/>
<use href="#mc" x="130.81" y="167.41"/>
<use href="#hc" x="131.42" y="166.93"/>
<use href="#mc" x="132.02" y="166.45"/>
<use href="#mc" x="132.62" y="165.97"/>
<use href="#hc" x="133.22" y="165.49"/>
<use href="#mc" x="133.83" y="165.01"/>
<use href="#mc" x="134.43" y="164.53"/>
<use href="#hc" x="135.03" y="164.05"/>
<use href="#mc" x="135.63" y="163.58"/>
<use href="#mc" x="136.24" y="163.10"/>
<use href="#hc" x="136.84" y="162.62"/>
<use href="#mc" x="137.44" y="162.15"/>
<use href="#mc" x="138.04" y="161.67"/>
<use href="#hc" x="138.65" y="161.20"/>
<use href="#mc" x="139.25" y="160.72"/>
<use href="#mc" x="139.85" y="160.25"/>
<use href="#hc" x="140.45" y="159.78"/>
<use href="#mc" x="141.06" y="159.30"/>
<use href="#mc" x="141.66" y="158.83"/>
<use href="#hc" x="142.26" y="158.36"/>
<use href="#mc" x="142.86" y="157.89"/>
<use href="#mc" x="143.47" y="157.42"/>
<use href="#hc" x="144.07" y="156.95"/>
<use href="#mc" x="144.67" y="156.47"/>
<use href="#mc" x="145.27" y="156.00"/>
<use href="#hc" x="145.88" y="155.53"/>
<use href="#mc" x="146.48" y="155.06"/>
<use href="#mc" x="147.08" y="154.59"/>
<use href="#hc" x="147.68" y="154.13"/>
<use href="#mc" x="148.29" y="153.66"/>
<use href="#mc" x="148.89" y="153.19"/>
<use href="#hc" x="149.49" y="152.72"/>
<use href="#mc" x="150.09" y="152.25"/>
<use href="#mc" x="150.70" y="151.78"/>
<use href="#hc" x="151.30" y="151.31"/>
<use href="#mc" x="151.90" y="150.84"/>
<use href="#mc" x="152.50" y="150.37"/>
<use href="#hc" x="153.11" y="149.91"/>
<use href="#mc" x="153.71" y="149.44"/>
<use href="#mc" x="154.31" y="148.97"/>
<use href="#hc" x="154.91" y="148.50"/>
<use href="#mc" x="155.52" y="148.03"/>
<use href="#mc" x="156.12" y="147.56"/>
<use href="#hc" x="156.72" y="147.10"/>
<use href="#mc" x="157.32" y="146.63"/>
<use href="#mc" x="157.93" y="146.16"/>
<use href="#hc" x="158.53" y="145.69"/>
<use href="#mc" x="159.13" y="145.22"/>
<use href="#mc" x="159.73" y="144.75"/>
<use href="#hc" x="160.34" y="144.28"/>
<use href="#mc" x="160.94" y="143.81"/>
<use href="#mc" x="161.54" y="143.34"/>
<use href="#hc" x="162.14" y="142.87"/>
<use href="#mc" x="162.75" y="142.40"/>
<use href="#mc" x="163.35" y="141.92"/>
<use href="#hc" x="163.95" y="141.45"/>
<use href="#mc" x="164.55" y="140.97"/>
<use href="#mc" x="165.16" y="140.50"/>
<use href="#hc" x="165.76" y="140.02"/>
<use href="#mc" x="166.36" y="139.54"/>
<use href="#mc" x="166.96" y="139.07"/>
<use href="#hc" x="167.57" y="138.59"/>
<use href="#mc" x="168.17" y="138.11"/>
<use href="#mc" x="168.77" y="137.63"/>
<use href="#hc" x="169.37" y="137.15"/>
<use href="#mc" x="169.98" y="136.66"/>
<use href="#mc" x="170.58" y="136.18"/>
<use href="#hc" x="171.18" y="135.70"/>
<use href="#mc" x="171.78" y="135.21"/>
<use href="#mc" x="172.39" y="134.73"/>
<use href="#hc" x="172.99" y="134.24"/>
<use href="#mc" x="173.59" y="133.76"/>
<use href="#mc" x="174.19" y="133.27"/>
<use href="#hc" x="174.80" y="132.78"/>
<use href="#mc" x="175.40" y="132.30"/>
<use href="#mc" x="176.00" y="131.81"/>
<use href="#hc" x="176.60" y="131.32"/>
<use href="#mc" x="177.21" y="130.83"/>
<use href="#mc" x="177.81" y="130.34"/>
<use href="#hc" x="178.41" y="129.85"/>
<use href="#mc" x="179.01" y="129.35"/>
<use href="#mc" x="179.62" y="128.86"/>
<use href="#hc" x="180.22" y="128.37"/>
<use href="#mc" x="180.82" y="127.87"/>
<use href="#mc" x="181.42" y="127.38"/>
<use href="#hc" x="182.03" y="126.89"/>
<use href="#mc" x="182.63" y="126.39"/>
<use href="#mc" x="183.23" y="125.89"/>
<use href="#hc" x="183.83" y="125.40"/>
<use href="#mc" x="184.44" y="124.90"/>
<use href="#mc" x="185.04" y="124.40"/>
<use href="#hc" x="185.64" y="123.91"/>
<use href="#mc" x="186.24" y="123.41"/>
<use href="#mc" x="186.85" y="122.91"/>
<use href="#hc" x="187.45" y="122.41"/>
<use href="#mc" x="188.05" y="121.91"/>
<use href="#mc" x="188.65" y="121.41"/>
<use href="#hc" x="189.26" y="120.91"/>
<use href="#mc" x="189.86" y="120.41"/>
<use href="#mc" x="190.46" y="119.91"/>
<use href="#hc" x="191.06" y="119.41"/>
<use href="#mc" x="191.67" y="118.90"/>
<use href="#mc" x="192.27" y="118.40"/>
<use href="#hc" x="192.87" y="117.89"/>
<use href="#mc" x="193.47" y="117.39"/>
<use href="#mc" x="194.08" y="116.88"/>
<use href="#hc" x="194.68" y="116.37"/>
<use href="#mc" x="195.28" y="115.87"/>
<use href="#mc" x="195.88" y="115.36"/>
<use href="#hc" x="196.49" y="114.85"/>
<use href="#mc" x="197.09" y="114.33"/>
<use href="#mc" x="197.69" y="113.82"/>
<use href="#hc" x="198.29" y="113.31"/>
<use href="#mc" x="198.90" y="112.79"/>
<use href="#mc" x="199.50" y="112.28"/>
<use href="#hc" x="200.10" y="111.76"/>
<use href="#mc" x="200.70" y="111.25"/>
<use href="#mc" x="201.31" y="110.73"/>
<use href="#hc" x="201.91" y="110.21"/>
<use href="#mc" x="202.51" y="109.69"/>
<use href="#mc" x="203.11" y="109.17"/>
<use href="#hc" x="203.72" y="108.64"/>
<use href="#mc" x="204.32" y="108.12"/>
<use href="#mc" x="204.92" y="107.59"/>
<use href="#hc" x="205.52" y="107.07"/>
<use href="#mc" x="206.13" y="106.54"/>
<use href="#mc" x="206.73" y="106.01"/>
<use href="#hc" x="207.33" y="105.49"/>
<use href="#mc" x="207.93" y="104.96"/>
<use href="#mc" x="208.54" y="104.43"/>
<use href="#hc" x="209.14" y="103.89"/>
<use href="#mc" x="209.74" y="103.36"/>
<use href="#mc" x="210.34" y="102.83"/>
<use href="#hc" x="210.95" y="102.29"/>
<use href="#mc" x="211.55" y="101.75"/>
<use href="#mc" x="212.15" y="101.22"/>
<use href="#hc" x="212.75" y="100.68"/>
<use href="#mc" x="213.36" y="100.14"/>
<use href="#mc" x="213.96" y="99.60"/>
<use href="#hc" x="214.56" y="99.05"/>
<use href="#mc" x="215.16" y="98.51"/>
<use href="#mc" x="215.77" y="97.96"/>
<use href="#hc" x="216.37" y="97.42"/>
<use href="#mc" x="216.97" y="96.87"/>
<use href="#mc" x="217.57" y="96.32"/>
<use href="#hc" x="218.18" y="95.77"/>
<use href="#mc" x="218.78" y="95.22"/>
<use href="#mc" x="219.38" y="94.67"/>
<use href="#hc" x="219.98" y="94.12"/>
<use href="#mc" x="220.59" y="93.56"/>
<use href="#mc" x="221.19" y="93.01"/>
<use href="#hc" x="221.79" y="92.45"/>
<use href="#mc" x="222.39" y="91.89"/>
<use href="#mc" x="223.00" y="91.33"/>
<use href="#hc" x="223.60" y="90.77"/>
<use href="#mc" x="224.20" y="90.20"/>
<use href="#mc" x="224.80" y="89.64"/>
<use href="#hc" x="225.41" y="89.07"/>
<use href="#mc" x="226.01" y="88.50"/>
<use href="#mc" x="226.61" y="87.93"/>
<use href="#hc" x="227.21" y="87.36"/>
<use href="#mc" x="227.82" y="86.79"/>
<use href="#mc" x="228.42" y="86.22"/>
<use href="#hc" x="229.02" y="85.64"/>
<use href="#mc" x="229.62" y="85.06"/>
<use href="#mc" x="230.23" y="84.48"/>
<use href="#hc" x="230.83" y="83.90"/>
<use href="#mc" x="231.43" y="83.32"/>
<use href="#mc" x="232.03" y="82.73"/>
<use href="#hc" x="232.64" y="82.15"/>
<use href="#mc" x="233.24" y="81.56"/>
<use href="#mc" x="233.84" y="80.97"/>
<use href="#hc" x="234.44" y="80.38"/>
<use href="#mc" x="235.05" y="79.79"/>
<use href="#mc" x="235.65" y="79.19"/>
<use href="#hc" x="236.25" y="78.60"/>
<use href="#mc" x="236.85" y="78.00"/>
<use href="#mc" x="237.46" y="77.40"/>
<use href="#hc" x="238.06" y="76.80"/>
<use href="#mc" x="238.66" y="76.19"/>
<use href="#mc" x="239.26" y="75.59"/>
<use href="#hc" x="239.87" y="74.98"/>
<use href="#mc" x="240.47" y="74.37"/>
<use href="#mc" x="241.07" y="73.76"/>
<use href="#hc" x="241.67" y="73.15"/>
<use href="#mc" x="242.28" y="72.53"/>
<use href="#mc" x="242.88" y="71.92"/>
<use href="#hc" x="243.48" y="71.30"/>
<use href="#mc" x="244.08" y="70.68"/>
<use href="#mc" x="244.69" y="70.06"/>
<use href="#hc" x="245.29" y="69.43"/>
<use href="#mc" x="245.89" y="68.81"/>
<use href="#mc" x="246.49" y="68.18"/>
<use href="#hc" x="247.10" y="67.55"/>
<use href="#mc" x="247.70" y="66.92"/>
<use href="#mc" x="248.30" y="66.28"/>
<use href="#hc" x="248.90" y="65.65"/>
<use href="#mc" x="249.51" y="65.01"/>
<use href="#mc" x="250.11" y="64.37"/>
<use href="#hc" x="250.71" y="63.73"/>
<use href="#mc" x="251.31" y="63.09"/>
<use href="#mc" x="251.92" y="62.45"/>
<use href="#hc" x="252.52" y="61.81"/>
<use href="#mc" x="253.12" y="61.17"/>
<use href="#mc" x="253.72" y="60.53"/>
<use href="#hc" x="254.33" y="59.88"/>
<use href="#mc" x="254.93" y="59.24"/>
<use href="#mc" x="255.53" y="58.60"/>
<use href="#hc" x="256.13" y="57.95"/>
<use href="#mc" x="256.74" y="57.31"/>
<use href="#mc" x="257.34" y="56.66"/>
<use href="#hc" x="257.94" y="56.01"/>
<use href="#mc" x="258.54" y="55.36"/>
<use href="#mc" x="259.14" y="54.71"/>
<use href="#hc" x="259.75" y="54.06"/>
<use href="#mc" x="260.35" y="53.40"/>
<use href="#mc" x="260.95" y="52.74"/>
<use href="#hc" x="261.56" y="52.09"/>
<use href="#mc" x="262.16" y="51.42"/>
<use href="#mc" x="262.76" y="50.76"/>
<use href="#hc" x="263.36" y="50.10"/>
<use href="#mc" x="263.97" y="49.43"/>
<use href="#mc" x="264.57" y="48.76"/>
<use href="#hc" x="265.17" y="48.09"/>
<use href="#mc" x="265.77" y="47.41"/>
<use href="#mc" x="266.38" y="46.73"/>
<use href="#hc" x="266.98" y="46.05"/>
<use href="#mc" x="267.58" y="45.37"/>
<use href="#mc" x="268.18" y="44.68"/>
<use href="#hc" x="268.79" y="43.99"/>
<use href="#mc" x="269.39" y="43.30"/>
<use href="#mc" x="269.99" y="42.60"/>
<use href="#hc" x="270.59" y="41.90"/>
<use href="#mc" x="271.20" y="41.19"/>
<use href="#mc" x="271.80" y="40.48"/>
<use href="#hc" x="272.40" y="39.77"/>
<use href="#mc" x="273.00" y="39.05"/>
<use href="#mc" x="273.61" y="38.33"/>
<use href="#hc" x="274.21" y="37.61"/>
<use href="#mc" x="274.81" y="36.88"/>
<use href="#mc" x="275.41" y="36.14"/>
<use href="#hc" x="276.01" y="35.40"/>
<use href="#mc" x="276.62" y="34.66"/>
<use href="#mc" x="277.22" y="33.91"/>
<use href="#hc" x="277.82" y="33.15"/>
<use href="#mc" x="278.43" y="32.40"/>
<use href="#mc" x="279.03" y="31.63"/>
<use href="#hc" x="279.63" y="30.87"/>
<use href="#mc" x="280.23" y="30.10"/>
<use href="#mc" x="280.84" y="29.33"/>
<use href="#hc" x="281.44" y="28.56"/>
<use href="#mc" x="282.04" y="27.78"/>
<use href="#mc" x="282.64" y="27.00"/>
<use href="#hc" x="283.25" y="26.22"/>
<use href="#mc" x="283.85" y="25.43"/>
<use href="#mc" x="284.45" y="24.65"/>
<use href="#hc" x="285.05" y="23.85"/>
<use href="#mc" x="285.65" y="23.06"/>
<use href="#mc" x="286.26" y="22.26"/>
<use href="#hc" x="286.86" y="21.46"/>
<use href="#mc" x="287.46" y="20.65"/>
<use href="#mc" x="288.07" y="19.85"/>
<use href="#hc" x="288.67" y="19.03"/>
<use href="#mc" x="289.27" y="18.22"/>
<use href="#mc" x="289.87" y="17.40"/>
<use href="#hc" x="290.48" y="16.58"/>
<use href="#mc" x="291.08" y="15.76"/>
<use href="#mc" x="291.68" y="14.93"/>
<use href="#hc" x="292.28" y="14.10"/>
<use href="#mc" x="292.88" y="13.26"/>
<use href="#mc" x="293.49" y="12.43"/>
<use href="#hc" x="294.09" y="11.58"/>
<use href="#mc" x="294.69" y="10.74"/>
<use href="#mc" x="295.30" y="9.89"/>
<use href="#ec" x="295.90" y="9.04"/>
</g>
<use href="#et" x="77.85" y="18.0"/>
<use href="#es" x="77.45" y="41.25"/>
<use href="#ed" x="77.75" y="65.55"/>
<use href="#ec" x="77.65" y="89.35"/>
</svg>
<div id="tx">
<div class="t a" style="right:645.20px;top:293.71px;">0</div>
<div class="t a" style="right:645.20px;top:251.44px;">1</div>
<div class="t a" style="right:645.20px;top:209.17px;">2</div>
<div class="t a" style="right:645.20px;top:166.90px;">3</div>
<div class="t a" style="right:645.20px;top:124.63px;">4</div>
<div class="t a" style="right:645.20px;top:82.36px;">5</div>
<div class="t a" style="right:645.20px;top:40.09px;">6</div>
<div class="t a" style="right:645.20px;top:-2.18px;">7</div>
<div class="t a" style="left:-94.50px;width:300px;text-align:center;top:314.76px;">0</div>
<div class="t a" style="left:26.00px;width:300px;text-align:center;top:314.76px;">200</div>
<div class="t a" style="left:146.50px;width:300px;text-align:center;top:314.76px;">400</div>
<div class="t a" style="left:267.00px;width:300px;text-align:center;top:314.76px;">600</div>
<div class="t a" style="left:387.50px;width:300px;text-align:center;top:314.76px;">800</div>
<div class="t a" style="left:508.00px;width:300px;text-align:center;top:314.76px;">1000</div>
<div class="t a" style="left:228.00px;width:300px;text-align:center;top:338.66px;">Cycle</div>
<div class="t a" style="left:86.90px;top:9.36px;">No RAP</div>
<div class="t a" style="left:86.90px;top:33.16px;">35% RAP</div>
<div class="t a" style="left:86.90px;top:56.96px;">50% RAP</div>
<div class="t a" style="left:86.90px;top:80.76px;">65% RAP</div>
<div class="t" style="font-size:17.55px;left:-135.50px;top:143.02px;width:300px;height:17.55px;text-align:center;transform:rotate(-90deg) translateY(-5.9px);transform-origin:50% 50%;">Permanent Strain (10000 <span style="letter-spacing:2.2px">µ</span>ε)</div>
<div class="t b" style="right:180.10px;top:250.31px;">0</div>
<div class="t b" style="right:180.10px;top:217.83px;">100</div>
<div class="t b" style="right:180.10px;top:185.36px;">200</div>
<div class="t b" style="right:180.10px;top:152.88px;">300</div>
<div class="t b" style="right:180.10px;top:120.41px;">400</div>
<div class="t b" style="left:385.60px;width:300px;text-align:center;top:264.45px;">0</div>
<div class="t b" style="left:427.50px;width:300px;text-align:center;top:264.45px;">35</div>
<div class="t b" style="left:469.10px;width:300px;text-align:center;top:264.45px;">50</div>
<div class="t b" style="left:511.00px;width:300px;text-align:center;top:264.45px;">65</div>
<div class="t b" style="left:446.40px;width:300px;text-align:center;top:279.95px;">RAP Content (%)</div>
<div class="t" style="font-size:11.8px;left:325.60px;top:187.80px;width:300px;height:11.8px;text-align:center;transform:rotate(-90deg) translateY(-3.98px);transform-origin:50% 50%;">Flow Number</div>
</div>
</div></body></html>
